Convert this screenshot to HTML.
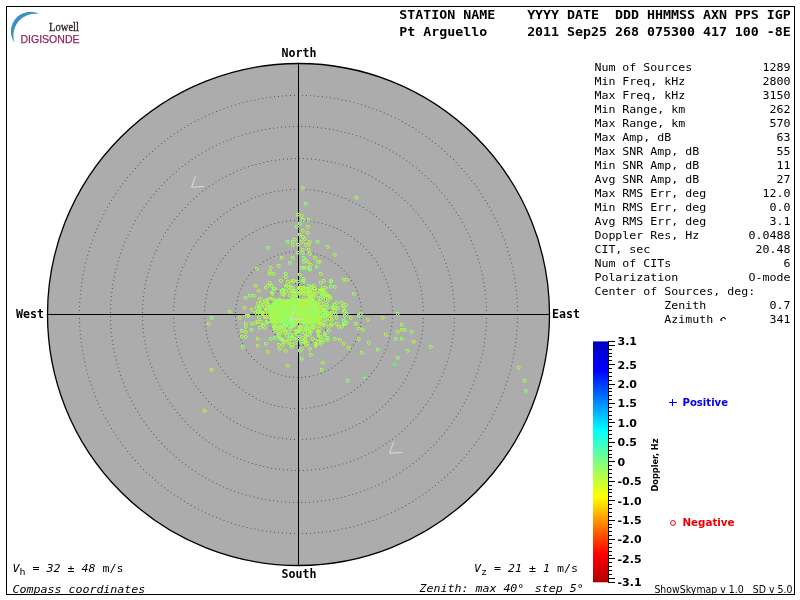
<!DOCTYPE html><html><head><meta charset="utf-8"><title>Skymap</title><style>html,body{margin:0;padding:0;background:#fff;width:800px;height:600px;overflow:hidden}svg{display:block;will-change:transform}text{font-family:"DejaVu Sans Mono","Liberation Mono",monospace;white-space:pre}</style></head><body>
<svg width="800" height="600" viewBox="0 0 800 600">
<rect x="0" y="0" width="800" height="600" fill="#fff"/>
<rect x="6.5" y="6.5" width="788" height="588" fill="none" stroke="#000" stroke-width="1"/>
<path d="M39.1 14 A19.4 19.4 0 0 0 14.6 42.7 A21.92 21.92 0 0 1 39.1 14Z" fill="#3a92c2"/>
<text x="49" y="30.8" font-size="12" fill="#2a1f2a" stroke="#2a1f2a" stroke-width="0.3" textLength="30" lengthAdjust="spacingAndGlyphs" style="font-family:'Liberation Serif',serif">Lowell</text>
<text x="20.5" y="43" font-size="11.2" fill="#952562" stroke="#952562" stroke-width="0.25" textLength="59" lengthAdjust="spacingAndGlyphs" style="font-family:'Liberation Sans',sans-serif">DIGISONDE</text>
<text transform="translate(399.3,19) scale(1,0.875)" font-size="13.29" font-weight="bold" font-style="normal" fill="#000" text-anchor="start" xml:space="preserve" >STATION NAME    YYYY DATE  DDD HHMMSS AXN PPS IGP</text>
<text transform="translate(399.3,36) scale(1,0.875)" font-size="13.29" font-weight="bold" font-style="normal" fill="#000" text-anchor="start" xml:space="preserve" >Pt Arguello     2011 Sep25 268 075300 417 100 -8E</text>
<circle cx="298.5" cy="314.5" r="251" fill="#acacac" stroke="#000" stroke-width="1.3"/>
<path d="M329.0 314.0h1v1h-1zM328.7 318.0h1v1h-1zM328.0 321.9h1v1h-1zM326.7 325.6h1v1h-1zM325.0 329.2h1v1h-1zM322.8 332.5h1v1h-1zM320.3 335.6h1v1h-1zM317.3 338.2h1v1h-1zM314.1 340.5h1v1h-1zM310.5 342.3h1v1h-1zM306.8 343.7h1v1h-1zM302.9 344.6h1v1h-1zM299.0 345.0h1v1h-1zM295.0 344.9h1v1h-1zM291.1 344.2h1v1h-1zM287.3 343.1h1v1h-1zM283.7 341.5h1v1h-1zM280.3 339.4h1v1h-1zM277.2 336.9h1v1h-1zM274.4 334.1h1v1h-1zM272.0 330.9h1v1h-1zM270.1 327.5h1v1h-1zM268.6 323.8h1v1h-1zM267.6 319.9h1v1h-1zM267.1 316.0h1v1h-1zM267.1 312.0h1v1h-1zM267.6 308.1h1v1h-1zM268.6 304.2h1v1h-1zM270.1 300.5h1v1h-1zM272.0 297.1h1v1h-1zM274.4 293.9h1v1h-1zM277.2 291.1h1v1h-1zM280.3 288.6h1v1h-1zM283.7 286.5h1v1h-1zM287.3 284.9h1v1h-1zM291.1 283.8h1v1h-1zM295.0 283.1h1v1h-1zM299.0 283.0h1v1h-1zM302.9 283.4h1v1h-1zM306.8 284.3h1v1h-1zM310.5 285.7h1v1h-1zM314.1 287.5h1v1h-1zM317.3 289.8h1v1h-1zM320.3 292.4h1v1h-1zM322.8 295.5h1v1h-1zM325.0 298.8h1v1h-1zM326.7 302.4h1v1h-1zM328.0 306.1h1v1h-1zM328.7 310.0h1v1h-1zM361.0 314.0h1v1h-1zM360.9 318.0h1v1h-1zM360.5 322.0h1v1h-1zM359.9 325.9h1v1h-1zM359.0 329.8h1v1h-1zM357.9 333.7h1v1h-1zM356.5 337.4h1v1h-1zM354.9 341.1h1v1h-1zM353.1 344.6h1v1h-1zM351.0 348.1h1v1h-1zM348.7 351.4h1v1h-1zM346.3 354.5h1v1h-1zM343.6 357.5h1v1h-1zM340.7 360.3h1v1h-1zM337.7 362.9h1v1h-1zM334.5 365.3h1v1h-1zM331.2 367.5h1v1h-1zM327.8 369.5h1v1h-1zM324.2 371.3h1v1h-1zM320.5 372.9h1v1h-1zM316.7 374.2h1v1h-1zM312.9 375.2h1v1h-1zM308.9 376.0h1v1h-1zM305.0 376.6h1v1h-1zM301.0 376.9h1v1h-1zM297.0 377.0h1v1h-1zM293.0 376.8h1v1h-1zM289.0 376.4h1v1h-1zM285.1 375.7h1v1h-1zM281.2 374.7h1v1h-1zM277.4 373.5h1v1h-1zM273.7 372.1h1v1h-1zM270.0 370.4h1v1h-1zM266.5 368.6h1v1h-1zM263.1 366.5h1v1h-1zM259.8 364.1h1v1h-1zM256.7 361.6h1v1h-1zM253.8 358.9h1v1h-1zM251.0 356.0h1v1h-1zM248.5 352.9h1v1h-1zM246.1 349.7h1v1h-1zM243.9 346.4h1v1h-1zM242.0 342.9h1v1h-1zM240.3 339.3h1v1h-1zM238.8 335.5h1v1h-1zM237.6 331.7h1v1h-1zM236.5 327.9h1v1h-1zM235.8 324.0h1v1h-1zM235.3 320.0h1v1h-1zM235.0 316.0h1v1h-1zM235.0 312.0h1v1h-1zM235.3 308.0h1v1h-1zM235.8 304.0h1v1h-1zM236.5 300.1h1v1h-1zM237.6 296.3h1v1h-1zM238.8 292.5h1v1h-1zM240.3 288.7h1v1h-1zM242.0 285.1h1v1h-1zM243.9 281.6h1v1h-1zM246.1 278.3h1v1h-1zM248.5 275.1h1v1h-1zM251.0 272.0h1v1h-1zM253.8 269.1h1v1h-1zM256.7 266.4h1v1h-1zM259.8 263.9h1v1h-1zM263.1 261.5h1v1h-1zM266.5 259.4h1v1h-1zM270.0 257.6h1v1h-1zM273.7 255.9h1v1h-1zM277.4 254.5h1v1h-1zM281.2 253.3h1v1h-1zM285.1 252.3h1v1h-1zM289.0 251.6h1v1h-1zM293.0 251.2h1v1h-1zM297.0 251.0h1v1h-1zM301.0 251.1h1v1h-1zM305.0 251.4h1v1h-1zM308.9 252.0h1v1h-1zM312.9 252.8h1v1h-1zM316.7 253.8h1v1h-1zM320.5 255.1h1v1h-1zM324.2 256.7h1v1h-1zM327.8 258.5h1v1h-1zM331.2 260.5h1v1h-1zM334.5 262.7h1v1h-1zM337.7 265.1h1v1h-1zM340.7 267.7h1v1h-1zM343.6 270.5h1v1h-1zM346.3 273.5h1v1h-1zM348.7 276.6h1v1h-1zM351.0 279.9h1v1h-1zM353.1 283.4h1v1h-1zM354.9 286.9h1v1h-1zM356.5 290.6h1v1h-1zM357.9 294.3h1v1h-1zM359.0 298.2h1v1h-1zM359.9 302.1h1v1h-1zM360.5 306.0h1v1h-1zM360.9 310.0h1v1h-1zM392.0 314.0h1v1h-1zM391.9 318.0h1v1h-1zM391.7 322.0h1v1h-1zM391.2 325.9h1v1h-1zM390.6 329.9h1v1h-1zM389.9 333.8h1v1h-1zM389.0 337.7h1v1h-1zM387.9 341.5h1v1h-1zM386.6 345.3h1v1h-1zM385.2 349.0h1v1h-1zM383.7 352.7h1v1h-1zM381.9 356.3h1v1h-1zM380.1 359.8h1v1h-1zM378.0 363.3h1v1h-1zM375.9 366.6h1v1h-1zM373.6 369.9h1v1h-1zM371.1 373.1h1v1h-1zM368.6 376.1h1v1h-1zM365.9 379.0h1v1h-1zM363.0 381.9h1v1h-1zM360.1 384.6h1v1h-1zM357.1 387.1h1v1h-1zM353.9 389.6h1v1h-1zM350.6 391.9h1v1h-1zM347.3 394.0h1v1h-1zM343.8 396.1h1v1h-1zM340.3 397.9h1v1h-1zM336.7 399.7h1v1h-1zM333.0 401.2h1v1h-1zM329.3 402.6h1v1h-1zM325.5 403.9h1v1h-1zM321.7 405.0h1v1h-1zM317.8 405.9h1v1h-1zM313.9 406.6h1v1h-1zM309.9 407.2h1v1h-1zM306.0 407.7h1v1h-1zM302.0 407.9h1v1h-1zM298.0 408.0h1v1h-1zM294.0 407.9h1v1h-1zM290.0 407.7h1v1h-1zM286.1 407.2h1v1h-1zM282.1 406.6h1v1h-1zM278.2 405.9h1v1h-1zM274.3 405.0h1v1h-1zM270.5 403.9h1v1h-1zM266.7 402.6h1v1h-1zM263.0 401.2h1v1h-1zM259.3 399.7h1v1h-1zM255.7 397.9h1v1h-1zM252.2 396.1h1v1h-1zM248.7 394.0h1v1h-1zM245.4 391.9h1v1h-1zM242.1 389.6h1v1h-1zM238.9 387.1h1v1h-1zM235.9 384.6h1v1h-1zM233.0 381.9h1v1h-1zM230.1 379.0h1v1h-1zM227.4 376.1h1v1h-1zM224.9 373.1h1v1h-1zM222.4 369.9h1v1h-1zM220.1 366.6h1v1h-1zM218.0 363.3h1v1h-1zM215.9 359.8h1v1h-1zM214.1 356.3h1v1h-1zM212.3 352.7h1v1h-1zM210.8 349.0h1v1h-1zM209.4 345.3h1v1h-1zM208.1 341.5h1v1h-1zM207.0 337.7h1v1h-1zM206.1 333.8h1v1h-1zM205.4 329.9h1v1h-1zM204.8 325.9h1v1h-1zM204.3 322.0h1v1h-1zM204.1 318.0h1v1h-1zM204.0 314.0h1v1h-1zM204.1 310.0h1v1h-1zM204.3 306.0h1v1h-1zM204.8 302.1h1v1h-1zM205.4 298.1h1v1h-1zM206.1 294.2h1v1h-1zM207.0 290.3h1v1h-1zM208.1 286.5h1v1h-1zM209.4 282.7h1v1h-1zM210.8 279.0h1v1h-1zM212.3 275.3h1v1h-1zM214.1 271.7h1v1h-1zM215.9 268.2h1v1h-1zM218.0 264.7h1v1h-1zM220.1 261.4h1v1h-1zM222.4 258.1h1v1h-1zM224.9 254.9h1v1h-1zM227.4 251.9h1v1h-1zM230.1 249.0h1v1h-1zM233.0 246.1h1v1h-1zM235.9 243.4h1v1h-1zM238.9 240.9h1v1h-1zM242.1 238.4h1v1h-1zM245.4 236.1h1v1h-1zM248.7 234.0h1v1h-1zM252.2 231.9h1v1h-1zM255.7 230.1h1v1h-1zM259.3 228.3h1v1h-1zM263.0 226.8h1v1h-1zM266.7 225.4h1v1h-1zM270.5 224.1h1v1h-1zM274.3 223.0h1v1h-1zM278.2 222.1h1v1h-1zM282.1 221.4h1v1h-1zM286.1 220.8h1v1h-1zM290.0 220.3h1v1h-1zM294.0 220.1h1v1h-1zM298.0 220.0h1v1h-1zM302.0 220.1h1v1h-1zM306.0 220.3h1v1h-1zM309.9 220.8h1v1h-1zM313.9 221.4h1v1h-1zM317.8 222.1h1v1h-1zM321.7 223.0h1v1h-1zM325.5 224.1h1v1h-1zM329.3 225.4h1v1h-1zM333.0 226.8h1v1h-1zM336.7 228.3h1v1h-1zM340.3 230.1h1v1h-1zM343.8 231.9h1v1h-1zM347.3 234.0h1v1h-1zM350.6 236.1h1v1h-1zM353.9 238.4h1v1h-1zM357.1 240.9h1v1h-1zM360.1 243.4h1v1h-1zM363.0 246.1h1v1h-1zM365.9 249.0h1v1h-1zM368.6 251.9h1v1h-1zM371.1 254.9h1v1h-1zM373.6 258.1h1v1h-1zM375.9 261.4h1v1h-1zM378.0 264.7h1v1h-1zM380.1 268.2h1v1h-1zM381.9 271.7h1v1h-1zM383.7 275.3h1v1h-1zM385.2 279.0h1v1h-1zM386.6 282.7h1v1h-1zM387.9 286.5h1v1h-1zM389.0 290.3h1v1h-1zM389.9 294.2h1v1h-1zM390.6 298.1h1v1h-1zM391.2 302.1h1v1h-1zM391.7 306.0h1v1h-1zM391.9 310.0h1v1h-1zM423.0 314.0h1v1h-1zM422.9 318.0h1v1h-1zM422.7 322.0h1v1h-1zM422.4 326.0h1v1h-1zM422.0 330.0h1v1h-1zM421.4 333.9h1v1h-1zM420.7 337.9h1v1h-1zM419.9 341.8h1v1h-1zM418.9 345.7h1v1h-1zM417.8 349.6h1v1h-1zM416.6 353.4h1v1h-1zM415.3 357.2h1v1h-1zM413.9 360.9h1v1h-1zM412.3 364.6h1v1h-1zM410.6 368.2h1v1h-1zM408.8 371.8h1v1h-1zM406.9 375.3h1v1h-1zM404.9 378.8h1v1h-1zM402.8 382.2h1v1h-1zM400.5 385.5h1v1h-1zM398.2 388.8h1v1h-1zM395.7 391.9h1v1h-1zM393.2 395.0h1v1h-1zM390.5 398.0h1v1h-1zM387.8 401.0h1v1h-1zM385.0 403.8h1v1h-1zM382.0 406.5h1v1h-1zM379.0 409.2h1v1h-1zM375.9 411.7h1v1h-1zM372.8 414.2h1v1h-1zM369.5 416.5h1v1h-1zM366.2 418.8h1v1h-1zM362.8 420.9h1v1h-1zM359.3 422.9h1v1h-1zM355.8 424.8h1v1h-1zM352.2 426.6h1v1h-1zM348.6 428.3h1v1h-1zM344.9 429.9h1v1h-1zM341.2 431.3h1v1h-1zM337.4 432.6h1v1h-1zM333.6 433.8h1v1h-1zM329.7 434.9h1v1h-1zM325.8 435.9h1v1h-1zM321.9 436.7h1v1h-1zM317.9 437.4h1v1h-1zM314.0 438.0h1v1h-1zM310.0 438.4h1v1h-1zM306.0 438.7h1v1h-1zM302.0 438.9h1v1h-1zM298.0 439.0h1v1h-1zM294.0 438.9h1v1h-1zM290.0 438.7h1v1h-1zM286.0 438.4h1v1h-1zM282.0 438.0h1v1h-1zM278.1 437.4h1v1h-1zM274.1 436.7h1v1h-1zM270.2 435.9h1v1h-1zM266.3 434.9h1v1h-1zM262.4 433.8h1v1h-1zM258.6 432.6h1v1h-1zM254.8 431.3h1v1h-1zM251.1 429.9h1v1h-1zM247.4 428.3h1v1h-1zM243.8 426.6h1v1h-1zM240.2 424.8h1v1h-1zM236.7 422.9h1v1h-1zM233.2 420.9h1v1h-1zM229.8 418.8h1v1h-1zM226.5 416.5h1v1h-1zM223.2 414.2h1v1h-1zM220.1 411.7h1v1h-1zM217.0 409.2h1v1h-1zM214.0 406.5h1v1h-1zM211.0 403.8h1v1h-1zM208.2 401.0h1v1h-1zM205.5 398.0h1v1h-1zM202.8 395.0h1v1h-1zM200.3 391.9h1v1h-1zM197.8 388.8h1v1h-1zM195.5 385.5h1v1h-1zM193.2 382.2h1v1h-1zM191.1 378.8h1v1h-1zM189.1 375.3h1v1h-1zM187.2 371.8h1v1h-1zM185.4 368.2h1v1h-1zM183.7 364.6h1v1h-1zM182.1 360.9h1v1h-1zM180.7 357.2h1v1h-1zM179.4 353.4h1v1h-1zM178.2 349.6h1v1h-1zM177.1 345.7h1v1h-1zM176.1 341.8h1v1h-1zM175.3 337.9h1v1h-1zM174.6 333.9h1v1h-1zM174.0 330.0h1v1h-1zM173.6 326.0h1v1h-1zM173.3 322.0h1v1h-1zM173.1 318.0h1v1h-1zM173.0 314.0h1v1h-1zM173.1 310.0h1v1h-1zM173.3 306.0h1v1h-1zM173.6 302.0h1v1h-1zM174.0 298.0h1v1h-1zM174.6 294.1h1v1h-1zM175.3 290.1h1v1h-1zM176.1 286.2h1v1h-1zM177.1 282.3h1v1h-1zM178.2 278.4h1v1h-1zM179.4 274.6h1v1h-1zM180.7 270.8h1v1h-1zM182.1 267.1h1v1h-1zM183.7 263.4h1v1h-1zM185.4 259.8h1v1h-1zM187.2 256.2h1v1h-1zM189.1 252.7h1v1h-1zM191.1 249.2h1v1h-1zM193.2 245.8h1v1h-1zM195.5 242.5h1v1h-1zM197.8 239.2h1v1h-1zM200.3 236.1h1v1h-1zM202.8 233.0h1v1h-1zM205.5 230.0h1v1h-1zM208.2 227.0h1v1h-1zM211.0 224.2h1v1h-1zM214.0 221.5h1v1h-1zM217.0 218.8h1v1h-1zM220.1 216.3h1v1h-1zM223.2 213.8h1v1h-1zM226.5 211.5h1v1h-1zM229.8 209.2h1v1h-1zM233.2 207.1h1v1h-1zM236.7 205.1h1v1h-1zM240.2 203.2h1v1h-1zM243.8 201.4h1v1h-1zM247.4 199.7h1v1h-1zM251.1 198.1h1v1h-1zM254.8 196.7h1v1h-1zM258.6 195.4h1v1h-1zM262.4 194.2h1v1h-1zM266.3 193.1h1v1h-1zM270.2 192.1h1v1h-1zM274.1 191.3h1v1h-1zM278.1 190.6h1v1h-1zM282.0 190.0h1v1h-1zM286.0 189.6h1v1h-1zM290.0 189.3h1v1h-1zM294.0 189.1h1v1h-1zM298.0 189.0h1v1h-1zM302.0 189.1h1v1h-1zM306.0 189.3h1v1h-1zM310.0 189.6h1v1h-1zM314.0 190.0h1v1h-1zM317.9 190.6h1v1h-1zM321.9 191.3h1v1h-1zM325.8 192.1h1v1h-1zM329.7 193.1h1v1h-1zM333.6 194.2h1v1h-1zM337.4 195.4h1v1h-1zM341.2 196.7h1v1h-1zM344.9 198.1h1v1h-1zM348.6 199.7h1v1h-1zM352.2 201.4h1v1h-1zM355.8 203.2h1v1h-1zM359.3 205.1h1v1h-1zM362.8 207.1h1v1h-1zM366.2 209.2h1v1h-1zM369.5 211.5h1v1h-1zM372.8 213.8h1v1h-1zM375.9 216.3h1v1h-1zM379.0 218.8h1v1h-1zM382.0 221.5h1v1h-1zM385.0 224.2h1v1h-1zM387.8 227.0h1v1h-1zM390.5 230.0h1v1h-1zM393.2 233.0h1v1h-1zM395.7 236.1h1v1h-1zM398.2 239.2h1v1h-1zM400.5 242.5h1v1h-1zM402.8 245.8h1v1h-1zM404.9 249.2h1v1h-1zM406.9 252.7h1v1h-1zM408.8 256.2h1v1h-1zM410.6 259.8h1v1h-1zM412.3 263.4h1v1h-1zM413.9 267.1h1v1h-1zM415.3 270.8h1v1h-1zM416.6 274.6h1v1h-1zM417.8 278.4h1v1h-1zM418.9 282.3h1v1h-1zM419.9 286.2h1v1h-1zM420.7 290.1h1v1h-1zM421.4 294.1h1v1h-1zM422.0 298.0h1v1h-1zM422.4 302.0h1v1h-1zM422.7 306.0h1v1h-1zM422.9 310.0h1v1h-1zM454.0 314.0h1v1h-1zM453.9 318.0h1v1h-1zM453.8 322.0h1v1h-1zM453.5 326.0h1v1h-1zM453.2 330.0h1v1h-1zM452.7 333.9h1v1h-1zM452.2 337.9h1v1h-1zM451.5 341.9h1v1h-1zM450.7 345.8h1v1h-1zM449.9 349.7h1v1h-1zM448.9 353.6h1v1h-1zM447.8 357.4h1v1h-1zM446.7 361.3h1v1h-1zM445.4 365.1h1v1h-1zM444.1 368.8h1v1h-1zM442.6 372.5h1v1h-1zM441.1 376.2h1v1h-1zM439.4 379.9h1v1h-1zM437.7 383.5h1v1h-1zM435.8 387.0h1v1h-1zM433.9 390.6h1v1h-1zM431.9 394.0h1v1h-1zM429.8 397.4h1v1h-1zM427.6 400.8h1v1h-1zM425.4 404.1h1v1h-1zM423.0 407.3h1v1h-1zM420.6 410.5h1v1h-1zM418.1 413.6h1v1h-1zM415.5 416.6h1v1h-1zM412.8 419.6h1v1h-1zM410.1 422.5h1v1h-1zM407.2 425.4h1v1h-1zM404.4 428.1h1v1h-1zM401.4 430.8h1v1h-1zM398.4 433.4h1v1h-1zM395.3 436.0h1v1h-1zM392.1 438.4h1v1h-1zM388.9 440.8h1v1h-1zM385.6 443.1h1v1h-1zM382.3 445.3h1v1h-1zM378.9 447.4h1v1h-1zM375.4 449.4h1v1h-1zM371.9 451.4h1v1h-1zM368.4 453.2h1v1h-1zM364.8 455.0h1v1h-1zM361.1 456.6h1v1h-1zM357.5 458.2h1v1h-1zM353.7 459.7h1v1h-1zM350.0 461.1h1v1h-1zM346.2 462.4h1v1h-1zM342.4 463.6h1v1h-1zM338.5 464.6h1v1h-1zM334.7 465.6h1v1h-1zM330.8 466.5h1v1h-1zM326.8 467.3h1v1h-1zM322.9 468.0h1v1h-1zM318.9 468.6h1v1h-1zM315.0 469.1h1v1h-1zM311.0 469.5h1v1h-1zM307.0 469.7h1v1h-1zM303.0 469.9h1v1h-1zM299.0 470.0h1v1h-1zM295.0 470.0h1v1h-1zM291.0 469.8h1v1h-1zM287.0 469.6h1v1h-1zM283.0 469.3h1v1h-1zM279.0 468.8h1v1h-1zM275.1 468.3h1v1h-1zM271.1 467.7h1v1h-1zM267.2 466.9h1v1h-1zM263.3 466.1h1v1h-1zM259.4 465.1h1v1h-1zM255.5 464.1h1v1h-1zM251.7 463.0h1v1h-1zM247.9 461.7h1v1h-1zM244.1 460.4h1v1h-1zM240.4 459.0h1v1h-1zM236.7 457.4h1v1h-1zM233.0 455.8h1v1h-1zM229.4 454.1h1v1h-1zM225.8 452.3h1v1h-1zM222.3 450.4h1v1h-1zM218.8 448.4h1v1h-1zM215.4 446.4h1v1h-1zM212.1 444.2h1v1h-1zM208.7 441.9h1v1h-1zM205.5 439.6h1v1h-1zM202.3 437.2h1v1h-1zM199.2 434.7h1v1h-1zM196.1 432.1h1v1h-1zM193.1 429.5h1v1h-1zM190.2 426.8h1v1h-1zM187.3 424.0h1v1h-1zM184.6 421.1h1v1h-1zM181.8 418.1h1v1h-1zM179.2 415.1h1v1h-1zM176.7 412.0h1v1h-1zM174.2 408.9h1v1h-1zM171.8 405.7h1v1h-1zM169.5 402.4h1v1h-1zM167.3 399.1h1v1h-1zM165.1 395.7h1v1h-1zM163.1 392.3h1v1h-1zM161.1 388.8h1v1h-1zM159.2 385.3h1v1h-1zM157.4 381.7h1v1h-1zM155.8 378.1h1v1h-1zM154.2 374.4h1v1h-1zM152.7 370.7h1v1h-1zM151.3 366.9h1v1h-1zM149.9 363.2h1v1h-1zM148.7 359.3h1v1h-1zM147.6 355.5h1v1h-1zM146.6 351.6h1v1h-1zM145.7 347.7h1v1h-1zM144.9 343.8h1v1h-1zM144.2 339.9h1v1h-1zM143.5 335.9h1v1h-1zM143.0 332.0h1v1h-1zM142.6 328.0h1v1h-1zM142.3 324.0h1v1h-1zM142.1 320.0h1v1h-1zM142.0 316.0h1v1h-1zM142.0 312.0h1v1h-1zM142.1 308.0h1v1h-1zM142.3 304.0h1v1h-1zM142.6 300.0h1v1h-1zM143.0 296.0h1v1h-1zM143.5 292.1h1v1h-1zM144.2 288.1h1v1h-1zM144.9 284.2h1v1h-1zM145.7 280.3h1v1h-1zM146.6 276.4h1v1h-1zM147.6 272.5h1v1h-1zM148.7 268.7h1v1h-1zM149.9 264.8h1v1h-1zM151.3 261.1h1v1h-1zM152.7 257.3h1v1h-1zM154.2 253.6h1v1h-1zM155.8 249.9h1v1h-1zM157.4 246.3h1v1h-1zM159.2 242.7h1v1h-1zM161.1 239.2h1v1h-1zM163.1 235.7h1v1h-1zM165.1 232.3h1v1h-1zM167.3 228.9h1v1h-1zM169.5 225.6h1v1h-1zM171.8 222.3h1v1h-1zM174.2 219.1h1v1h-1zM176.7 216.0h1v1h-1zM179.2 212.9h1v1h-1zM181.8 209.9h1v1h-1zM184.6 206.9h1v1h-1zM187.3 204.0h1v1h-1zM190.2 201.2h1v1h-1zM193.1 198.5h1v1h-1zM196.1 195.9h1v1h-1zM199.2 193.3h1v1h-1zM202.3 190.8h1v1h-1zM205.5 188.4h1v1h-1zM208.7 186.1h1v1h-1zM212.1 183.8h1v1h-1zM215.4 181.6h1v1h-1zM218.8 179.6h1v1h-1zM222.3 177.6h1v1h-1zM225.8 175.7h1v1h-1zM229.4 173.9h1v1h-1zM233.0 172.2h1v1h-1zM236.7 170.6h1v1h-1zM240.4 169.0h1v1h-1zM244.1 167.6h1v1h-1zM247.9 166.3h1v1h-1zM251.7 165.0h1v1h-1zM255.5 163.9h1v1h-1zM259.4 162.9h1v1h-1zM263.3 161.9h1v1h-1zM267.2 161.1h1v1h-1zM271.1 160.3h1v1h-1zM275.1 159.7h1v1h-1zM279.0 159.2h1v1h-1zM283.0 158.7h1v1h-1zM287.0 158.4h1v1h-1zM291.0 158.2h1v1h-1zM295.0 158.0h1v1h-1zM299.0 158.0h1v1h-1zM303.0 158.1h1v1h-1zM307.0 158.3h1v1h-1zM311.0 158.5h1v1h-1zM315.0 158.9h1v1h-1zM318.9 159.4h1v1h-1zM322.9 160.0h1v1h-1zM326.8 160.7h1v1h-1zM330.8 161.5h1v1h-1zM334.7 162.4h1v1h-1zM338.5 163.4h1v1h-1zM342.4 164.4h1v1h-1zM346.2 165.6h1v1h-1zM350.0 166.9h1v1h-1zM353.7 168.3h1v1h-1zM357.5 169.8h1v1h-1zM361.1 171.4h1v1h-1zM364.8 173.0h1v1h-1zM368.4 174.8h1v1h-1zM371.9 176.6h1v1h-1zM375.4 178.6h1v1h-1zM378.9 180.6h1v1h-1zM382.3 182.7h1v1h-1zM385.6 184.9h1v1h-1zM388.9 187.2h1v1h-1zM392.1 189.6h1v1h-1zM395.3 192.0h1v1h-1zM398.4 194.6h1v1h-1zM401.4 197.2h1v1h-1zM404.4 199.9h1v1h-1zM407.2 202.6h1v1h-1zM410.1 205.5h1v1h-1zM412.8 208.4h1v1h-1zM415.5 211.4h1v1h-1zM418.1 214.4h1v1h-1zM420.6 217.5h1v1h-1zM423.0 220.7h1v1h-1zM425.4 223.9h1v1h-1zM427.6 227.2h1v1h-1zM429.8 230.6h1v1h-1zM431.9 234.0h1v1h-1zM433.9 237.4h1v1h-1zM435.8 241.0h1v1h-1zM437.7 244.5h1v1h-1zM439.4 248.1h1v1h-1zM441.1 251.8h1v1h-1zM442.6 255.5h1v1h-1zM444.1 259.2h1v1h-1zM445.4 262.9h1v1h-1zM446.7 266.7h1v1h-1zM447.8 270.6h1v1h-1zM448.9 274.4h1v1h-1zM449.9 278.3h1v1h-1zM450.7 282.2h1v1h-1zM451.5 286.1h1v1h-1zM452.2 290.1h1v1h-1zM452.7 294.1h1v1h-1zM453.2 298.0h1v1h-1zM453.5 302.0h1v1h-1zM453.8 306.0h1v1h-1zM453.9 310.0h1v1h-1zM486.0 314.0h1v1h-1zM486.0 318.0h1v1h-1zM485.8 322.0h1v1h-1zM485.6 326.0h1v1h-1zM485.3 330.0h1v1h-1zM484.9 334.0h1v1h-1zM484.5 338.0h1v1h-1zM483.9 341.9h1v1h-1zM483.3 345.9h1v1h-1zM482.6 349.8h1v1h-1zM481.8 353.7h1v1h-1zM480.9 357.6h1v1h-1zM479.9 361.5h1v1h-1zM478.8 365.4h1v1h-1zM477.7 369.2h1v1h-1zM476.5 373.0h1v1h-1zM475.2 376.8h1v1h-1zM473.8 380.6h1v1h-1zM472.4 384.3h1v1h-1zM470.8 388.0h1v1h-1zM469.2 391.7h1v1h-1zM467.5 395.3h1v1h-1zM465.7 398.9h1v1h-1zM463.9 402.5h1v1h-1zM462.0 406.0h1v1h-1zM460.0 409.4h1v1h-1zM457.9 412.9h1v1h-1zM455.8 416.3h1v1h-1zM453.5 419.6h1v1h-1zM451.3 422.9h1v1h-1zM448.9 426.1h1v1h-1zM446.5 429.3h1v1h-1zM444.0 432.4h1v1h-1zM441.4 435.5h1v1h-1zM438.8 438.6h1v1h-1zM436.1 441.5h1v1h-1zM433.4 444.4h1v1h-1zM430.6 447.3h1v1h-1zM427.7 450.1h1v1h-1zM424.8 452.8h1v1h-1zM421.8 455.5h1v1h-1zM418.8 458.1h1v1h-1zM415.7 460.6h1v1h-1zM412.5 463.1h1v1h-1zM409.3 465.5h1v1h-1zM406.1 467.8h1v1h-1zM402.8 470.1h1v1h-1zM399.4 472.3h1v1h-1zM396.0 474.4h1v1h-1zM392.6 476.5h1v1h-1zM389.1 478.5h1v1h-1zM385.6 480.4h1v1h-1zM382.0 482.2h1v1h-1zM378.4 483.9h1v1h-1zM374.8 485.6h1v1h-1zM371.1 487.2h1v1h-1zM367.4 488.7h1v1h-1zM363.7 490.2h1v1h-1zM359.9 491.5h1v1h-1zM356.1 492.8h1v1h-1zM352.3 494.0h1v1h-1zM348.4 495.1h1v1h-1zM344.6 496.1h1v1h-1zM340.7 497.1h1v1h-1zM336.8 498.0h1v1h-1zM332.8 498.7h1v1h-1zM328.9 499.4h1v1h-1zM324.9 500.1h1v1h-1zM321.0 500.6h1v1h-1zM317.0 501.0h1v1h-1zM313.0 501.4h1v1h-1zM309.0 501.7h1v1h-1zM305.0 501.9h1v1h-1zM301.0 502.0h1v1h-1zM297.0 502.0h1v1h-1zM293.0 501.9h1v1h-1zM289.0 501.8h1v1h-1zM285.0 501.5h1v1h-1zM281.0 501.2h1v1h-1zM277.0 500.8h1v1h-1zM273.0 500.3h1v1h-1zM269.1 499.8h1v1h-1zM265.1 499.1h1v1h-1zM261.2 498.4h1v1h-1zM257.3 497.5h1v1h-1zM253.4 496.6h1v1h-1zM249.5 495.6h1v1h-1zM245.6 494.6h1v1h-1zM241.8 493.4h1v1h-1zM238.0 492.2h1v1h-1zM234.2 490.9h1v1h-1zM230.5 489.5h1v1h-1zM226.7 488.0h1v1h-1zM223.1 486.4h1v1h-1zM219.4 484.8h1v1h-1zM215.8 483.1h1v1h-1zM212.2 481.3h1v1h-1zM208.7 479.4h1v1h-1zM205.2 477.5h1v1h-1zM201.7 475.5h1v1h-1zM198.3 473.4h1v1h-1zM194.9 471.2h1v1h-1zM191.6 469.0h1v1h-1zM188.3 466.7h1v1h-1zM185.1 464.3h1v1h-1zM181.9 461.9h1v1h-1zM178.8 459.4h1v1h-1zM175.7 456.8h1v1h-1zM172.7 454.2h1v1h-1zM169.7 451.5h1v1h-1zM166.8 448.7h1v1h-1zM164.0 445.9h1v1h-1zM161.2 443.0h1v1h-1zM158.5 440.0h1v1h-1zM155.9 437.0h1v1h-1zM153.3 434.0h1v1h-1zM150.7 430.9h1v1h-1zM148.3 427.7h1v1h-1zM145.9 424.5h1v1h-1zM143.6 421.2h1v1h-1zM141.3 417.9h1v1h-1zM139.2 414.6h1v1h-1zM137.1 411.2h1v1h-1zM135.0 407.7h1v1h-1zM133.1 404.2h1v1h-1zM131.2 400.7h1v1h-1zM129.4 397.1h1v1h-1zM127.6 393.5h1v1h-1zM126.0 389.9h1v1h-1zM124.4 386.2h1v1h-1zM122.9 382.5h1v1h-1zM121.5 378.7h1v1h-1zM120.2 374.9h1v1h-1zM118.9 371.1h1v1h-1zM117.7 367.3h1v1h-1zM116.6 363.5h1v1h-1zM115.6 359.6h1v1h-1zM114.7 355.7h1v1h-1zM113.8 351.8h1v1h-1zM113.1 347.9h1v1h-1zM112.4 343.9h1v1h-1zM111.8 339.9h1v1h-1zM111.3 336.0h1v1h-1zM110.9 332.0h1v1h-1zM110.5 328.0h1v1h-1zM110.3 324.0h1v1h-1zM110.1 320.0h1v1h-1zM110.0 316.0h1v1h-1zM110.0 312.0h1v1h-1zM110.1 308.0h1v1h-1zM110.3 304.0h1v1h-1zM110.5 300.0h1v1h-1zM110.9 296.0h1v1h-1zM111.3 292.0h1v1h-1zM111.8 288.1h1v1h-1zM112.4 284.1h1v1h-1zM113.1 280.1h1v1h-1zM113.8 276.2h1v1h-1zM114.7 272.3h1v1h-1zM115.6 268.4h1v1h-1zM116.6 264.5h1v1h-1zM117.7 260.7h1v1h-1zM118.9 256.9h1v1h-1zM120.2 253.1h1v1h-1zM121.5 249.3h1v1h-1zM122.9 245.5h1v1h-1zM124.4 241.8h1v1h-1zM126.0 238.1h1v1h-1zM127.6 234.5h1v1h-1zM129.4 230.9h1v1h-1zM131.2 227.3h1v1h-1zM133.1 223.8h1v1h-1zM135.0 220.3h1v1h-1zM137.1 216.8h1v1h-1zM139.2 213.4h1v1h-1zM141.3 210.1h1v1h-1zM143.6 206.8h1v1h-1zM145.9 203.5h1v1h-1zM148.3 200.3h1v1h-1zM150.7 197.1h1v1h-1zM153.3 194.0h1v1h-1zM155.9 191.0h1v1h-1zM158.5 188.0h1v1h-1zM161.2 185.0h1v1h-1zM164.0 182.1h1v1h-1zM166.8 179.3h1v1h-1zM169.7 176.5h1v1h-1zM172.7 173.8h1v1h-1zM175.7 171.2h1v1h-1zM178.8 168.6h1v1h-1zM181.9 166.1h1v1h-1zM185.1 163.7h1v1h-1zM188.3 161.3h1v1h-1zM191.6 159.0h1v1h-1zM194.9 156.8h1v1h-1zM198.3 154.6h1v1h-1zM201.7 152.5h1v1h-1zM205.2 150.5h1v1h-1zM208.7 148.6h1v1h-1zM212.2 146.7h1v1h-1zM215.8 144.9h1v1h-1zM219.4 143.2h1v1h-1zM223.1 141.6h1v1h-1zM226.7 140.0h1v1h-1zM230.5 138.5h1v1h-1zM234.2 137.1h1v1h-1zM238.0 135.8h1v1h-1zM241.8 134.6h1v1h-1zM245.6 133.4h1v1h-1zM249.5 132.4h1v1h-1zM253.4 131.4h1v1h-1zM257.3 130.5h1v1h-1zM261.2 129.6h1v1h-1zM265.1 128.9h1v1h-1zM269.1 128.2h1v1h-1zM273.0 127.7h1v1h-1zM277.0 127.2h1v1h-1zM281.0 126.8h1v1h-1zM285.0 126.5h1v1h-1zM289.0 126.2h1v1h-1zM293.0 126.1h1v1h-1zM297.0 126.0h1v1h-1zM301.0 126.0h1v1h-1zM305.0 126.1h1v1h-1zM309.0 126.3h1v1h-1zM313.0 126.6h1v1h-1zM317.0 127.0h1v1h-1zM321.0 127.4h1v1h-1zM324.9 127.9h1v1h-1zM328.9 128.6h1v1h-1zM332.8 129.3h1v1h-1zM336.8 130.0h1v1h-1zM340.7 130.9h1v1h-1zM344.6 131.9h1v1h-1zM348.4 132.9h1v1h-1zM352.3 134.0h1v1h-1zM356.1 135.2h1v1h-1zM359.9 136.5h1v1h-1zM363.7 137.8h1v1h-1zM367.4 139.3h1v1h-1zM371.1 140.8h1v1h-1zM374.8 142.4h1v1h-1zM378.4 144.1h1v1h-1zM382.0 145.8h1v1h-1zM385.6 147.6h1v1h-1zM389.1 149.5h1v1h-1zM392.6 151.5h1v1h-1zM396.0 153.6h1v1h-1zM399.4 155.7h1v1h-1zM402.8 157.9h1v1h-1zM406.1 160.2h1v1h-1zM409.3 162.5h1v1h-1zM412.5 164.9h1v1h-1zM415.7 167.4h1v1h-1zM418.8 169.9h1v1h-1zM421.8 172.5h1v1h-1zM424.8 175.2h1v1h-1zM427.7 177.9h1v1h-1zM430.6 180.7h1v1h-1zM433.4 183.6h1v1h-1zM436.1 186.5h1v1h-1zM438.8 189.4h1v1h-1zM441.4 192.5h1v1h-1zM444.0 195.6h1v1h-1zM446.5 198.7h1v1h-1zM448.9 201.9h1v1h-1zM451.3 205.1h1v1h-1zM453.5 208.4h1v1h-1zM455.8 211.7h1v1h-1zM457.9 215.1h1v1h-1zM460.0 218.6h1v1h-1zM462.0 222.0h1v1h-1zM463.9 225.5h1v1h-1zM465.7 229.1h1v1h-1zM467.5 232.7h1v1h-1zM469.2 236.3h1v1h-1zM470.8 240.0h1v1h-1zM472.4 243.7h1v1h-1zM473.8 247.4h1v1h-1zM475.2 251.2h1v1h-1zM476.5 255.0h1v1h-1zM477.7 258.8h1v1h-1zM478.8 262.6h1v1h-1zM479.9 266.5h1v1h-1zM480.9 270.4h1v1h-1zM481.8 274.3h1v1h-1zM482.6 278.2h1v1h-1zM483.3 282.1h1v1h-1zM483.9 286.1h1v1h-1zM484.5 290.0h1v1h-1zM484.9 294.0h1v1h-1zM485.3 298.0h1v1h-1zM485.6 302.0h1v1h-1zM485.8 306.0h1v1h-1zM486.0 310.0h1v1h-1zM517.0 314.0h1v1h-1zM517.0 318.0h1v1h-1zM516.9 322.0h1v1h-1zM516.7 326.0h1v1h-1zM516.4 330.0h1v1h-1zM516.1 334.0h1v1h-1zM515.7 338.0h1v1h-1zM515.2 341.9h1v1h-1zM514.7 345.9h1v1h-1zM514.0 349.8h1v1h-1zM513.4 353.8h1v1h-1zM512.6 357.7h1v1h-1zM511.8 361.6h1v1h-1zM510.9 365.5h1v1h-1zM509.9 369.4h1v1h-1zM508.8 373.3h1v1h-1zM507.7 377.1h1v1h-1zM506.5 380.9h1v1h-1zM505.3 384.7h1v1h-1zM503.9 388.5h1v1h-1zM502.5 392.2h1v1h-1zM501.1 396.0h1v1h-1zM499.6 399.7h1v1h-1zM498.0 403.3h1v1h-1zM496.3 407.0h1v1h-1zM494.6 410.6h1v1h-1zM492.8 414.1h1v1h-1zM490.9 417.7h1v1h-1zM489.0 421.2h1v1h-1zM487.0 424.7h1v1h-1zM484.9 428.1h1v1h-1zM482.8 431.5h1v1h-1zM480.6 434.8h1v1h-1zM478.4 438.2h1v1h-1zM476.1 441.4h1v1h-1zM473.8 444.7h1v1h-1zM471.3 447.8h1v1h-1zM468.9 451.0h1v1h-1zM466.3 454.1h1v1h-1zM463.7 457.1h1v1h-1zM461.1 460.1h1v1h-1zM458.4 463.1h1v1h-1zM455.7 466.0h1v1h-1zM452.9 468.9h1v1h-1zM450.0 471.7h1v1h-1zM447.1 474.4h1v1h-1zM444.1 477.1h1v1h-1zM441.1 479.7h1v1h-1zM438.1 482.3h1v1h-1zM435.0 484.9h1v1h-1zM431.8 487.3h1v1h-1zM428.7 489.8h1v1h-1zM425.4 492.1h1v1h-1zM422.2 494.4h1v1h-1zM418.8 496.6h1v1h-1zM415.5 498.8h1v1h-1zM412.1 500.9h1v1h-1zM408.7 503.0h1v1h-1zM405.2 505.0h1v1h-1zM401.7 506.9h1v1h-1zM398.1 508.8h1v1h-1zM394.6 510.6h1v1h-1zM391.0 512.3h1v1h-1zM387.3 514.0h1v1h-1zM383.7 515.6h1v1h-1zM380.0 517.1h1v1h-1zM376.2 518.5h1v1h-1zM372.5 519.9h1v1h-1zM368.7 521.3h1v1h-1zM364.9 522.5h1v1h-1zM361.1 523.7h1v1h-1zM357.3 524.8h1v1h-1zM353.4 525.9h1v1h-1zM349.5 526.9h1v1h-1zM345.6 527.8h1v1h-1zM341.7 528.6h1v1h-1zM337.8 529.4h1v1h-1zM333.8 530.0h1v1h-1zM329.9 530.7h1v1h-1zM325.9 531.2h1v1h-1zM322.0 531.7h1v1h-1zM318.0 532.1h1v1h-1zM314.0 532.4h1v1h-1zM310.0 532.7h1v1h-1zM306.0 532.9h1v1h-1zM302.0 533.0h1v1h-1zM298.0 533.0h1v1h-1zM294.0 533.0h1v1h-1zM290.0 532.9h1v1h-1zM286.0 532.7h1v1h-1zM282.0 532.4h1v1h-1zM278.0 532.1h1v1h-1zM274.0 531.7h1v1h-1zM270.1 531.2h1v1h-1zM266.1 530.7h1v1h-1zM262.2 530.0h1v1h-1zM258.2 529.4h1v1h-1zM254.3 528.6h1v1h-1zM250.4 527.8h1v1h-1zM246.5 526.9h1v1h-1zM242.6 525.9h1v1h-1zM238.7 524.8h1v1h-1zM234.9 523.7h1v1h-1zM231.1 522.5h1v1h-1zM227.3 521.3h1v1h-1zM223.5 519.9h1v1h-1zM219.8 518.5h1v1h-1zM216.0 517.1h1v1h-1zM212.3 515.6h1v1h-1zM208.7 514.0h1v1h-1zM205.0 512.3h1v1h-1zM201.4 510.6h1v1h-1zM197.9 508.8h1v1h-1zM194.3 506.9h1v1h-1zM190.8 505.0h1v1h-1zM187.3 503.0h1v1h-1zM183.9 500.9h1v1h-1zM180.5 498.8h1v1h-1zM177.2 496.6h1v1h-1zM173.8 494.4h1v1h-1zM170.6 492.1h1v1h-1zM167.3 489.8h1v1h-1zM164.2 487.3h1v1h-1zM161.0 484.9h1v1h-1zM157.9 482.3h1v1h-1zM154.9 479.7h1v1h-1zM151.9 477.1h1v1h-1zM148.9 474.4h1v1h-1zM146.0 471.7h1v1h-1zM143.1 468.9h1v1h-1zM140.3 466.0h1v1h-1zM137.6 463.1h1v1h-1zM134.9 460.1h1v1h-1zM132.3 457.1h1v1h-1zM129.7 454.1h1v1h-1zM127.1 451.0h1v1h-1zM124.7 447.8h1v1h-1zM122.2 444.7h1v1h-1zM119.9 441.4h1v1h-1zM117.6 438.2h1v1h-1zM115.4 434.8h1v1h-1zM113.2 431.5h1v1h-1zM111.1 428.1h1v1h-1zM109.0 424.7h1v1h-1zM107.0 421.2h1v1h-1zM105.1 417.7h1v1h-1zM103.2 414.1h1v1h-1zM101.4 410.6h1v1h-1zM99.7 407.0h1v1h-1zM98.0 403.3h1v1h-1zM96.4 399.7h1v1h-1zM94.9 396.0h1v1h-1zM93.5 392.2h1v1h-1zM92.1 388.5h1v1h-1zM90.7 384.7h1v1h-1zM89.5 380.9h1v1h-1zM88.3 377.1h1v1h-1zM87.2 373.3h1v1h-1zM86.1 369.4h1v1h-1zM85.1 365.5h1v1h-1zM84.2 361.6h1v1h-1zM83.4 357.7h1v1h-1zM82.6 353.8h1v1h-1zM82.0 349.8h1v1h-1zM81.3 345.9h1v1h-1zM80.8 341.9h1v1h-1zM80.3 338.0h1v1h-1zM79.9 334.0h1v1h-1zM79.6 330.0h1v1h-1zM79.3 326.0h1v1h-1zM79.1 322.0h1v1h-1zM79.0 318.0h1v1h-1zM79.0 314.0h1v1h-1zM79.0 310.0h1v1h-1zM79.1 306.0h1v1h-1zM79.3 302.0h1v1h-1zM79.6 298.0h1v1h-1zM79.9 294.0h1v1h-1zM80.3 290.0h1v1h-1zM80.8 286.1h1v1h-1zM81.3 282.1h1v1h-1zM82.0 278.2h1v1h-1zM82.6 274.2h1v1h-1zM83.4 270.3h1v1h-1zM84.2 266.4h1v1h-1zM85.1 262.5h1v1h-1zM86.1 258.6h1v1h-1zM87.2 254.7h1v1h-1zM88.3 250.9h1v1h-1zM89.5 247.1h1v1h-1zM90.7 243.3h1v1h-1zM92.1 239.5h1v1h-1zM93.5 235.8h1v1h-1zM94.9 232.0h1v1h-1zM96.4 228.3h1v1h-1zM98.0 224.7h1v1h-1zM99.7 221.0h1v1h-1zM101.4 217.4h1v1h-1zM103.2 213.9h1v1h-1zM105.1 210.3h1v1h-1zM107.0 206.8h1v1h-1zM109.0 203.3h1v1h-1zM111.1 199.9h1v1h-1zM113.2 196.5h1v1h-1zM115.4 193.2h1v1h-1zM117.6 189.8h1v1h-1zM119.9 186.6h1v1h-1zM122.2 183.3h1v1h-1zM124.7 180.2h1v1h-1zM127.1 177.0h1v1h-1zM129.7 173.9h1v1h-1zM132.3 170.9h1v1h-1zM134.9 167.9h1v1h-1zM137.6 164.9h1v1h-1zM140.3 162.0h1v1h-1zM143.1 159.1h1v1h-1zM146.0 156.3h1v1h-1zM148.9 153.6h1v1h-1zM151.9 150.9h1v1h-1zM154.9 148.3h1v1h-1zM157.9 145.7h1v1h-1zM161.0 143.1h1v1h-1zM164.2 140.7h1v1h-1zM167.3 138.2h1v1h-1zM170.6 135.9h1v1h-1zM173.8 133.6h1v1h-1zM177.2 131.4h1v1h-1zM180.5 129.2h1v1h-1zM183.9 127.1h1v1h-1zM187.3 125.0h1v1h-1zM190.8 123.0h1v1h-1zM194.3 121.1h1v1h-1zM197.9 119.2h1v1h-1zM201.4 117.4h1v1h-1zM205.0 115.7h1v1h-1zM208.7 114.0h1v1h-1zM212.3 112.4h1v1h-1zM216.0 110.9h1v1h-1zM219.8 109.5h1v1h-1zM223.5 108.1h1v1h-1zM227.3 106.7h1v1h-1zM231.1 105.5h1v1h-1zM234.9 104.3h1v1h-1zM238.7 103.2h1v1h-1zM242.6 102.1h1v1h-1zM246.5 101.1h1v1h-1zM250.4 100.2h1v1h-1zM254.3 99.4h1v1h-1zM258.2 98.6h1v1h-1zM262.2 98.0h1v1h-1zM266.1 97.3h1v1h-1zM270.1 96.8h1v1h-1zM274.0 96.3h1v1h-1zM278.0 95.9h1v1h-1zM282.0 95.6h1v1h-1zM286.0 95.3h1v1h-1zM290.0 95.1h1v1h-1zM294.0 95.0h1v1h-1zM298.0 95.0h1v1h-1zM302.0 95.0h1v1h-1zM306.0 95.1h1v1h-1zM310.0 95.3h1v1h-1zM314.0 95.6h1v1h-1zM318.0 95.9h1v1h-1zM322.0 96.3h1v1h-1zM325.9 96.8h1v1h-1zM329.9 97.3h1v1h-1zM333.8 98.0h1v1h-1zM337.8 98.6h1v1h-1zM341.7 99.4h1v1h-1zM345.6 100.2h1v1h-1zM349.5 101.1h1v1h-1zM353.4 102.1h1v1h-1zM357.3 103.2h1v1h-1zM361.1 104.3h1v1h-1zM364.9 105.5h1v1h-1zM368.7 106.7h1v1h-1zM372.5 108.1h1v1h-1zM376.2 109.5h1v1h-1zM380.0 110.9h1v1h-1zM383.7 112.4h1v1h-1zM387.3 114.0h1v1h-1zM391.0 115.7h1v1h-1zM394.6 117.4h1v1h-1zM398.1 119.2h1v1h-1zM401.7 121.1h1v1h-1zM405.2 123.0h1v1h-1zM408.7 125.0h1v1h-1zM412.1 127.1h1v1h-1zM415.5 129.2h1v1h-1zM418.8 131.4h1v1h-1zM422.2 133.6h1v1h-1zM425.4 135.9h1v1h-1zM428.7 138.2h1v1h-1zM431.8 140.7h1v1h-1zM435.0 143.1h1v1h-1zM438.1 145.7h1v1h-1zM441.1 148.3h1v1h-1zM444.1 150.9h1v1h-1zM447.1 153.6h1v1h-1zM450.0 156.3h1v1h-1zM452.9 159.1h1v1h-1zM455.7 162.0h1v1h-1zM458.4 164.9h1v1h-1zM461.1 167.9h1v1h-1zM463.7 170.9h1v1h-1zM466.3 173.9h1v1h-1zM468.9 177.0h1v1h-1zM471.3 180.2h1v1h-1zM473.8 183.3h1v1h-1zM476.1 186.6h1v1h-1zM478.4 189.8h1v1h-1zM480.6 193.2h1v1h-1zM482.8 196.5h1v1h-1zM484.9 199.9h1v1h-1zM487.0 203.3h1v1h-1zM489.0 206.8h1v1h-1zM490.9 210.3h1v1h-1zM492.8 213.9h1v1h-1zM494.6 217.4h1v1h-1zM496.3 221.0h1v1h-1zM498.0 224.7h1v1h-1zM499.6 228.3h1v1h-1zM501.1 232.0h1v1h-1zM502.5 235.8h1v1h-1zM503.9 239.5h1v1h-1zM505.3 243.3h1v1h-1zM506.5 247.1h1v1h-1zM507.7 250.9h1v1h-1zM508.8 254.7h1v1h-1zM509.9 258.6h1v1h-1zM510.9 262.5h1v1h-1zM511.8 266.4h1v1h-1zM512.6 270.3h1v1h-1zM513.4 274.2h1v1h-1zM514.0 278.2h1v1h-1zM514.7 282.1h1v1h-1zM515.2 286.1h1v1h-1zM515.7 290.0h1v1h-1zM516.1 294.0h1v1h-1zM516.4 298.0h1v1h-1zM516.7 302.0h1v1h-1zM516.9 306.0h1v1h-1zM517.0 310.0h1v1h-1z" fill="#575757"/>
<path d="M298.5 63.5V565.5M47.5 314.5H549.5" stroke="#000" stroke-width="1"/>
<path d="M195.5 176.3L191.5 187.2L203.8 186.5" fill="none" stroke="#dcdcdc" stroke-width="1"/>
<path d="M393.5 442.3L389.5 453.2L401.8 452.5" fill="none" stroke="#dcdcdc" stroke-width="1"/>
<text transform="translate(299,57) scale(1,1.1)" font-size="11.6" font-weight="bold" font-style="normal" fill="#000" text-anchor="middle" xml:space="preserve" >North</text>
<text transform="translate(299,578) scale(1,1.1)" font-size="11.6" font-weight="bold" font-style="normal" fill="#000" text-anchor="middle" xml:space="preserve" >South</text>
<text transform="translate(16,318) scale(1,1.1)" font-size="11.6" font-weight="bold" font-style="normal" fill="#000" text-anchor="start" xml:space="preserve" >West</text>
<text transform="translate(552,318) scale(1,1.1)" font-size="11.6" font-weight="bold" font-style="normal" fill="#000" text-anchor="start" xml:space="preserve" >East</text>
<g stroke="#55ff70" stroke-width="1">
<path d="M342.0 320.5h5M344.5 318.0v5"/>
<path d="M330.0 323.5h5M332.5 321.0v5"/>
<path d="M330.0 305.5h5M332.5 303.0v5"/>
<path d="M362.0 377.5h5M364.5 375.0v5"/>
<path d="M392.0 364.5h5M394.5 362.0v5"/>
</g>
<path d="M279 299L310 299Q316 300 319 305L321 313L320 323L270 323L269 314L270 306Q273 300 279 299Z" fill="#a2fa56"/>
<path fill="#a4f850" fill-opacity="0.45" d="M278 314h1v1h-1zm-1 1h1v1h-1zM311 307h1v1h-1zm-1 1h1v1h-1zM276 310h1v1h-1zm-1 1h1v1h-1zM303 320h1v1h-1zm-1 1h1v1h-1zM278 301h1v1h-1zm-1 1h1v1h-1zM307 315h1v1h-1zm-1 1h1v1h-1zM319 319h1v1h-1zm-1 1h1v1h-1zM294 309h1v1h-1zm-1 1h1v1h-1zM335 309h1v1h-1zm-1 1h1v1h-1zM284 302h1v1h-1zm-1 1h1v1h-1zM297 312h1v1h-1zm-1 1h1v1h-1zM291 311h1v1h-1zm-1 1h1v1h-1zM300 317h1v1h-1zm-1 1h1v1h-1zM312 313h1v1h-1zm-1 1h1v1h-1zM269 317h1v1h-1zm-1 1h1v1h-1zM275 310h1v1h-1zm-1 1h1v1h-1zM274 311h1v1h-1zm-1 1h1v1h-1zM284 313h1v1h-1zm-1 1h1v1h-1zM346 311h1v1h-1zm-1 1h1v1h-1zM309 300h1v1h-1zm-1 1h1v1h-1zM292 316h1v1h-1zm-1 1h1v1h-1zM295 314h1v1h-1zm-1 1h1v1h-1zM298 303h1v1h-1zm-1 1h1v1h-1zM304 305h1v1h-1zm-1 1h1v1h-1zM324 307h1v1h-1zm-1 1h1v1h-1zM306 311h1v1h-1zm-1 1h1v1h-1zM310 306h1v1h-1zm-1 1h1v1h-1zM311 310h1v1h-1zm-1 1h1v1h-1zM315 316h1v1h-1zm-1 1h1v1h-1zM298 305h1v1h-1zm-1 1h1v1h-1zM308 315h1v1h-1zm-1 1h1v1h-1zM321 308h1v1h-1zm-1 1h1v1h-1zM304 315h1v1h-1zm-1 1h1v1h-1zM300 313h1v1h-1zm-1 1h1v1h-1zM299 306h1v1h-1zm-1 1h1v1h-1zM281 308h1v1h-1zm-1 1h1v1h-1zM305 323h1v1h-1zm-1 1h1v1h-1zM311 319h1v1h-1zm-1 1h1v1h-1zM308 317h1v1h-1zm-1 1h1v1h-1zM299 317h1v1h-1zm-1 1h1v1h-1zM323 308h1v1h-1zm-1 1h1v1h-1zM286 327h1v1h-1zm-1 1h1v1h-1zM300 319h1v1h-1zm-1 1h1v1h-1zM309 302h1v1h-1zm-1 1h1v1h-1zM333 325h1v1h-1zm-1 1h1v1h-1zM299 317h1v1h-1zm-1 1h1v1h-1zM298 304h1v1h-1zm-1 1h1v1h-1zM294 314h1v1h-1zm-1 1h1v1h-1zM313 317h1v1h-1zm-1 1h1v1h-1zM297 322h1v1h-1zm-1 1h1v1h-1zM285 317h1v1h-1zm-1 1h1v1h-1zM313 309h1v1h-1zm-1 1h1v1h-1zM269 304h1v1h-1zm-1 1h1v1h-1zM300 315h1v1h-1zm-1 1h1v1h-1zM319 303h1v1h-1zm-1 1h1v1h-1zM296 316h1v1h-1zm-1 1h1v1h-1zM294 292h1v1h-1zm-1 1h1v1h-1zM308 329h1v1h-1zm-1 1h1v1h-1zM311 304h1v1h-1zm-1 1h1v1h-1zM290 313h1v1h-1zm-1 1h1v1h-1zM333 316h1v1h-1zm-1 1h1v1h-1zM298 323h1v1h-1zm-1 1h1v1h-1zM295 326h1v1h-1zm-1 1h1v1h-1zM286 307h1v1h-1zm-1 1h1v1h-1zM307 322h1v1h-1zm-1 1h1v1h-1zM306 313h1v1h-1zm-1 1h1v1h-1zM269 305h1v1h-1zm-1 1h1v1h-1zM287 307h1v1h-1zm-1 1h1v1h-1zM305 308h1v1h-1zm-1 1h1v1h-1zM308 312h1v1h-1zm-1 1h1v1h-1zM291 312h1v1h-1zm-1 1h1v1h-1zM302 318h1v1h-1zm-1 1h1v1h-1zM289 309h1v1h-1zm-1 1h1v1h-1zM276 324h1v1h-1zm-1 1h1v1h-1zM318 310h1v1h-1zm-1 1h1v1h-1zM289 301h1v1h-1zm-1 1h1v1h-1zM299 313h1v1h-1zm-1 1h1v1h-1zM329 313h1v1h-1zm-1 1h1v1h-1zM284 291h1v1h-1zm-1 1h1v1h-1zM317 313h1v1h-1zm-1 1h1v1h-1zM272 312h1v1h-1zm-1 1h1v1h-1zM272 339h1v1h-1zm-1 1h1v1h-1zM313 316h1v1h-1zm-1 1h1v1h-1zM293 294h1v1h-1zm-1 1h1v1h-1zM294 299h1v1h-1zm-1 1h1v1h-1zM305 294h1v1h-1zm-1 1h1v1h-1zM282 321h1v1h-1zm-1 1h1v1h-1zM321 302h1v1h-1zm-1 1h1v1h-1zM273 318h1v1h-1zm-1 1h1v1h-1zM309 303h1v1h-1zm-1 1h1v1h-1zM286 305h1v1h-1zm-1 1h1v1h-1zM278 306h1v1h-1zm-1 1h1v1h-1zM315 317h1v1h-1zm-1 1h1v1h-1zM327 310h1v1h-1zm-1 1h1v1h-1zM294 303h1v1h-1zm-1 1h1v1h-1zM294 300h1v1h-1zm-1 1h1v1h-1zM269 317h1v1h-1zm-1 1h1v1h-1zM318 318h1v1h-1zm-1 1h1v1h-1zM316 313h1v1h-1zm-1 1h1v1h-1zM285 312h1v1h-1zm-1 1h1v1h-1zM290 302h1v1h-1zm-1 1h1v1h-1zM271 299h1v1h-1zm-1 1h1v1h-1zM296 312h1v1h-1zm-1 1h1v1h-1zM289 322h1v1h-1zm-1 1h1v1h-1zM299 316h1v1h-1zm-1 1h1v1h-1zM314 304h1v1h-1zm-1 1h1v1h-1zM266 317h1v1h-1zm-1 1h1v1h-1zM286 321h1v1h-1zm-1 1h1v1h-1zM301 319h1v1h-1zm-1 1h1v1h-1zM307 294h1v1h-1zm-1 1h1v1h-1zM307 306h1v1h-1zm-1 1h1v1h-1zM285 308h1v1h-1zm-1 1h1v1h-1zM308 318h1v1h-1zm-1 1h1v1h-1zM311 298h1v1h-1zm-1 1h1v1h-1zM287 292h1v1h-1zm-1 1h1v1h-1zM294 316h1v1h-1zm-1 1h1v1h-1zM285 313h1v1h-1zm-1 1h1v1h-1zM299 319h1v1h-1zm-1 1h1v1h-1zM284 304h1v1h-1zm-1 1h1v1h-1zM285 325h1v1h-1zm-1 1h1v1h-1zM312 310h1v1h-1zm-1 1h1v1h-1zM299 312h1v1h-1zm-1 1h1v1h-1zM299 309h1v1h-1zm-1 1h1v1h-1zM291 301h1v1h-1zm-1 1h1v1h-1zM286 324h1v1h-1zm-1 1h1v1h-1zM304 312h1v1h-1zm-1 1h1v1h-1zM293 312h1v1h-1zm-1 1h1v1h-1zM301 306h1v1h-1zm-1 1h1v1h-1zM299 313h1v1h-1zm-1 1h1v1h-1zM285 305h1v1h-1zm-1 1h1v1h-1zM281 302h1v1h-1zm-1 1h1v1h-1zM309 292h1v1h-1zm-1 1h1v1h-1zM292 306h1v1h-1zm-1 1h1v1h-1zM287 312h1v1h-1zm-1 1h1v1h-1zM313 312h1v1h-1zm-1 1h1v1h-1zM294 306h1v1h-1zm-1 1h1v1h-1zM294 318h1v1h-1zm-1 1h1v1h-1zM290 302h1v1h-1zm-1 1h1v1h-1zM277 302h1v1h-1zm-1 1h1v1h-1zM275 320h1v1h-1zm-1 1h1v1h-1zM301 309h1v1h-1zm-1 1h1v1h-1zM318 306h1v1h-1zm-1 1h1v1h-1zM307 317h1v1h-1zm-1 1h1v1h-1zM273 299h1v1h-1zm-1 1h1v1h-1zM282 318h1v1h-1zm-1 1h1v1h-1zM315 301h1v1h-1zm-1 1h1v1h-1zM312 308h1v1h-1zm-1 1h1v1h-1zM290 307h1v1h-1zm-1 1h1v1h-1zM291 296h1v1h-1zm-1 1h1v1h-1zM281 301h1v1h-1zm-1 1h1v1h-1zM303 328h1v1h-1zm-1 1h1v1h-1zM337 308h1v1h-1zm-1 1h1v1h-1zM270 308h1v1h-1zm-1 1h1v1h-1zM282 327h1v1h-1zm-1 1h1v1h-1zM305 305h1v1h-1zm-1 1h1v1h-1zM310 315h1v1h-1zm-1 1h1v1h-1zM272 307h1v1h-1zm-1 1h1v1h-1zM292 311h1v1h-1zm-1 1h1v1h-1zM298 308h1v1h-1zm-1 1h1v1h-1zM299 306h1v1h-1zm-1 1h1v1h-1zM276 331h1v1h-1zm-1 1h1v1h-1zM304 318h1v1h-1zm-1 1h1v1h-1zM261 311h1v1h-1zm-1 1h1v1h-1zM314 298h1v1h-1zm-1 1h1v1h-1zM320 308h1v1h-1zm-1 1h1v1h-1zM305 311h1v1h-1zm-1 1h1v1h-1zM301 327h1v1h-1zm-1 1h1v1h-1zM287 332h1v1h-1zm-1 1h1v1h-1zM279 302h1v1h-1zm-1 1h1v1h-1zM312 300h1v1h-1zm-1 1h1v1h-1zM288 324h1v1h-1zm-1 1h1v1h-1zM323 292h1v1h-1zm-1 1h1v1h-1zM307 336h1v1h-1zm-1 1h1v1h-1zM322 310h1v1h-1zm-1 1h1v1h-1zM283 309h1v1h-1zm-1 1h1v1h-1zM271 310h1v1h-1zm-1 1h1v1h-1zM292 311h1v1h-1zm-1 1h1v1h-1zM322 310h1v1h-1zm-1 1h1v1h-1zM264 326h1v1h-1zm-1 1h1v1h-1zM272 308h1v1h-1zm-1 1h1v1h-1zM293 309h1v1h-1zm-1 1h1v1h-1zM274 310h1v1h-1zm-1 1h1v1h-1zM344 306h1v1h-1zm-1 1h1v1h-1zM293 326h1v1h-1zm-1 1h1v1h-1zM312 322h1v1h-1zm-1 1h1v1h-1zM315 289h1v1h-1zm-1 1h1v1h-1zM277 315h1v1h-1zm-1 1h1v1h-1zM307 329h1v1h-1zm-1 1h1v1h-1zM306 310h1v1h-1zm-1 1h1v1h-1zM297 310h1v1h-1zm-1 1h1v1h-1zM301 321h1v1h-1zm-1 1h1v1h-1zM289 303h1v1h-1zm-1 1h1v1h-1zM277 326h1v1h-1zm-1 1h1v1h-1zM324 325h1v1h-1zm-1 1h1v1h-1zM315 323h1v1h-1zm-1 1h1v1h-1zM296 321h1v1h-1zm-1 1h1v1h-1zM273 311h1v1h-1zm-1 1h1v1h-1zM280 322h1v1h-1zm-1 1h1v1h-1zM283 312h1v1h-1zm-1 1h1v1h-1zM305 329h1v1h-1zm-1 1h1v1h-1zM279 302h1v1h-1zm-1 1h1v1h-1zM314 300h1v1h-1zm-1 1h1v1h-1zM306 306h1v1h-1zm-1 1h1v1h-1zM294 291h1v1h-1zm-1 1h1v1h-1zM312 307h1v1h-1zm-1 1h1v1h-1zM276 338h1v1h-1zm-1 1h1v1h-1zM312 355h1v1h-1zm-1 1h1v1h-1zM305 309h1v1h-1zm-1 1h1v1h-1zM298 332h1v1h-1zm-1 1h1v1h-1zM295 318h1v1h-1zm-1 1h1v1h-1zM307 302h1v1h-1zm-1 1h1v1h-1zM299 307h1v1h-1zm-1 1h1v1h-1zM269 323h1v1h-1zm-1 1h1v1h-1zM311 314h1v1h-1zm-1 1h1v1h-1zM276 289h1v1h-1zm-1 1h1v1h-1zM307 312h1v1h-1zm-1 1h1v1h-1zM259 312h1v1h-1zm-1 1h1v1h-1zM263 313h1v1h-1zm-1 1h1v1h-1zM299 317h1v1h-1zm-1 1h1v1h-1zM301 315h1v1h-1zm-1 1h1v1h-1zM271 308h1v1h-1zm-1 1h1v1h-1zM285 310h1v1h-1zm-1 1h1v1h-1zM302 320h1v1h-1zm-1 1h1v1h-1zM332 282h1v1h-1zm-1 1h1v1h-1zM305 311h1v1h-1zm-1 1h1v1h-1zM346 324h1v1h-1zm-1 1h1v1h-1zM260 318h1v1h-1zm-1 1h1v1h-1zM285 325h1v1h-1zm-1 1h1v1h-1zM273 312h1v1h-1zm-1 1h1v1h-1zM293 312h1v1h-1zm-1 1h1v1h-1zM283 291h1v1h-1zm-1 1h1v1h-1zM306 325h1v1h-1zm-1 1h1v1h-1zM294 301h1v1h-1zm-1 1h1v1h-1zM300 320h1v1h-1zm-1 1h1v1h-1zM292 313h1v1h-1zm-1 1h1v1h-1zM327 300h1v1h-1zm-1 1h1v1h-1zM284 290h1v1h-1zm-1 1h1v1h-1zM281 304h1v1h-1zm-1 1h1v1h-1zM275 305h1v1h-1zm-1 1h1v1h-1zM336 311h1v1h-1zm-1 1h1v1h-1zM293 339h1v1h-1zm-1 1h1v1h-1zM295 292h1v1h-1zm-1 1h1v1h-1zM305 302h1v1h-1zm-1 1h1v1h-1zM332 298h1v1h-1zm-1 1h1v1h-1zM283 294h1v1h-1zm-1 1h1v1h-1zM298 301h1v1h-1zm-1 1h1v1h-1zM295 308h1v1h-1zm-1 1h1v1h-1zM283 324h1v1h-1zm-1 1h1v1h-1zM317 314h1v1h-1zm-1 1h1v1h-1zM276 300h1v1h-1zm-1 1h1v1h-1zM302 342h1v1h-1zm-1 1h1v1h-1zM286 304h1v1h-1zm-1 1h1v1h-1zM281 300h1v1h-1zm-1 1h1v1h-1zM275 311h1v1h-1zm-1 1h1v1h-1zM328 313h1v1h-1zm-1 1h1v1h-1zM285 294h1v1h-1zm-1 1h1v1h-1zM301 313h1v1h-1zm-1 1h1v1h-1zM269 300h1v1h-1zm-1 1h1v1h-1zM295 325h1v1h-1zm-1 1h1v1h-1zM310 315h1v1h-1zm-1 1h1v1h-1zM289 317h1v1h-1zm-1 1h1v1h-1zM296 339h1v1h-1zm-1 1h1v1h-1zM271 309h1v1h-1zm-1 1h1v1h-1zM324 310h1v1h-1zm-1 1h1v1h-1zM327 312h1v1h-1zm-1 1h1v1h-1zM299 309h1v1h-1zm-1 1h1v1h-1zM266 301h1v1h-1zm-1 1h1v1h-1zM345 321h1v1h-1zm-1 1h1v1h-1zM309 324h1v1h-1zm-1 1h1v1h-1zM309 325h1v1h-1zm-1 1h1v1h-1zM298 295h1v1h-1zm-1 1h1v1h-1zM313 293h1v1h-1zm-1 1h1v1h-1zM285 295h1v1h-1zm-1 1h1v1h-1zM294 307h1v1h-1zm-1 1h1v1h-1zM292 283h1v1h-1zm-1 1h1v1h-1zM297 320h1v1h-1zm-1 1h1v1h-1zM300 300h1v1h-1zm-1 1h1v1h-1zM301 302h1v1h-1zm-1 1h1v1h-1zM312 318h1v1h-1zm-1 1h1v1h-1zM281 317h1v1h-1zm-1 1h1v1h-1zM301 294h1v1h-1zm-1 1h1v1h-1zM330 296h1v1h-1zm-1 1h1v1h-1zM324 312h1v1h-1zm-1 1h1v1h-1zM289 305h1v1h-1zm-1 1h1v1h-1zM310 296h1v1h-1zm-1 1h1v1h-1zM273 293h1v1h-1zm-1 1h1v1h-1zM299 282h1v1h-1zm-1 1h1v1h-1zM323 295h1v1h-1zm-1 1h1v1h-1zM296 294h1v1h-1zm-1 1h1v1h-1zM292 287h1v1h-1zm-1 1h1v1h-1zM302 302h1v1h-1zm-1 1h1v1h-1zM295 297h1v1h-1zm-1 1h1v1h-1zM284 305h1v1h-1zm-1 1h1v1h-1zM292 301h1v1h-1zm-1 1h1v1h-1zM290 291h1v1h-1zm-1 1h1v1h-1zM304 281h1v1h-1zm-1 1h1v1h-1zM331 297h1v1h-1zm-1 1h1v1h-1zM300 288h1v1h-1zm-1 1h1v1h-1zM320 317h1v1h-1zm-1 1h1v1h-1zM305 279h1v1h-1zm-1 1h1v1h-1zM295 307h1v1h-1zm-1 1h1v1h-1zM295 281h1v1h-1zm-1 1h1v1h-1zM287 287h1v1h-1zm-1 1h1v1h-1zM301 289h1v1h-1zm-1 1h1v1h-1zM301 337h1v1h-1zm-1 1h1v1h-1zM322 283h1v1h-1zm-1 1h1v1h-1zM305 299h1v1h-1zm-1 1h1v1h-1zM299 313h1v1h-1zm-1 1h1v1h-1zM297 293h1v1h-1zm-1 1h1v1h-1zM297 297h1v1h-1zm-1 1h1v1h-1zM279 329h1v1h-1zm-1 1h1v1h-1zM301 329h1v1h-1zm-1 1h1v1h-1zM293 327h1v1h-1zm-1 1h1v1h-1zM285 325h1v1h-1zm-1 1h1v1h-1zM311 331h1v1h-1zm-1 1h1v1h-1zM279 322h1v1h-1zm-1 1h1v1h-1zM314 328h1v1h-1zm-1 1h1v1h-1zM312 324h1v1h-1zm-1 1h1v1h-1zM295 324h1v1h-1zm-1 1h1v1h-1zM314 325h1v1h-1zm-1 1h1v1h-1zM306 333h1v1h-1zm-1 1h1v1h-1zM291 328h1v1h-1zm-1 1h1v1h-1zM311 332h1v1h-1zm-1 1h1v1h-1zM296 325h1v1h-1zm-1 1h1v1h-1zM280 332h1v1h-1zm-1 1h1v1h-1zM279 322h1v1h-1zm-1 1h1v1h-1zM302 327h1v1h-1zm-1 1h1v1h-1zM308 325h1v1h-1zm-1 1h1v1h-1zM312 322h1v1h-1zm-1 1h1v1h-1zM285 329h1v1h-1zm-1 1h1v1h-1zM279 325h1v1h-1zm-1 1h1v1h-1zM310 329h1v1h-1zm-1 1h1v1h-1zM289 323h1v1h-1zm-1 1h1v1h-1zM292 330h1v1h-1zm-1 1h1v1h-1zM293 322h1v1h-1zm-1 1h1v1h-1zM309 328h1v1h-1zm-1 1h1v1h-1zM319 332h1v1h-1zm-1 1h1v1h-1zM319 326h1v1h-1zm-1 1h1v1h-1zM314 325h1v1h-1zm-1 1h1v1h-1zM290 326h1v1h-1zm-1 1h1v1h-1zM320 332h1v1h-1zm-1 1h1v1h-1zM287 325h1v1h-1zm-1 1h1v1h-1zM293 325h1v1h-1zm-1 1h1v1h-1zM294 326h1v1h-1zm-1 1h1v1h-1zM284 328h1v1h-1zm-1 1h1v1h-1zM313 327h1v1h-1zm-1 1h1v1h-1zM315 328h1v1h-1zm-1 1h1v1h-1zM283 330h1v1h-1zm-1 1h1v1h-1zM317 324h1v1h-1zm-1 1h1v1h-1zM276 327h1v1h-1zm-1 1h1v1h-1zM301 328h1v1h-1zm-1 1h1v1h-1zM321 329h1v1h-1zm-1 1h1v1h-1zM314 322h1v1h-1zm-1 1h1v1h-1zM301 330h1v1h-1zm-1 1h1v1h-1zM279 322h1v1h-1zm-1 1h1v1h-1zM317 344h1v1h-1zm-1 1h1v1h-1zM282 339h1v1h-1zm-1 1h1v1h-1zM285 341h1v1h-1zm-1 1h1v1h-1zM312 332h1v1h-1zm-1 1h1v1h-1zM289 342h1v1h-1zm-1 1h1v1h-1zM305 342h1v1h-1zm-1 1h1v1h-1zM298 334h1v1h-1zm-1 1h1v1h-1zM329 340h1v1h-1zm-1 1h1v1h-1zM304 338h1v1h-1zm-1 1h1v1h-1zM316 341h1v1h-1zm-1 1h1v1h-1zM326 335h1v1h-1zm-1 1h1v1h-1zM322 340h1v1h-1zm-1 1h1v1h-1zM323 343h1v1h-1zm-1 1h1v1h-1zM322 344h1v1h-1zm-1 1h1v1h-1zM329 340h1v1h-1zm-1 1h1v1h-1zM305 341h1v1h-1zm-1 1h1v1h-1zM320 336h1v1h-1zm-1 1h1v1h-1zM300 331h1v1h-1zm-1 1h1v1h-1zM317 346h1v1h-1zm-1 1h1v1h-1zM297 331h1v1h-1zm-1 1h1v1h-1zM288 336h1v1h-1zm-1 1h1v1h-1zM293 345h1v1h-1zm-1 1h1v1h-1zM280 334h1v1h-1zm-1 1h1v1h-1zM283 340h1v1h-1zm-1 1h1v1h-1zM319 331h1v1h-1zm-1 1h1v1h-1zM280 336h1v1h-1zm-1 1h1v1h-1zM309 344h1v1h-1zm-1 1h1v1h-1zM279 330h1v1h-1zm-1 1h1v1h-1zM287 332h1v1h-1zm-1 1h1v1h-1zM290 341h1v1h-1zm-1 1h1v1h-1zM309 332h1v1h-1zm-1 1h1v1h-1zM287 333h1v1h-1zm-1 1h1v1h-1zM286 342h1v1h-1zm-1 1h1v1h-1zM294 338h1v1h-1zm-1 1h1v1h-1zM321 337h1v1h-1zm-1 1h1v1h-1zM291 344h1v1h-1zm-1 1h1v1h-1zM326 334h1v1h-1zm-1 1h1v1h-1zM307 345h1v1h-1zm-1 1h1v1h-1zM303 332h1v1h-1zm-1 1h1v1h-1zM280 345h1v1h-1zm-1 1h1v1h-1zM268 311h1v1h-1zm-1 1h1v1h-1zM264 314h1v1h-1zm-1 1h1v1h-1zM261 328h1v1h-1zm-1 1h1v1h-1zM266 307h1v1h-1zm-1 1h1v1h-1zM257 313h1v1h-1zm-1 1h1v1h-1zM262 322h1v1h-1zm-1 1h1v1h-1zM267 317h1v1h-1zm-1 1h1v1h-1zM259 304h1v1h-1zm-1 1h1v1h-1zM262 307h1v1h-1zm-1 1h1v1h-1zM269 314h1v1h-1zm-1 1h1v1h-1zM266 328h1v1h-1zm-1 1h1v1h-1zM261 315h1v1h-1zm-1 1h1v1h-1zM259 322h1v1h-1zm-1 1h1v1h-1zM257 323h1v1h-1zm-1 1h1v1h-1zM269 323h1v1h-1zm-1 1h1v1h-1zM258 308h1v1h-1zm-1 1h1v1h-1zM267 303h1v1h-1zm-1 1h1v1h-1zM264 313h1v1h-1zm-1 1h1v1h-1zM328 296h1v1h-1zm-1 1h1v1h-1zM325 292h1v1h-1zm-1 1h1v1h-1zM323 293h1v1h-1zm-1 1h1v1h-1zM327 288h1v1h-1zm-1 1h1v1h-1zM324 290h1v1h-1zm-1 1h1v1h-1zM316 295h1v1h-1zm-1 1h1v1h-1zM305 299h1v1h-1zm-1 1h1v1h-1zM310 292h1v1h-1zm-1 1h1v1h-1zM303 292h1v1h-1zm-1 1h1v1h-1zM314 298h1v1h-1zm-1 1h1v1h-1zM311 297h1v1h-1zm-1 1h1v1h-1zM304 293h1v1h-1zm-1 1h1v1h-1zM314 302h1v1h-1zm-1 1h1v1h-1zM324 297h1v1h-1zm-1 1h1v1h-1zM301 293h1v1h-1zm-1 1h1v1h-1zM321 291h1v1h-1zm-1 1h1v1h-1zM317 294h1v1h-1zm-1 1h1v1h-1zM301 302h1v1h-1zm-1 1h1v1h-1zM323 290h1v1h-1zm-1 1h1v1h-1zM318 291h1v1h-1zm-1 1h1v1h-1zM312 295h1v1h-1zm-1 1h1v1h-1zM309 292h1v1h-1zm-1 1h1v1h-1zM312 297h1v1h-1zm-1 1h1v1h-1zM308 290h1v1h-1zm-1 1h1v1h-1zM321 292h1v1h-1zm-1 1h1v1h-1zM327 295h1v1h-1zm-1 1h1v1h-1zM321 292h1v1h-1zm-1 1h1v1h-1zM324 288h1v1h-1zm-1 1h1v1h-1zM305 288h1v1h-1zm-1 1h1v1h-1zM320 298h1v1h-1zm-1 1h1v1h-1zM306 293h1v1h-1zm-1 1h1v1h-1zM324 296h1v1h-1zm-1 1h1v1h-1zM304 290h1v1h-1zm-1 1h1v1h-1zM305 289h1v1h-1zm-1 1h1v1h-1zM312 288h1v1h-1zm-1 1h1v1h-1zM327 293h1v1h-1zm-1 1h1v1h-1zM315 297h1v1h-1zm-1 1h1v1h-1zM322 299h1v1h-1zm-1 1h1v1h-1zM312 292h1v1h-1zm-1 1h1v1h-1zM313 287h1v1h-1zm-1 1h1v1h-1zM325 317h1v1h-1zm-1 1h1v1h-1zM333 320h1v1h-1zm-1 1h1v1h-1zM328 315h1v1h-1zm-1 1h1v1h-1zM319 308h1v1h-1zm-1 1h1v1h-1zM324 316h1v1h-1zm-1 1h1v1h-1zM320 309h1v1h-1zm-1 1h1v1h-1zM326 320h1v1h-1zm-1 1h1v1h-1zM331 315h1v1h-1zm-1 1h1v1h-1zM321 319h1v1h-1zm-1 1h1v1h-1zM332 314h1v1h-1zm-1 1h1v1h-1zM324 313h1v1h-1zm-1 1h1v1h-1zM321 318h1v1h-1zm-1 1h1v1h-1zM333 313h1v1h-1zm-1 1h1v1h-1zM329 321h1v1h-1zm-1 1h1v1h-1zM322 324h1v1h-1zm-1 1h1v1h-1zM328 305h1v1h-1zm-1 1h1v1h-1zM320 306h1v1h-1zm-1 1h1v1h-1zM327 317h1v1h-1zm-1 1h1v1h-1zM324 323h1v1h-1zm-1 1h1v1h-1zM324 312h1v1h-1zm-1 1h1v1h-1zM321 324h1v1h-1zm-1 1h1v1h-1zM321 323h1v1h-1zm-1 1h1v1h-1zM327 314h1v1h-1zm-1 1h1v1h-1zM327 307h1v1h-1zm-1 1h1v1h-1zM332 325h1v1h-1zm-1 1h1v1h-1zM304 188h1v1h-1zm-1 1h1v1h-1zM307 204h1v1h-1zm-1 1h1v1h-1zM299 215h1v1h-1zm-1 1h1v1h-1zM303 216h1v1h-1zm-1 1h1v1h-1zM304 220h1v1h-1zm-1 1h1v1h-1zM310 220h1v1h-1zm-1 1h1v1h-1zM301 224h1v1h-1zm-1 1h1v1h-1zM298 227h1v1h-1zm-1 1h1v1h-1zM309 227h1v1h-1zm-1 1h1v1h-1zM304 231h1v1h-1zm-1 1h1v1h-1zM309 233h1v1h-1zm-1 1h1v1h-1zM301 235h1v1h-1zm-1 1h1v1h-1zM304 237h1v1h-1zm-1 1h1v1h-1zM306 239h1v1h-1zm-1 1h1v1h-1zM296 240h1v1h-1zm-1 1h1v1h-1zM289 242h1v1h-1zm-1 1h1v1h-1zM294 242h1v1h-1zm-1 1h1v1h-1zM303 242h1v1h-1zm-1 1h1v1h-1zM311 242h1v1h-1zm-1 1h1v1h-1zM294 245h1v1h-1zm-1 1h1v1h-1zM299 245h1v1h-1zm-1 1h1v1h-1zM307 245h1v1h-1zm-1 1h1v1h-1zM310 245h1v1h-1zm-1 1h1v1h-1zM269 248h1v1h-1zm-1 1h1v1h-1zM299 253h1v1h-1zm-1 1h1v1h-1zM304 250h1v1h-1zm-1 1h1v1h-1zM304 253h1v1h-1zm-1 1h1v1h-1zM310 250h1v1h-1zm-1 1h1v1h-1zM311 254h1v1h-1zm-1 1h1v1h-1zM316 258h1v1h-1zm-1 1h1v1h-1zM283 258h1v1h-1zm-1 1h1v1h-1zM294 258h1v1h-1zm-1 1h1v1h-1zM305 258h1v1h-1zm-1 1h1v1h-1zM307 260h1v1h-1zm-1 1h1v1h-1zM309 262h1v1h-1zm-1 1h1v1h-1zM305 262h1v1h-1zm-1 1h1v1h-1zM291 263h1v1h-1zm-1 1h1v1h-1zM312 265h1v1h-1zm-1 1h1v1h-1zM280 266h1v1h-1zm-1 1h1v1h-1zM272 268h1v1h-1zm-1 1h1v1h-1zM258 269h1v1h-1zm-1 1h1v1h-1zM303 268h1v1h-1zm-1 1h1v1h-1zM307 268h1v1h-1zm-1 1h1v1h-1zM311 268h1v1h-1zm-1 1h1v1h-1zM358 198h1v1h-1zm-1 1h1v1h-1zM319 242h1v1h-1zm-1 1h1v1h-1zM329 247h1v1h-1zm-1 1h1v1h-1zM336 255h1v1h-1zm-1 1h1v1h-1zM319 262h1v1h-1zm-1 1h1v1h-1zM321 262h1v1h-1zm-1 1h1v1h-1zM318 267h1v1h-1zm-1 1h1v1h-1zM271 272h1v1h-1zm-1 1h1v1h-1zM271 274h1v1h-1zm-1 1h1v1h-1zM275 274h1v1h-1zm-1 1h1v1h-1zM257 286h1v1h-1zm-1 1h1v1h-1zM260 291h1v1h-1zm-1 1h1v1h-1zM271 283h1v1h-1zm-1 1h1v1h-1zM273 286h1v1h-1zm-1 1h1v1h-1zM269 286h1v1h-1zm-1 1h1v1h-1zM267 288h1v1h-1zm-1 1h1v1h-1zM275 289h1v1h-1zm-1 1h1v1h-1zM247 298h1v1h-1zm-1 1h1v1h-1zM251 296h1v1h-1zm-1 1h1v1h-1zM255 296h1v1h-1zm-1 1h1v1h-1zM261 299h1v1h-1zm-1 1h1v1h-1zM262 303h1v1h-1zm-1 1h1v1h-1zM265 305h1v1h-1zm-1 1h1v1h-1zM268 301h1v1h-1zm-1 1h1v1h-1zM246 308h1v1h-1zm-1 1h1v1h-1zM253 310h1v1h-1zm-1 1h1v1h-1zM260 308h1v1h-1zm-1 1h1v1h-1zM262 312h1v1h-1zm-1 1h1v1h-1zM267 310h1v1h-1zm-1 1h1v1h-1zM231 312h1v1h-1zm-1 1h1v1h-1zM213 318h1v1h-1zm-1 1h1v1h-1zM241 318h1v1h-1zm-1 1h1v1h-1zM248 316h1v1h-1zm-1 1h1v1h-1zM250 316h1v1h-1zm-1 1h1v1h-1zM210 324h1v1h-1zm-1 1h1v1h-1zM247 324h1v1h-1zm-1 1h1v1h-1zM253 324h1v1h-1zm-1 1h1v1h-1zM262 322h1v1h-1zm-1 1h1v1h-1zM266 317h1v1h-1zm-1 1h1v1h-1zM268 322h1v1h-1zm-1 1h1v1h-1zM322 274h1v1h-1zm-1 1h1v1h-1zM325 281h1v1h-1zm-1 1h1v1h-1zM332 281h1v1h-1zm-1 1h1v1h-1zM332 287h1v1h-1zm-1 1h1v1h-1zM336 287h1v1h-1zm-1 1h1v1h-1zM345 280h1v1h-1zm-1 1h1v1h-1zM348 280h1v1h-1zm-1 1h1v1h-1zM355 294h1v1h-1zm-1 1h1v1h-1zM323 293h1v1h-1zm-1 1h1v1h-1zM329 298h1v1h-1zm-1 1h1v1h-1zM329 301h1v1h-1zm-1 1h1v1h-1zM338 303h1v1h-1zm-1 1h1v1h-1zM343 303h1v1h-1zm-1 1h1v1h-1zM347 305h1v1h-1zm-1 1h1v1h-1zM336 305h1v1h-1zm-1 1h1v1h-1zM334 308h1v1h-1zm-1 1h1v1h-1zM339 308h1v1h-1zm-1 1h1v1h-1zM345 308h1v1h-1zm-1 1h1v1h-1zM345 312h1v1h-1zm-1 1h1v1h-1zM348 314h1v1h-1zm-1 1h1v1h-1zM346 316h1v1h-1zm-1 1h1v1h-1zM337 314h1v1h-1zm-1 1h1v1h-1zM338 318h1v1h-1zm-1 1h1v1h-1zM352 318h1v1h-1zm-1 1h1v1h-1zM362 314h1v1h-1zm-1 1h1v1h-1zM360 316h1v1h-1zm-1 1h1v1h-1zM369 320h1v1h-1zm-1 1h1v1h-1zM384 318h1v1h-1zm-1 1h1v1h-1zM348 323h1v1h-1zm-1 1h1v1h-1zM357 324h1v1h-1zm-1 1h1v1h-1zM338 324h1v1h-1zm-1 1h1v1h-1zM325 304h1v1h-1zm-1 1h1v1h-1zM329 308h1v1h-1zm-1 1h1v1h-1zM326 311h1v1h-1zm-1 1h1v1h-1zM330 314h1v1h-1zm-1 1h1v1h-1zM324 319h1v1h-1zm-1 1h1v1h-1zM331 319h1v1h-1zm-1 1h1v1h-1zM399 314h1v1h-1zm-1 1h1v1h-1zM403 325h1v1h-1zm-1 1h1v1h-1zM399 332h1v1h-1zm-1 1h1v1h-1zM403 330h1v1h-1zm-1 1h1v1h-1zM406 330h1v1h-1zm-1 1h1v1h-1zM413 332h1v1h-1zm-1 1h1v1h-1zM387 335h1v1h-1zm-1 1h1v1h-1zM397 339h1v1h-1zm-1 1h1v1h-1zM403 339h1v1h-1zm-1 1h1v1h-1zM415 342h1v1h-1zm-1 1h1v1h-1zM432 347h1v1h-1zm-1 1h1v1h-1zM379 350h1v1h-1zm-1 1h1v1h-1zM409 351h1v1h-1zm-1 1h1v1h-1zM399 358h1v1h-1zm-1 1h1v1h-1zM520 368h1v1h-1zm-1 1h1v1h-1zM526 381h1v1h-1zm-1 1h1v1h-1zM527 391h1v1h-1zm-1 1h1v1h-1zM360 329h1v1h-1zm-1 1h1v1h-1zM364 330h1v1h-1zm-1 1h1v1h-1zM345 324h1v1h-1zm-1 1h1v1h-1zM343 327h1v1h-1zm-1 1h1v1h-1zM340 327h1v1h-1zm-1 1h1v1h-1zM326 325h1v1h-1zm-1 1h1v1h-1zM330 327h1v1h-1zm-1 1h1v1h-1zM330 331h1v1h-1zm-1 1h1v1h-1zM326 335h1v1h-1zm-1 1h1v1h-1zM322 337h1v1h-1zm-1 1h1v1h-1zM326 340h1v1h-1zm-1 1h1v1h-1zM329 338h1v1h-1zm-1 1h1v1h-1zM320 341h1v1h-1zm-1 1h1v1h-1zM317 345h1v1h-1zm-1 1h1v1h-1zM336 339h1v1h-1zm-1 1h1v1h-1zM341 340h1v1h-1zm-1 1h1v1h-1zM345 344h1v1h-1zm-1 1h1v1h-1zM350 348h1v1h-1zm-1 1h1v1h-1zM360 339h1v1h-1zm-1 1h1v1h-1zM370 343h1v1h-1zm-1 1h1v1h-1zM363 353h1v1h-1zm-1 1h1v1h-1zM324 363h1v1h-1zm-1 1h1v1h-1zM323 370h1v1h-1zm-1 1h1v1h-1zM247 327h1v1h-1zm-1 1h1v1h-1zM253 330h1v1h-1zm-1 1h1v1h-1zM243 331h1v1h-1zm-1 1h1v1h-1zM247 332h1v1h-1zm-1 1h1v1h-1zM243 337h1v1h-1zm-1 1h1v1h-1zM247 337h1v1h-1zm-1 1h1v1h-1zM244 347h1v1h-1zm-1 1h1v1h-1zM259 339h1v1h-1zm-1 1h1v1h-1zM259 346h1v1h-1zm-1 1h1v1h-1zM267 344h1v1h-1zm-1 1h1v1h-1zM269 352h1v1h-1zm-1 1h1v1h-1zM265 325h1v1h-1zm-1 1h1v1h-1zM275 327h1v1h-1zm-1 1h1v1h-1zM275 323h1v1h-1zm-1 1h1v1h-1zM280 338h1v1h-1zm-1 1h1v1h-1zM284 340h1v1h-1zm-1 1h1v1h-1zM286 342h1v1h-1zm-1 1h1v1h-1zM284 345h1v1h-1zm-1 1h1v1h-1zM281 349h1v1h-1zm-1 1h1v1h-1zM287 351h1v1h-1zm-1 1h1v1h-1zM293 347h1v1h-1zm-1 1h1v1h-1zM296 344h1v1h-1zm-1 1h1v1h-1zM298 340h1v1h-1zm-1 1h1v1h-1zM301 351h1v1h-1zm-1 1h1v1h-1zM303 349h1v1h-1zm-1 1h1v1h-1zM303 359h1v1h-1zm-1 1h1v1h-1zM311 349h1v1h-1zm-1 1h1v1h-1zM289 366h1v1h-1zm-1 1h1v1h-1zM307 337h1v1h-1zm-1 1h1v1h-1zM307 341h1v1h-1zm-1 1h1v1h-1zM311 335h1v1h-1zm-1 1h1v1h-1zM314 339h1v1h-1zm-1 1h1v1h-1zM283 327h1v1h-1zm-1 1h1v1h-1zM284 333h1v1h-1zm-1 1h1v1h-1zM291 335h1v1h-1zm-1 1h1v1h-1zM291 338h1v1h-1zm-1 1h1v1h-1zM295 335h1v1h-1zm-1 1h1v1h-1zM286 330h1v1h-1zm-1 1h1v1h-1zM290 332h1v1h-1zm-1 1h1v1h-1zM213 370h1v1h-1zm-1 1h1v1h-1zM206 411h1v1h-1zm-1 1h1v1h-1zM349 381h1v1h-1zm-1 1h1v1h-1zM287 274h1v1h-1zm-1 1h1v1h-1zM287 277h1v1h-1zm-1 1h1v1h-1zM305 268h1v1h-1zm-1 1h1v1h-1zM311 270h1v1h-1zm-1 1h1v1h-1zM301 275h1v1h-1zm-1 1h1v1h-1zM282 281h1v1h-1zm-1 1h1v1h-1zM289 282h1v1h-1zm-1 1h1v1h-1zM294 281h1v1h-1zm-1 1h1v1h-1zM299 282h1v1h-1zm-1 1h1v1h-1zM305 282h1v1h-1zm-1 1h1v1h-1zM283 291h1v1h-1zm-1 1h1v1h-1zM288 286h1v1h-1zm-1 1h1v1h-1zM290 287h1v1h-1zm-1 1h1v1h-1zM294 288h1v1h-1zm-1 1h1v1h-1zM297 291h1v1h-1zm-1 1h1v1h-1zM303 288h1v1h-1zm-1 1h1v1h-1zM310 286h1v1h-1zm-1 1h1v1h-1zM315 286h1v1h-1zm-1 1h1v1h-1zM308 289h1v1h-1zm-1 1h1v1h-1zM311 291h1v1h-1zm-1 1h1v1h-1zM316 289h1v1h-1zm-1 1h1v1h-1zM274 294h1v1h-1zm-1 1h1v1h-1z"/>
<path fill="#a4f850" d="M275 312h3v1h-3zm0 1h1v2h-1zm3 0h1v1h-1zm-1 1h1v1h-1zm-1 1h1v1h-1zM300 318h3v1h-3zm0 1h1v2h-1zm3 0h1v1h-1zm-1 1h1v1h-1zm-1 1h1v1h-1zM275 299h3v1h-3zm0 1h1v2h-1zm3 0h1v1h-1zm-1 1h1v1h-1zm-1 1h1v1h-1zM281 300h3v1h-3zm0 1h1v2h-1zm3 0h1v1h-1zm-1 1h1v1h-1zm-1 1h1v1h-1zM288 309h3v1h-3zm0 1h1v2h-1zm3 0h1v1h-1zm-1 1h1v1h-1zm-1 1h1v1h-1zM266 315h3v1h-3zm0 1h1v2h-1zm3 0h1v1h-1zm-1 1h1v1h-1zm-1 1h1v1h-1zM271 309h3v1h-3zm0 1h1v2h-1zm3 0h1v1h-1zm-1 1h1v1h-1zm-1 1h1v1h-1zM281 311h3v1h-3zm0 1h1v2h-1zm3 0h1v1h-1zm-1 1h1v1h-1zm-1 1h1v1h-1zM308 308h3v1h-3zm0 1h1v2h-1zm3 0h1v1h-1zm-1 1h1v1h-1zm-1 1h1v1h-1zM312 314h3v1h-3zm0 1h1v2h-1zm3 0h1v1h-1zm-1 1h1v1h-1zm-1 1h1v1h-1zM305 313h3v1h-3zm0 1h1v2h-1zm3 0h1v1h-1zm-1 1h1v1h-1zm-1 1h1v1h-1zM278 306h3v1h-3zm0 1h1v2h-1zm3 0h1v1h-1zm-1 1h1v1h-1zm-1 1h1v1h-1zM305 315h3v1h-3zm0 1h1v2h-1zm3 0h1v1h-1zm-1 1h1v1h-1zm-1 1h1v1h-1zM296 315h3v1h-3zm0 1h1v2h-1zm3 0h1v1h-1zm-1 1h1v1h-1zm-1 1h1v1h-1zM297 317h3v1h-3zm0 1h1v2h-1zm3 0h1v1h-1zm-1 1h1v1h-1zm-1 1h1v1h-1zM306 300h3v1h-3zm0 1h1v2h-1zm3 0h1v1h-1zm-1 1h1v1h-1zm-1 1h1v1h-1zM296 315h3v1h-3zm0 1h1v2h-1zm3 0h1v1h-1zm-1 1h1v1h-1zm-1 1h1v1h-1zM310 315h3v1h-3zm0 1h1v2h-1zm3 0h1v1h-1zm-1 1h1v1h-1zm-1 1h1v1h-1zM295 321h3v1h-3zm0 1h1v2h-1zm3 0h1v1h-1zm-1 1h1v1h-1zm-1 1h1v1h-1zM292 324h3v1h-3zm0 1h1v2h-1zm3 0h1v1h-1zm-1 1h1v1h-1zm-1 1h1v1h-1zM283 305h3v1h-3zm0 1h1v2h-1zm3 0h1v1h-1zm-1 1h1v1h-1zm-1 1h1v1h-1zM304 320h3v1h-3zm0 1h1v2h-1zm3 0h1v1h-1zm-1 1h1v1h-1zm-1 1h1v1h-1zM303 311h3v1h-3zm0 1h1v2h-1zm3 0h1v1h-1zm-1 1h1v1h-1zm-1 1h1v1h-1zM284 305h3v1h-3zm0 1h1v2h-1zm3 0h1v1h-1zm-1 1h1v1h-1zm-1 1h1v1h-1zM302 306h3v1h-3zm0 1h1v2h-1zm3 0h1v1h-1zm-1 1h1v1h-1zm-1 1h1v1h-1zM315 308h3v1h-3zm0 1h1v2h-1zm3 0h1v1h-1zm-1 1h1v1h-1zm-1 1h1v1h-1zM269 310h3v1h-3zm0 1h1v2h-1zm3 0h1v1h-1zm-1 1h1v1h-1zm-1 1h1v1h-1zM302 292h3v1h-3zm0 1h1v2h-1zm3 0h1v1h-1zm-1 1h1v1h-1zm-1 1h1v1h-1zM279 319h3v1h-3zm0 1h1v2h-1zm3 0h1v1h-1zm-1 1h1v1h-1zm-1 1h1v1h-1zM270 316h3v1h-3zm0 1h1v2h-1zm3 0h1v1h-1zm-1 1h1v1h-1zm-1 1h1v1h-1zM283 303h3v1h-3zm0 1h1v2h-1zm3 0h1v1h-1zm-1 1h1v1h-1zm-1 1h1v1h-1zM291 301h3v1h-3zm0 1h1v2h-1zm3 0h1v1h-1zm-1 1h1v1h-1zm-1 1h1v1h-1zM315 316h3v1h-3zm0 1h1v2h-1zm3 0h1v1h-1zm-1 1h1v1h-1zm-1 1h1v1h-1zM268 297h3v1h-3zm0 1h1v2h-1zm3 0h1v1h-1zm-1 1h1v1h-1zm-1 1h1v1h-1zM296 314h3v1h-3zm0 1h1v2h-1zm3 0h1v1h-1zm-1 1h1v1h-1zm-1 1h1v1h-1zM298 317h3v1h-3zm0 1h1v2h-1zm3 0h1v1h-1zm-1 1h1v1h-1zm-1 1h1v1h-1zM304 292h3v1h-3zm0 1h1v2h-1zm3 0h1v1h-1zm-1 1h1v1h-1zm-1 1h1v1h-1zM304 304h3v1h-3zm0 1h1v2h-1zm3 0h1v1h-1zm-1 1h1v1h-1zm-1 1h1v1h-1zM282 306h3v1h-3zm0 1h1v2h-1zm3 0h1v1h-1zm-1 1h1v1h-1zm-1 1h1v1h-1zM282 311h3v1h-3zm0 1h1v2h-1zm3 0h1v1h-1zm-1 1h1v1h-1zm-1 1h1v1h-1zM296 317h3v1h-3zm0 1h1v2h-1zm3 0h1v1h-1zm-1 1h1v1h-1zm-1 1h1v1h-1zM282 323h3v1h-3zm0 1h1v2h-1zm3 0h1v1h-1zm-1 1h1v1h-1zm-1 1h1v1h-1zM296 310h3v1h-3zm0 1h1v2h-1zm3 0h1v1h-1zm-1 1h1v1h-1zm-1 1h1v1h-1zM296 307h3v1h-3zm0 1h1v2h-1zm3 0h1v1h-1zm-1 1h1v1h-1zm-1 1h1v1h-1zM288 299h3v1h-3zm0 1h1v2h-1zm3 0h1v1h-1zm-1 1h1v1h-1zm-1 1h1v1h-1zM296 311h3v1h-3zm0 1h1v2h-1zm3 0h1v1h-1zm-1 1h1v1h-1zm-1 1h1v1h-1zM282 303h3v1h-3zm0 1h1v2h-1zm3 0h1v1h-1zm-1 1h1v1h-1zm-1 1h1v1h-1zM284 310h3v1h-3zm0 1h1v2h-1zm3 0h1v1h-1zm-1 1h1v1h-1zm-1 1h1v1h-1zM287 300h3v1h-3zm0 1h1v2h-1zm3 0h1v1h-1zm-1 1h1v1h-1zm-1 1h1v1h-1zM272 318h3v1h-3zm0 1h1v2h-1zm3 0h1v1h-1zm-1 1h1v1h-1zm-1 1h1v1h-1zM315 304h3v1h-3zm0 1h1v2h-1zm3 0h1v1h-1zm-1 1h1v1h-1zm-1 1h1v1h-1zM304 315h3v1h-3zm0 1h1v2h-1zm3 0h1v1h-1zm-1 1h1v1h-1zm-1 1h1v1h-1zM270 297h3v1h-3zm0 1h1v2h-1zm3 0h1v1h-1zm-1 1h1v1h-1zm-1 1h1v1h-1zM279 316h3v1h-3zm0 1h1v2h-1zm3 0h1v1h-1zm-1 1h1v1h-1zm-1 1h1v1h-1zM312 299h3v1h-3zm0 1h1v2h-1zm3 0h1v1h-1zm-1 1h1v1h-1zm-1 1h1v1h-1zM309 306h3v1h-3zm0 1h1v2h-1zm3 0h1v1h-1zm-1 1h1v1h-1zm-1 1h1v1h-1zM278 299h3v1h-3zm0 1h1v2h-1zm3 0h1v1h-1zm-1 1h1v1h-1zm-1 1h1v1h-1zM300 326h3v1h-3zm0 1h1v2h-1zm3 0h1v1h-1zm-1 1h1v1h-1zm-1 1h1v1h-1zM267 306h3v1h-3zm0 1h1v2h-1zm3 0h1v1h-1zm-1 1h1v1h-1zm-1 1h1v1h-1zM302 303h3v1h-3zm0 1h1v2h-1zm3 0h1v1h-1zm-1 1h1v1h-1zm-1 1h1v1h-1zM307 313h3v1h-3zm0 1h1v2h-1zm3 0h1v1h-1zm-1 1h1v1h-1zm-1 1h1v1h-1zM289 309h3v1h-3zm0 1h1v2h-1zm3 0h1v1h-1zm-1 1h1v1h-1zm-1 1h1v1h-1zM296 304h3v1h-3zm0 1h1v2h-1zm3 0h1v1h-1zm-1 1h1v1h-1zm-1 1h1v1h-1zM273 329h3v1h-3zm0 1h1v2h-1zm3 0h1v1h-1zm-1 1h1v1h-1zm-1 1h1v1h-1zM301 316h3v1h-3zm0 1h1v2h-1zm3 0h1v1h-1zm-1 1h1v1h-1zm-1 1h1v1h-1zM258 309h3v1h-3zm0 1h1v2h-1zm3 0h1v1h-1zm-1 1h1v1h-1zm-1 1h1v1h-1zM268 308h3v1h-3zm0 1h1v2h-1zm3 0h1v1h-1zm-1 1h1v1h-1zm-1 1h1v1h-1zM269 306h3v1h-3zm0 1h1v2h-1zm3 0h1v1h-1zm-1 1h1v1h-1zm-1 1h1v1h-1zM309 320h3v1h-3zm0 1h1v2h-1zm3 0h1v1h-1zm-1 1h1v1h-1zm-1 1h1v1h-1zM312 287h3v1h-3zm0 1h1v2h-1zm3 0h1v1h-1zm-1 1h1v1h-1zm-1 1h1v1h-1zM304 327h3v1h-3zm0 1h1v2h-1zm3 0h1v1h-1zm-1 1h1v1h-1zm-1 1h1v1h-1zM294 308h3v1h-3zm0 1h1v2h-1zm3 0h1v1h-1zm-1 1h1v1h-1zm-1 1h1v1h-1zM286 301h3v1h-3zm0 1h1v2h-1zm3 0h1v1h-1zm-1 1h1v1h-1zm-1 1h1v1h-1zM274 324h3v1h-3zm0 1h1v2h-1zm3 0h1v1h-1zm-1 1h1v1h-1zm-1 1h1v1h-1zM270 309h3v1h-3zm0 1h1v2h-1zm3 0h1v1h-1zm-1 1h1v1h-1zm-1 1h1v1h-1zM277 320h3v1h-3zm0 1h1v2h-1zm3 0h1v1h-1zm-1 1h1v1h-1zm-1 1h1v1h-1zM303 304h3v1h-3zm0 1h1v2h-1zm3 0h1v1h-1zm-1 1h1v1h-1zm-1 1h1v1h-1zM291 289h3v1h-3zm0 1h1v2h-1zm3 0h1v1h-1zm-1 1h1v1h-1zm-1 1h1v1h-1zM309 353h3v1h-3zm0 1h1v2h-1zm3 0h1v1h-1zm-1 1h1v1h-1zm-1 1h1v1h-1zM295 330h3v1h-3zm0 1h1v2h-1zm3 0h1v1h-1zm-1 1h1v1h-1zm-1 1h1v1h-1zM304 300h3v1h-3zm0 1h1v2h-1zm3 0h1v1h-1zm-1 1h1v1h-1zm-1 1h1v1h-1zM308 312h3v1h-3zm0 1h1v2h-1zm3 0h1v1h-1zm-1 1h1v1h-1zm-1 1h1v1h-1zM256 310h3v1h-3zm0 1h1v2h-1zm3 0h1v1h-1zm-1 1h1v1h-1zm-1 1h1v1h-1zM296 315h3v1h-3zm0 1h1v2h-1zm3 0h1v1h-1zm-1 1h1v1h-1zm-1 1h1v1h-1zM268 306h3v1h-3zm0 1h1v2h-1zm3 0h1v1h-1zm-1 1h1v1h-1zm-1 1h1v1h-1zM282 308h3v1h-3zm0 1h1v2h-1zm3 0h1v1h-1zm-1 1h1v1h-1zm-1 1h1v1h-1zM299 318h3v1h-3zm0 1h1v2h-1zm3 0h1v1h-1zm-1 1h1v1h-1zm-1 1h1v1h-1zM343 322h3v1h-3zm0 1h1v2h-1zm3 0h1v1h-1zm-1 1h1v1h-1zm-1 1h1v1h-1zM270 310h3v1h-3zm0 1h1v2h-1zm3 0h1v1h-1zm-1 1h1v1h-1zm-1 1h1v1h-1zM290 310h3v1h-3zm0 1h1v2h-1zm3 0h1v1h-1zm-1 1h1v1h-1zm-1 1h1v1h-1zM280 289h3v1h-3zm0 1h1v2h-1zm3 0h1v1h-1zm-1 1h1v1h-1zm-1 1h1v1h-1zM303 323h3v1h-3zm0 1h1v2h-1zm3 0h1v1h-1zm-1 1h1v1h-1zm-1 1h1v1h-1zM291 299h3v1h-3zm0 1h1v2h-1zm3 0h1v1h-1zm-1 1h1v1h-1zm-1 1h1v1h-1zM289 311h3v1h-3zm0 1h1v2h-1zm3 0h1v1h-1zm-1 1h1v1h-1zm-1 1h1v1h-1zM278 302h3v1h-3zm0 1h1v2h-1zm3 0h1v1h-1zm-1 1h1v1h-1zm-1 1h1v1h-1zM272 303h3v1h-3zm0 1h1v2h-1zm3 0h1v1h-1zm-1 1h1v1h-1zm-1 1h1v1h-1zM292 290h3v1h-3zm0 1h1v2h-1zm3 0h1v1h-1zm-1 1h1v1h-1zm-1 1h1v1h-1zM280 292h3v1h-3zm0 1h1v2h-1zm3 0h1v1h-1zm-1 1h1v1h-1zm-1 1h1v1h-1zM314 312h3v1h-3zm0 1h1v2h-1zm3 0h1v1h-1zm-1 1h1v1h-1zm-1 1h1v1h-1zM273 298h3v1h-3zm0 1h1v2h-1zm3 0h1v1h-1zm-1 1h1v1h-1zm-1 1h1v1h-1zM283 302h3v1h-3zm0 1h1v2h-1zm3 0h1v1h-1zm-1 1h1v1h-1zm-1 1h1v1h-1zM325 311h3v1h-3zm0 1h1v2h-1zm3 0h1v1h-1zm-1 1h1v1h-1zm-1 1h1v1h-1zM282 292h3v1h-3zm0 1h1v2h-1zm3 0h1v1h-1zm-1 1h1v1h-1zm-1 1h1v1h-1zM298 311h3v1h-3zm0 1h1v2h-1zm3 0h1v1h-1zm-1 1h1v1h-1zm-1 1h1v1h-1zM266 298h3v1h-3zm0 1h1v2h-1zm3 0h1v1h-1zm-1 1h1v1h-1zm-1 1h1v1h-1zM268 307h3v1h-3zm0 1h1v2h-1zm3 0h1v1h-1zm-1 1h1v1h-1zm-1 1h1v1h-1zM321 308h3v1h-3zm0 1h1v2h-1zm3 0h1v1h-1zm-1 1h1v1h-1zm-1 1h1v1h-1zM296 307h3v1h-3zm0 1h1v2h-1zm3 0h1v1h-1zm-1 1h1v1h-1zm-1 1h1v1h-1zM263 299h3v1h-3zm0 1h1v2h-1zm3 0h1v1h-1zm-1 1h1v1h-1zm-1 1h1v1h-1zM306 323h3v1h-3zm0 1h1v2h-1zm3 0h1v1h-1zm-1 1h1v1h-1zm-1 1h1v1h-1zM291 305h3v1h-3zm0 1h1v2h-1zm3 0h1v1h-1zm-1 1h1v1h-1zm-1 1h1v1h-1zM289 281h3v1h-3zm0 1h1v2h-1zm3 0h1v1h-1zm-1 1h1v1h-1zm-1 1h1v1h-1zM294 318h3v1h-3zm0 1h1v2h-1zm3 0h1v1h-1zm-1 1h1v1h-1zm-1 1h1v1h-1zM309 316h3v1h-3zm0 1h1v2h-1zm3 0h1v1h-1zm-1 1h1v1h-1zm-1 1h1v1h-1zM327 294h3v1h-3zm0 1h1v2h-1zm3 0h1v1h-1zm-1 1h1v1h-1zm-1 1h1v1h-1zM321 310h3v1h-3zm0 1h1v2h-1zm3 0h1v1h-1zm-1 1h1v1h-1zm-1 1h1v1h-1zM307 294h3v1h-3zm0 1h1v2h-1zm3 0h1v1h-1zm-1 1h1v1h-1zm-1 1h1v1h-1zM270 291h3v1h-3zm0 1h1v2h-1zm3 0h1v1h-1zm-1 1h1v1h-1zm-1 1h1v1h-1zM320 293h3v1h-3zm0 1h1v2h-1zm3 0h1v1h-1zm-1 1h1v1h-1zm-1 1h1v1h-1zM293 292h3v1h-3zm0 1h1v2h-1zm3 0h1v1h-1zm-1 1h1v1h-1zm-1 1h1v1h-1zM289 299h3v1h-3zm0 1h1v2h-1zm3 0h1v1h-1zm-1 1h1v1h-1zm-1 1h1v1h-1zM301 279h3v1h-3zm0 1h1v2h-1zm3 0h1v1h-1zm-1 1h1v1h-1zm-1 1h1v1h-1zM328 295h3v1h-3zm0 1h1v2h-1zm3 0h1v1h-1zm-1 1h1v1h-1zm-1 1h1v1h-1zM292 305h3v1h-3zm0 1h1v2h-1zm3 0h1v1h-1zm-1 1h1v1h-1zm-1 1h1v1h-1zM298 287h3v1h-3zm0 1h1v2h-1zm3 0h1v1h-1zm-1 1h1v1h-1zm-1 1h1v1h-1zM319 281h3v1h-3zm0 1h1v2h-1zm3 0h1v1h-1zm-1 1h1v1h-1zm-1 1h1v1h-1zM296 311h3v1h-3zm0 1h1v2h-1zm3 0h1v1h-1zm-1 1h1v1h-1zm-1 1h1v1h-1zM298 327h3v1h-3zm0 1h1v2h-1zm3 0h1v1h-1zm-1 1h1v1h-1zm-1 1h1v1h-1zM282 323h3v1h-3zm0 1h1v2h-1zm3 0h1v1h-1zm-1 1h1v1h-1zm-1 1h1v1h-1zM311 326h3v1h-3zm0 1h1v2h-1zm3 0h1v1h-1zm-1 1h1v1h-1zm-1 1h1v1h-1zM303 331h3v1h-3zm0 1h1v2h-1zm3 0h1v1h-1zm-1 1h1v1h-1zm-1 1h1v1h-1zM308 330h3v1h-3zm0 1h1v2h-1zm3 0h1v1h-1zm-1 1h1v1h-1zm-1 1h1v1h-1zM293 323h3v1h-3zm0 1h1v2h-1zm3 0h1v1h-1zm-1 1h1v1h-1zm-1 1h1v1h-1zM277 330h3v1h-3zm0 1h1v2h-1zm3 0h1v1h-1zm-1 1h1v1h-1zm-1 1h1v1h-1zM286 321h3v1h-3zm0 1h1v2h-1zm3 0h1v1h-1zm-1 1h1v1h-1zm-1 1h1v1h-1zM289 328h3v1h-3zm0 1h1v2h-1zm3 0h1v1h-1zm-1 1h1v1h-1zm-1 1h1v1h-1zM284 323h3v1h-3zm0 1h1v2h-1zm3 0h1v1h-1zm-1 1h1v1h-1zm-1 1h1v1h-1zM291 324h3v1h-3zm0 1h1v2h-1zm3 0h1v1h-1zm-1 1h1v1h-1zm-1 1h1v1h-1zM281 326h3v1h-3zm0 1h1v2h-1zm3 0h1v1h-1zm-1 1h1v1h-1zm-1 1h1v1h-1zM312 326h3v1h-3zm0 1h1v2h-1zm3 0h1v1h-1zm-1 1h1v1h-1zm-1 1h1v1h-1zM273 325h3v1h-3zm0 1h1v2h-1zm3 0h1v1h-1zm-1 1h1v1h-1zm-1 1h1v1h-1zM298 326h3v1h-3zm0 1h1v2h-1zm3 0h1v1h-1zm-1 1h1v1h-1zm-1 1h1v1h-1zM311 320h3v1h-3zm0 1h1v2h-1zm3 0h1v1h-1zm-1 1h1v1h-1zm-1 1h1v1h-1zM298 328h3v1h-3zm0 1h1v2h-1zm3 0h1v1h-1zm-1 1h1v1h-1zm-1 1h1v1h-1zM276 320h3v1h-3zm0 1h1v2h-1zm3 0h1v1h-1zm-1 1h1v1h-1zm-1 1h1v1h-1zM309 330h3v1h-3zm0 1h1v2h-1zm3 0h1v1h-1zm-1 1h1v1h-1zm-1 1h1v1h-1zM295 332h3v1h-3zm0 1h1v2h-1zm3 0h1v1h-1zm-1 1h1v1h-1zm-1 1h1v1h-1zM326 338h3v1h-3zm0 1h1v2h-1zm3 0h1v1h-1zm-1 1h1v1h-1zm-1 1h1v1h-1zM323 333h3v1h-3zm0 1h1v2h-1zm3 0h1v1h-1zm-1 1h1v1h-1zm-1 1h1v1h-1zM319 338h3v1h-3zm0 1h1v2h-1zm3 0h1v1h-1zm-1 1h1v1h-1zm-1 1h1v1h-1zM319 342h3v1h-3zm0 1h1v2h-1zm3 0h1v1h-1zm-1 1h1v1h-1zm-1 1h1v1h-1zM326 338h3v1h-3zm0 1h1v2h-1zm3 0h1v1h-1zm-1 1h1v1h-1zm-1 1h1v1h-1zM317 334h3v1h-3zm0 1h1v2h-1zm3 0h1v1h-1zm-1 1h1v1h-1zm-1 1h1v1h-1zM285 334h3v1h-3zm0 1h1v2h-1zm3 0h1v1h-1zm-1 1h1v1h-1zm-1 1h1v1h-1zM277 332h3v1h-3zm0 1h1v2h-1zm3 0h1v1h-1zm-1 1h1v1h-1zm-1 1h1v1h-1zM280 338h3v1h-3zm0 1h1v2h-1zm3 0h1v1h-1zm-1 1h1v1h-1zm-1 1h1v1h-1zM316 329h3v1h-3zm0 1h1v2h-1zm3 0h1v1h-1zm-1 1h1v1h-1zm-1 1h1v1h-1zM277 334h3v1h-3zm0 1h1v2h-1zm3 0h1v1h-1zm-1 1h1v1h-1zm-1 1h1v1h-1zM284 331h3v1h-3zm0 1h1v2h-1zm3 0h1v1h-1zm-1 1h1v1h-1zm-1 1h1v1h-1zM283 340h3v1h-3zm0 1h1v2h-1zm3 0h1v1h-1zm-1 1h1v1h-1zm-1 1h1v1h-1zM291 336h3v1h-3zm0 1h1v2h-1zm3 0h1v1h-1zm-1 1h1v1h-1zm-1 1h1v1h-1zM318 335h3v1h-3zm0 1h1v2h-1zm3 0h1v1h-1zm-1 1h1v1h-1zm-1 1h1v1h-1zM288 342h3v1h-3zm0 1h1v2h-1zm3 0h1v1h-1zm-1 1h1v1h-1zm-1 1h1v1h-1zM300 330h3v1h-3zm0 1h1v2h-1zm3 0h1v1h-1zm-1 1h1v1h-1zm-1 1h1v1h-1zM277 343h3v1h-3zm0 1h1v2h-1zm3 0h1v1h-1zm-1 1h1v1h-1zm-1 1h1v1h-1zM265 309h3v1h-3zm0 1h1v2h-1zm3 0h1v1h-1zm-1 1h1v1h-1zm-1 1h1v1h-1zM258 326h3v1h-3zm0 1h1v2h-1zm3 0h1v1h-1zm-1 1h1v1h-1zm-1 1h1v1h-1zM254 311h3v1h-3zm0 1h1v2h-1zm3 0h1v1h-1zm-1 1h1v1h-1zm-1 1h1v1h-1zM264 315h3v1h-3zm0 1h1v2h-1zm3 0h1v1h-1zm-1 1h1v1h-1zm-1 1h1v1h-1zM256 320h3v1h-3zm0 1h1v2h-1zm3 0h1v1h-1zm-1 1h1v1h-1zm-1 1h1v1h-1zM266 321h3v1h-3zm0 1h1v2h-1zm3 0h1v1h-1zm-1 1h1v1h-1zm-1 1h1v1h-1zM255 306h3v1h-3zm0 1h1v2h-1zm3 0h1v1h-1zm-1 1h1v1h-1zm-1 1h1v1h-1zM264 301h3v1h-3zm0 1h1v2h-1zm3 0h1v1h-1zm-1 1h1v1h-1zm-1 1h1v1h-1zM324 286h3v1h-3zm0 1h1v2h-1zm3 0h1v1h-1zm-1 1h1v1h-1zm-1 1h1v1h-1zM313 293h3v1h-3zm0 1h1v2h-1zm3 0h1v1h-1zm-1 1h1v1h-1zm-1 1h1v1h-1zM300 290h3v1h-3zm0 1h1v2h-1zm3 0h1v1h-1zm-1 1h1v1h-1zm-1 1h1v1h-1zM308 295h3v1h-3zm0 1h1v2h-1zm3 0h1v1h-1zm-1 1h1v1h-1zm-1 1h1v1h-1zM311 300h3v1h-3zm0 1h1v2h-1zm3 0h1v1h-1zm-1 1h1v1h-1zm-1 1h1v1h-1zM321 295h3v1h-3zm0 1h1v2h-1zm3 0h1v1h-1zm-1 1h1v1h-1zm-1 1h1v1h-1zM298 291h3v1h-3zm0 1h1v2h-1zm3 0h1v1h-1zm-1 1h1v1h-1zm-1 1h1v1h-1zM318 289h3v1h-3zm0 1h1v2h-1zm3 0h1v1h-1zm-1 1h1v1h-1zm-1 1h1v1h-1zM314 292h3v1h-3zm0 1h1v2h-1zm3 0h1v1h-1zm-1 1h1v1h-1zm-1 1h1v1h-1zM320 288h3v1h-3zm0 1h1v2h-1zm3 0h1v1h-1zm-1 1h1v1h-1zm-1 1h1v1h-1zM306 290h3v1h-3zm0 1h1v2h-1zm3 0h1v1h-1zm-1 1h1v1h-1zm-1 1h1v1h-1zM324 293h3v1h-3zm0 1h1v2h-1zm3 0h1v1h-1zm-1 1h1v1h-1zm-1 1h1v1h-1zM318 290h3v1h-3zm0 1h1v2h-1zm3 0h1v1h-1zm-1 1h1v1h-1zm-1 1h1v1h-1zM321 286h3v1h-3zm0 1h1v2h-1zm3 0h1v1h-1zm-1 1h1v1h-1zm-1 1h1v1h-1zM302 286h3v1h-3zm0 1h1v2h-1zm3 0h1v1h-1zm-1 1h1v1h-1zm-1 1h1v1h-1zM317 296h3v1h-3zm0 1h1v2h-1zm3 0h1v1h-1zm-1 1h1v1h-1zm-1 1h1v1h-1zM309 286h3v1h-3zm0 1h1v2h-1zm3 0h1v1h-1zm-1 1h1v1h-1zm-1 1h1v1h-1zM324 291h3v1h-3zm0 1h1v2h-1zm3 0h1v1h-1zm-1 1h1v1h-1zm-1 1h1v1h-1zM312 295h3v1h-3zm0 1h1v2h-1zm3 0h1v1h-1zm-1 1h1v1h-1zm-1 1h1v1h-1zM319 297h3v1h-3zm0 1h1v2h-1zm3 0h1v1h-1zm-1 1h1v1h-1zm-1 1h1v1h-1zM309 290h3v1h-3zm0 1h1v2h-1zm3 0h1v1h-1zm-1 1h1v1h-1zm-1 1h1v1h-1zM322 315h3v1h-3zm0 1h1v2h-1zm3 0h1v1h-1zm-1 1h1v1h-1zm-1 1h1v1h-1zM330 318h3v1h-3zm0 1h1v2h-1zm3 0h1v1h-1zm-1 1h1v1h-1zm-1 1h1v1h-1zM316 306h3v1h-3zm0 1h1v2h-1zm3 0h1v1h-1zm-1 1h1v1h-1zm-1 1h1v1h-1zM318 317h3v1h-3zm0 1h1v2h-1zm3 0h1v1h-1zm-1 1h1v1h-1zm-1 1h1v1h-1zM321 311h3v1h-3zm0 1h1v2h-1zm3 0h1v1h-1zm-1 1h1v1h-1zm-1 1h1v1h-1zM318 316h3v1h-3zm0 1h1v2h-1zm3 0h1v1h-1zm-1 1h1v1h-1zm-1 1h1v1h-1zM330 311h3v1h-3zm0 1h1v2h-1zm3 0h1v1h-1zm-1 1h1v1h-1zm-1 1h1v1h-1zM318 321h3v1h-3zm0 1h1v2h-1zm3 0h1v1h-1zm-1 1h1v1h-1zm-1 1h1v1h-1zM329 323h3v1h-3zm0 1h1v2h-1zm3 0h1v1h-1zm-1 1h1v1h-1zm-1 1h1v1h-1zM301 186h3v1h-3zm0 1h1v2h-1zm3 0h1v1h-1zm-1 1h1v1h-1zm-1 1h1v1h-1zM307 218h3v1h-3zm0 1h1v2h-1zm3 0h1v1h-1zm-1 1h1v1h-1zm-1 1h1v1h-1zM306 231h3v1h-3zm0 1h1v2h-1zm3 0h1v1h-1zm-1 1h1v1h-1zm-1 1h1v1h-1zM298 233h3v1h-3zm0 1h1v2h-1zm3 0h1v1h-1zm-1 1h1v1h-1zm-1 1h1v1h-1zM301 235h3v1h-3zm0 1h1v2h-1zm3 0h1v1h-1zm-1 1h1v1h-1zm-1 1h1v1h-1zM293 238h3v1h-3zm0 1h1v2h-1zm3 0h1v1h-1zm-1 1h1v1h-1zm-1 1h1v1h-1zM300 240h3v1h-3zm0 1h1v2h-1zm3 0h1v1h-1zm-1 1h1v1h-1zm-1 1h1v1h-1zM296 243h3v1h-3zm0 1h1v2h-1zm3 0h1v1h-1zm-1 1h1v1h-1zm-1 1h1v1h-1zM307 243h3v1h-3zm0 1h1v2h-1zm3 0h1v1h-1zm-1 1h1v1h-1zm-1 1h1v1h-1zM266 246h3v1h-3zm0 1h1v2h-1zm3 0h1v1h-1zm-1 1h1v1h-1zm-1 1h1v1h-1zM296 251h3v1h-3zm0 1h1v2h-1zm3 0h1v1h-1zm-1 1h1v1h-1zm-1 1h1v1h-1zM301 248h3v1h-3zm0 1h1v2h-1zm3 0h1v1h-1zm-1 1h1v1h-1zm-1 1h1v1h-1zM313 256h3v1h-3zm0 1h1v2h-1zm3 0h1v1h-1zm-1 1h1v1h-1zm-1 1h1v1h-1zM280 256h3v1h-3zm0 1h1v2h-1zm3 0h1v1h-1zm-1 1h1v1h-1zm-1 1h1v1h-1zM304 258h3v1h-3zm0 1h1v2h-1zm3 0h1v1h-1zm-1 1h1v1h-1zm-1 1h1v1h-1zM304 266h3v1h-3zm0 1h1v2h-1zm3 0h1v1h-1zm-1 1h1v1h-1zm-1 1h1v1h-1zM355 196h3v1h-3zm0 1h1v2h-1zm3 0h1v1h-1zm-1 1h1v1h-1zm-1 1h1v1h-1zM333 253h3v1h-3zm0 1h1v2h-1zm3 0h1v1h-1zm-1 1h1v1h-1zm-1 1h1v1h-1zM268 270h3v1h-3zm0 1h1v2h-1zm3 0h1v1h-1zm-1 1h1v1h-1zm-1 1h1v1h-1zM272 272h3v1h-3zm0 1h1v2h-1zm3 0h1v1h-1zm-1 1h1v1h-1zm-1 1h1v1h-1zM254 284h3v1h-3zm0 1h1v2h-1zm3 0h1v1h-1zm-1 1h1v1h-1zm-1 1h1v1h-1zM270 284h3v1h-3zm0 1h1v2h-1zm3 0h1v1h-1zm-1 1h1v1h-1zm-1 1h1v1h-1zM264 286h3v1h-3zm0 1h1v2h-1zm3 0h1v1h-1zm-1 1h1v1h-1zm-1 1h1v1h-1zM244 296h3v1h-3zm0 1h1v2h-1zm3 0h1v1h-1zm-1 1h1v1h-1zm-1 1h1v1h-1zM258 297h3v1h-3zm0 1h1v2h-1zm3 0h1v1h-1zm-1 1h1v1h-1zm-1 1h1v1h-1zM262 303h3v1h-3zm0 1h1v2h-1zm3 0h1v1h-1zm-1 1h1v1h-1zm-1 1h1v1h-1zM265 299h3v1h-3zm0 1h1v2h-1zm3 0h1v1h-1zm-1 1h1v1h-1zm-1 1h1v1h-1zM257 306h3v1h-3zm0 1h1v2h-1zm3 0h1v1h-1zm-1 1h1v1h-1zm-1 1h1v1h-1zM259 310h3v1h-3zm0 1h1v2h-1zm3 0h1v1h-1zm-1 1h1v1h-1zm-1 1h1v1h-1zM228 310h3v1h-3zm0 1h1v2h-1zm3 0h1v1h-1zm-1 1h1v1h-1zm-1 1h1v1h-1zM207 322h3v1h-3zm0 1h1v2h-1zm3 0h1v1h-1zm-1 1h1v1h-1zm-1 1h1v1h-1zM250 322h3v1h-3zm0 1h1v2h-1zm3 0h1v1h-1zm-1 1h1v1h-1zm-1 1h1v1h-1zM263 315h3v1h-3zm0 1h1v2h-1zm3 0h1v1h-1zm-1 1h1v1h-1zm-1 1h1v1h-1zM265 320h3v1h-3zm0 1h1v2h-1zm3 0h1v1h-1zm-1 1h1v1h-1zm-1 1h1v1h-1zM342 278h3v1h-3zm0 1h1v2h-1zm3 0h1v1h-1zm-1 1h1v1h-1zm-1 1h1v1h-1zM345 278h3v1h-3zm0 1h1v2h-1zm3 0h1v1h-1zm-1 1h1v1h-1zm-1 1h1v1h-1zM326 296h3v1h-3zm0 1h1v2h-1zm3 0h1v1h-1zm-1 1h1v1h-1zm-1 1h1v1h-1zM335 301h3v1h-3zm0 1h1v2h-1zm3 0h1v1h-1zm-1 1h1v1h-1zm-1 1h1v1h-1zM344 303h3v1h-3zm0 1h1v2h-1zm3 0h1v1h-1zm-1 1h1v1h-1zm-1 1h1v1h-1zM336 306h3v1h-3zm0 1h1v2h-1zm3 0h1v1h-1zm-1 1h1v1h-1zm-1 1h1v1h-1zM342 310h3v1h-3zm0 1h1v2h-1zm3 0h1v1h-1zm-1 1h1v1h-1zm-1 1h1v1h-1zM345 312h3v1h-3zm0 1h1v2h-1zm3 0h1v1h-1zm-1 1h1v1h-1zm-1 1h1v1h-1zM343 314h3v1h-3zm0 1h1v2h-1zm3 0h1v1h-1zm-1 1h1v1h-1zm-1 1h1v1h-1zM335 316h3v1h-3zm0 1h1v2h-1zm3 0h1v1h-1zm-1 1h1v1h-1zm-1 1h1v1h-1zM345 321h3v1h-3zm0 1h1v2h-1zm3 0h1v1h-1zm-1 1h1v1h-1zm-1 1h1v1h-1zM354 322h3v1h-3zm0 1h1v2h-1zm3 0h1v1h-1zm-1 1h1v1h-1zm-1 1h1v1h-1zM326 306h3v1h-3zm0 1h1v2h-1zm3 0h1v1h-1zm-1 1h1v1h-1zm-1 1h1v1h-1zM321 317h3v1h-3zm0 1h1v2h-1zm3 0h1v1h-1zm-1 1h1v1h-1zm-1 1h1v1h-1zM400 323h3v1h-3zm0 1h1v2h-1zm3 0h1v1h-1zm-1 1h1v1h-1zm-1 1h1v1h-1zM410 330h3v1h-3zm0 1h1v2h-1zm3 0h1v1h-1zm-1 1h1v1h-1zm-1 1h1v1h-1zM523 379h3v1h-3zm0 1h1v2h-1zm3 0h1v1h-1zm-1 1h1v1h-1zm-1 1h1v1h-1zM361 328h3v1h-3zm0 1h1v2h-1zm3 0h1v1h-1zm-1 1h1v1h-1zm-1 1h1v1h-1zM342 322h3v1h-3zm0 1h1v2h-1zm3 0h1v1h-1zm-1 1h1v1h-1zm-1 1h1v1h-1zM340 325h3v1h-3zm0 1h1v2h-1zm3 0h1v1h-1zm-1 1h1v1h-1zm-1 1h1v1h-1zM314 343h3v1h-3zm0 1h1v2h-1zm3 0h1v1h-1zm-1 1h1v1h-1zm-1 1h1v1h-1zM333 337h3v1h-3zm0 1h1v2h-1zm3 0h1v1h-1zm-1 1h1v1h-1zm-1 1h1v1h-1zM338 338h3v1h-3zm0 1h1v2h-1zm3 0h1v1h-1zm-1 1h1v1h-1zm-1 1h1v1h-1zM347 346h3v1h-3zm0 1h1v2h-1zm3 0h1v1h-1zm-1 1h1v1h-1zm-1 1h1v1h-1zM357 337h3v1h-3zm0 1h1v2h-1zm3 0h1v1h-1zm-1 1h1v1h-1zm-1 1h1v1h-1zM321 361h3v1h-3zm0 1h1v2h-1zm3 0h1v1h-1zm-1 1h1v1h-1zm-1 1h1v1h-1zM320 368h3v1h-3zm0 1h1v2h-1zm3 0h1v1h-1zm-1 1h1v1h-1zm-1 1h1v1h-1zM240 335h3v1h-3zm0 1h1v2h-1zm3 0h1v1h-1zm-1 1h1v1h-1zm-1 1h1v1h-1zM272 321h3v1h-3zm0 1h1v2h-1zm3 0h1v1h-1zm-1 1h1v1h-1zm-1 1h1v1h-1zM277 336h3v1h-3zm0 1h1v2h-1zm3 0h1v1h-1zm-1 1h1v1h-1zm-1 1h1v1h-1zM281 338h3v1h-3zm0 1h1v2h-1zm3 0h1v1h-1zm-1 1h1v1h-1zm-1 1h1v1h-1zM283 340h3v1h-3zm0 1h1v2h-1zm3 0h1v1h-1zm-1 1h1v1h-1zm-1 1h1v1h-1zM281 343h3v1h-3zm0 1h1v2h-1zm3 0h1v1h-1zm-1 1h1v1h-1zm-1 1h1v1h-1zM293 342h3v1h-3zm0 1h1v2h-1zm3 0h1v1h-1zm-1 1h1v1h-1zm-1 1h1v1h-1zM295 338h3v1h-3zm0 1h1v2h-1zm3 0h1v1h-1zm-1 1h1v1h-1zm-1 1h1v1h-1zM300 347h3v1h-3zm0 1h1v2h-1zm3 0h1v1h-1zm-1 1h1v1h-1zm-1 1h1v1h-1zM300 357h3v1h-3zm0 1h1v2h-1zm3 0h1v1h-1zm-1 1h1v1h-1zm-1 1h1v1h-1zM308 347h3v1h-3zm0 1h1v2h-1zm3 0h1v1h-1zm-1 1h1v1h-1zm-1 1h1v1h-1zM308 333h3v1h-3zm0 1h1v2h-1zm3 0h1v1h-1zm-1 1h1v1h-1zm-1 1h1v1h-1zM292 333h3v1h-3zm0 1h1v2h-1zm3 0h1v1h-1zm-1 1h1v1h-1zm-1 1h1v1h-1zM284 275h3v1h-3zm0 1h1v2h-1zm3 0h1v1h-1zm-1 1h1v1h-1zm-1 1h1v1h-1zM298 273h3v1h-3zm0 1h1v2h-1zm3 0h1v1h-1zm-1 1h1v1h-1zm-1 1h1v1h-1zM302 280h3v1h-3zm0 1h1v2h-1zm3 0h1v1h-1zm-1 1h1v1h-1zm-1 1h1v1h-1zM285 284h3v1h-3zm0 1h1v2h-1zm3 0h1v1h-1zm-1 1h1v1h-1zm-1 1h1v1h-1zM287 285h3v1h-3zm0 1h1v2h-1zm3 0h1v1h-1zm-1 1h1v1h-1zm-1 1h1v1h-1zM312 284h3v1h-3zm0 1h1v2h-1zm3 0h1v1h-1zm-1 1h1v1h-1zm-1 1h1v1h-1zM305 287h3v1h-3zm0 1h1v2h-1zm3 0h1v1h-1zm-1 1h1v1h-1zm-1 1h1v1h-1zM313 287h3v1h-3zm0 1h1v2h-1zm3 0h1v1h-1zm-1 1h1v1h-1zm-1 1h1v1h-1zM271 292h3v1h-3zm0 1h1v2h-1zm3 0h1v1h-1zm-1 1h1v1h-1zm-1 1h1v1h-1z"/>
<path fill="#b0f048" d="M316 317h3v1h-3zm0 1h1v2h-1zm3 0h1v1h-1zm-1 1h1v1h-1zm-1 1h1v1h-1zM309 311h3v1h-3zm0 1h1v2h-1zm3 0h1v1h-1zm-1 1h1v1h-1zm-1 1h1v1h-1zM306 298h3v1h-3zm0 1h1v2h-1zm3 0h1v1h-1zm-1 1h1v1h-1zm-1 1h1v1h-1zM301 303h3v1h-3zm0 1h1v2h-1zm3 0h1v1h-1zm-1 1h1v1h-1zm-1 1h1v1h-1zM321 305h3v1h-3zm0 1h1v2h-1zm3 0h1v1h-1zm-1 1h1v1h-1zm-1 1h1v1h-1zM297 311h3v1h-3zm0 1h1v2h-1zm3 0h1v1h-1zm-1 1h1v1h-1zm-1 1h1v1h-1zM294 320h3v1h-3zm0 1h1v2h-1zm3 0h1v1h-1zm-1 1h1v1h-1zm-1 1h1v1h-1zM266 302h3v1h-3zm0 1h1v2h-1zm3 0h1v1h-1zm-1 1h1v1h-1zm-1 1h1v1h-1zM293 314h3v1h-3zm0 1h1v2h-1zm3 0h1v1h-1zm-1 1h1v1h-1zm-1 1h1v1h-1zM291 290h3v1h-3zm0 1h1v2h-1zm3 0h1v1h-1zm-1 1h1v1h-1zm-1 1h1v1h-1zM330 314h3v1h-3zm0 1h1v2h-1zm3 0h1v1h-1zm-1 1h1v1h-1zm-1 1h1v1h-1zM266 303h3v1h-3zm0 1h1v2h-1zm3 0h1v1h-1zm-1 1h1v1h-1zm-1 1h1v1h-1zM288 310h3v1h-3zm0 1h1v2h-1zm3 0h1v1h-1zm-1 1h1v1h-1zm-1 1h1v1h-1zM286 299h3v1h-3zm0 1h1v2h-1zm3 0h1v1h-1zm-1 1h1v1h-1zm-1 1h1v1h-1zM281 289h3v1h-3zm0 1h1v2h-1zm3 0h1v1h-1zm-1 1h1v1h-1zm-1 1h1v1h-1zM290 292h3v1h-3zm0 1h1v2h-1zm3 0h1v1h-1zm-1 1h1v1h-1zm-1 1h1v1h-1zM305 316h3v1h-3zm0 1h1v2h-1zm3 0h1v1h-1zm-1 1h1v1h-1zm-1 1h1v1h-1zM291 314h3v1h-3zm0 1h1v2h-1zm3 0h1v1h-1zm-1 1h1v1h-1zm-1 1h1v1h-1zM309 308h3v1h-3zm0 1h1v2h-1zm3 0h1v1h-1zm-1 1h1v1h-1zm-1 1h1v1h-1zM283 322h3v1h-3zm0 1h1v2h-1zm3 0h1v1h-1zm-1 1h1v1h-1zm-1 1h1v1h-1zM290 310h3v1h-3zm0 1h1v2h-1zm3 0h1v1h-1zm-1 1h1v1h-1zm-1 1h1v1h-1zM310 310h3v1h-3zm0 1h1v2h-1zm3 0h1v1h-1zm-1 1h1v1h-1zm-1 1h1v1h-1zM334 306h3v1h-3zm0 1h1v2h-1zm3 0h1v1h-1zm-1 1h1v1h-1zm-1 1h1v1h-1zM317 306h3v1h-3zm0 1h1v2h-1zm3 0h1v1h-1zm-1 1h1v1h-1zm-1 1h1v1h-1zM302 309h3v1h-3zm0 1h1v2h-1zm3 0h1v1h-1zm-1 1h1v1h-1zm-1 1h1v1h-1zM298 325h3v1h-3zm0 1h1v2h-1zm3 0h1v1h-1zm-1 1h1v1h-1zm-1 1h1v1h-1zM309 298h3v1h-3zm0 1h1v2h-1zm3 0h1v1h-1zm-1 1h1v1h-1zm-1 1h1v1h-1zM290 307h3v1h-3zm0 1h1v2h-1zm3 0h1v1h-1zm-1 1h1v1h-1zm-1 1h1v1h-1zM274 313h3v1h-3zm0 1h1v2h-1zm3 0h1v1h-1zm-1 1h1v1h-1zm-1 1h1v1h-1zM312 321h3v1h-3zm0 1h1v2h-1zm3 0h1v1h-1zm-1 1h1v1h-1zm-1 1h1v1h-1zM280 310h3v1h-3zm0 1h1v2h-1zm3 0h1v1h-1zm-1 1h1v1h-1zm-1 1h1v1h-1zM302 307h3v1h-3zm0 1h1v2h-1zm3 0h1v1h-1zm-1 1h1v1h-1zm-1 1h1v1h-1zM304 310h3v1h-3zm0 1h1v2h-1zm3 0h1v1h-1zm-1 1h1v1h-1zm-1 1h1v1h-1zM302 309h3v1h-3zm0 1h1v2h-1zm3 0h1v1h-1zm-1 1h1v1h-1zm-1 1h1v1h-1zM290 337h3v1h-3zm0 1h1v2h-1zm3 0h1v1h-1zm-1 1h1v1h-1zm-1 1h1v1h-1zM307 313h3v1h-3zm0 1h1v2h-1zm3 0h1v1h-1zm-1 1h1v1h-1zm-1 1h1v1h-1zM295 293h3v1h-3zm0 1h1v2h-1zm3 0h1v1h-1zm-1 1h1v1h-1zm-1 1h1v1h-1zM298 292h3v1h-3zm0 1h1v2h-1zm3 0h1v1h-1zm-1 1h1v1h-1zm-1 1h1v1h-1zM302 297h3v1h-3zm0 1h1v2h-1zm3 0h1v1h-1zm-1 1h1v1h-1zm-1 1h1v1h-1zM290 325h3v1h-3zm0 1h1v2h-1zm3 0h1v1h-1zm-1 1h1v1h-1zm-1 1h1v1h-1zM276 320h3v1h-3zm0 1h1v2h-1zm3 0h1v1h-1zm-1 1h1v1h-1zm-1 1h1v1h-1zM309 322h3v1h-3zm0 1h1v2h-1zm3 0h1v1h-1zm-1 1h1v1h-1zm-1 1h1v1h-1zM311 323h3v1h-3zm0 1h1v2h-1zm3 0h1v1h-1zm-1 1h1v1h-1zm-1 1h1v1h-1zM288 326h3v1h-3zm0 1h1v2h-1zm3 0h1v1h-1zm-1 1h1v1h-1zm-1 1h1v1h-1zM276 320h3v1h-3zm0 1h1v2h-1zm3 0h1v1h-1zm-1 1h1v1h-1zm-1 1h1v1h-1zM282 327h3v1h-3zm0 1h1v2h-1zm3 0h1v1h-1zm-1 1h1v1h-1zm-1 1h1v1h-1zM306 326h3v1h-3zm0 1h1v2h-1zm3 0h1v1h-1zm-1 1h1v1h-1zm-1 1h1v1h-1zM286 340h3v1h-3zm0 1h1v2h-1zm3 0h1v1h-1zm-1 1h1v1h-1zm-1 1h1v1h-1zM301 336h3v1h-3zm0 1h1v2h-1zm3 0h1v1h-1zm-1 1h1v1h-1zm-1 1h1v1h-1zM294 329h3v1h-3zm0 1h1v2h-1zm3 0h1v1h-1zm-1 1h1v1h-1zm-1 1h1v1h-1zM284 330h3v1h-3zm0 1h1v2h-1zm3 0h1v1h-1zm-1 1h1v1h-1zm-1 1h1v1h-1zM256 302h3v1h-3zm0 1h1v2h-1zm3 0h1v1h-1zm-1 1h1v1h-1zm-1 1h1v1h-1zM258 313h3v1h-3zm0 1h1v2h-1zm3 0h1v1h-1zm-1 1h1v1h-1zm-1 1h1v1h-1zM320 291h3v1h-3zm0 1h1v2h-1zm3 0h1v1h-1zm-1 1h1v1h-1zm-1 1h1v1h-1zM321 288h3v1h-3zm0 1h1v2h-1zm3 0h1v1h-1zm-1 1h1v1h-1zm-1 1h1v1h-1zM298 300h3v1h-3zm0 1h1v2h-1zm3 0h1v1h-1zm-1 1h1v1h-1zm-1 1h1v1h-1zM318 290h3v1h-3zm0 1h1v2h-1zm3 0h1v1h-1zm-1 1h1v1h-1zm-1 1h1v1h-1zM303 291h3v1h-3zm0 1h1v2h-1zm3 0h1v1h-1zm-1 1h1v1h-1zm-1 1h1v1h-1zM301 288h3v1h-3zm0 1h1v2h-1zm3 0h1v1h-1zm-1 1h1v1h-1zm-1 1h1v1h-1zM310 285h3v1h-3zm0 1h1v2h-1zm3 0h1v1h-1zm-1 1h1v1h-1zm-1 1h1v1h-1zM323 318h3v1h-3zm0 1h1v2h-1zm3 0h1v1h-1zm-1 1h1v1h-1zm-1 1h1v1h-1zM326 319h3v1h-3zm0 1h1v2h-1zm3 0h1v1h-1zm-1 1h1v1h-1zm-1 1h1v1h-1zM321 321h3v1h-3zm0 1h1v2h-1zm3 0h1v1h-1zm-1 1h1v1h-1zm-1 1h1v1h-1zM324 305h3v1h-3zm0 1h1v2h-1zm3 0h1v1h-1zm-1 1h1v1h-1zm-1 1h1v1h-1zM296 213h3v1h-3zm0 1h1v2h-1zm3 0h1v1h-1zm-1 1h1v1h-1zm-1 1h1v1h-1zM298 222h3v1h-3zm0 1h1v2h-1zm3 0h1v1h-1zm-1 1h1v1h-1zm-1 1h1v1h-1zM306 225h3v1h-3zm0 1h1v2h-1zm3 0h1v1h-1zm-1 1h1v1h-1zm-1 1h1v1h-1zM301 229h3v1h-3zm0 1h1v2h-1zm3 0h1v1h-1zm-1 1h1v1h-1zm-1 1h1v1h-1zM291 243h3v1h-3zm0 1h1v2h-1zm3 0h1v1h-1zm-1 1h1v1h-1zm-1 1h1v1h-1zM304 243h3v1h-3zm0 1h1v2h-1zm3 0h1v1h-1zm-1 1h1v1h-1zm-1 1h1v1h-1zM291 256h3v1h-3zm0 1h1v2h-1zm3 0h1v1h-1zm-1 1h1v1h-1zm-1 1h1v1h-1zM255 267h3v1h-3zm0 1h1v2h-1zm3 0h1v1h-1zm-1 1h1v1h-1zm-1 1h1v1h-1zM268 272h3v1h-3zm0 1h1v2h-1zm3 0h1v1h-1zm-1 1h1v1h-1zm-1 1h1v1h-1zM268 281h3v1h-3zm0 1h1v2h-1zm3 0h1v1h-1zm-1 1h1v1h-1zm-1 1h1v1h-1zM252 294h3v1h-3zm0 1h1v2h-1zm3 0h1v1h-1zm-1 1h1v1h-1zm-1 1h1v1h-1zM238 316h3v1h-3zm0 1h1v2h-1zm3 0h1v1h-1zm-1 1h1v1h-1zm-1 1h1v1h-1zM349 316h3v1h-3zm0 1h1v2h-1zm3 0h1v1h-1zm-1 1h1v1h-1zm-1 1h1v1h-1zM381 316h3v1h-3zm0 1h1v2h-1zm3 0h1v1h-1zm-1 1h1v1h-1zm-1 1h1v1h-1zM322 302h3v1h-3zm0 1h1v2h-1zm3 0h1v1h-1zm-1 1h1v1h-1zm-1 1h1v1h-1zM327 312h3v1h-3zm0 1h1v2h-1zm3 0h1v1h-1zm-1 1h1v1h-1zm-1 1h1v1h-1zM328 317h3v1h-3zm0 1h1v2h-1zm3 0h1v1h-1zm-1 1h1v1h-1zm-1 1h1v1h-1zM396 330h3v1h-3zm0 1h1v2h-1zm3 0h1v1h-1zm-1 1h1v1h-1zm-1 1h1v1h-1zM384 333h3v1h-3zm0 1h1v2h-1zm3 0h1v1h-1zm-1 1h1v1h-1zm-1 1h1v1h-1zM517 366h3v1h-3zm0 1h1v2h-1zm3 0h1v1h-1zm-1 1h1v1h-1zm-1 1h1v1h-1zM357 327h3v1h-3zm0 1h1v2h-1zm3 0h1v1h-1zm-1 1h1v1h-1zm-1 1h1v1h-1zM337 325h3v1h-3zm0 1h1v2h-1zm3 0h1v1h-1zm-1 1h1v1h-1zm-1 1h1v1h-1zM327 325h3v1h-3zm0 1h1v2h-1zm3 0h1v1h-1zm-1 1h1v1h-1zm-1 1h1v1h-1zM319 335h3v1h-3zm0 1h1v2h-1zm3 0h1v1h-1zm-1 1h1v1h-1zm-1 1h1v1h-1zM256 344h3v1h-3zm0 1h1v2h-1zm3 0h1v1h-1zm-1 1h1v1h-1zm-1 1h1v1h-1zM278 347h3v1h-3zm0 1h1v2h-1zm3 0h1v1h-1zm-1 1h1v1h-1zm-1 1h1v1h-1zM290 345h3v1h-3zm0 1h1v2h-1zm3 0h1v1h-1zm-1 1h1v1h-1zm-1 1h1v1h-1zM286 364h3v1h-3zm0 1h1v2h-1zm3 0h1v1h-1zm-1 1h1v1h-1zm-1 1h1v1h-1zM311 337h3v1h-3zm0 1h1v2h-1zm3 0h1v1h-1zm-1 1h1v1h-1zm-1 1h1v1h-1zM281 331h3v1h-3zm0 1h1v2h-1zm3 0h1v1h-1zm-1 1h1v1h-1zm-1 1h1v1h-1zM283 328h3v1h-3zm0 1h1v2h-1zm3 0h1v1h-1zm-1 1h1v1h-1zm-1 1h1v1h-1zM302 266h3v1h-3zm0 1h1v2h-1zm3 0h1v1h-1zm-1 1h1v1h-1zm-1 1h1v1h-1zM286 280h3v1h-3zm0 1h1v2h-1zm3 0h1v1h-1zm-1 1h1v1h-1zm-1 1h1v1h-1zM280 289h3v1h-3zm0 1h1v2h-1zm3 0h1v1h-1zm-1 1h1v1h-1zm-1 1h1v1h-1z"/>
<path fill="#98fc60" d="M308 305h3v1h-3zm0 1h1v2h-1zm3 0h1v1h-1zm-1 1h1v1h-1zm-1 1h1v1h-1zM273 308h3v1h-3zm0 1h1v2h-1zm3 0h1v1h-1zm-1 1h1v1h-1zm-1 1h1v1h-1zM304 313h3v1h-3zm0 1h1v2h-1zm3 0h1v1h-1zm-1 1h1v1h-1zm-1 1h1v1h-1zM332 307h3v1h-3zm0 1h1v2h-1zm3 0h1v1h-1zm-1 1h1v1h-1zm-1 1h1v1h-1zM294 310h3v1h-3zm0 1h1v2h-1zm3 0h1v1h-1zm-1 1h1v1h-1zm-1 1h1v1h-1zM272 308h3v1h-3zm0 1h1v2h-1zm3 0h1v1h-1zm-1 1h1v1h-1zm-1 1h1v1h-1zM289 314h3v1h-3zm0 1h1v2h-1zm3 0h1v1h-1zm-1 1h1v1h-1zm-1 1h1v1h-1zM295 301h3v1h-3zm0 1h1v2h-1zm3 0h1v1h-1zm-1 1h1v1h-1zm-1 1h1v1h-1zM301 313h3v1h-3zm0 1h1v2h-1zm3 0h1v1h-1zm-1 1h1v1h-1zm-1 1h1v1h-1zM283 325h3v1h-3zm0 1h1v2h-1zm3 0h1v1h-1zm-1 1h1v1h-1zm-1 1h1v1h-1zM282 315h3v1h-3zm0 1h1v2h-1zm3 0h1v1h-1zm-1 1h1v1h-1zm-1 1h1v1h-1zM287 311h3v1h-3zm0 1h1v2h-1zm3 0h1v1h-1zm-1 1h1v1h-1zm-1 1h1v1h-1zM296 311h3v1h-3zm0 1h1v2h-1zm3 0h1v1h-1zm-1 1h1v1h-1zm-1 1h1v1h-1zM314 311h3v1h-3zm0 1h1v2h-1zm3 0h1v1h-1zm-1 1h1v1h-1zm-1 1h1v1h-1zM269 337h3v1h-3zm0 1h1v2h-1zm3 0h1v1h-1zm-1 1h1v1h-1zm-1 1h1v1h-1zM310 314h3v1h-3zm0 1h1v2h-1zm3 0h1v1h-1zm-1 1h1v1h-1zm-1 1h1v1h-1zM291 297h3v1h-3zm0 1h1v2h-1zm3 0h1v1h-1zm-1 1h1v1h-1zm-1 1h1v1h-1zM275 304h3v1h-3zm0 1h1v2h-1zm3 0h1v1h-1zm-1 1h1v1h-1zm-1 1h1v1h-1zM313 311h3v1h-3zm0 1h1v2h-1zm3 0h1v1h-1zm-1 1h1v1h-1zm-1 1h1v1h-1zM282 310h3v1h-3zm0 1h1v2h-1zm3 0h1v1h-1zm-1 1h1v1h-1zm-1 1h1v1h-1zM287 300h3v1h-3zm0 1h1v2h-1zm3 0h1v1h-1zm-1 1h1v1h-1zm-1 1h1v1h-1zM283 319h3v1h-3zm0 1h1v2h-1zm3 0h1v1h-1zm-1 1h1v1h-1zm-1 1h1v1h-1zM278 300h3v1h-3zm0 1h1v2h-1zm3 0h1v1h-1zm-1 1h1v1h-1zm-1 1h1v1h-1zM306 290h3v1h-3zm0 1h1v2h-1zm3 0h1v1h-1zm-1 1h1v1h-1zm-1 1h1v1h-1zM291 316h3v1h-3zm0 1h1v2h-1zm3 0h1v1h-1zm-1 1h1v1h-1zm-1 1h1v1h-1zM274 300h3v1h-3zm0 1h1v2h-1zm3 0h1v1h-1zm-1 1h1v1h-1zm-1 1h1v1h-1zM298 307h3v1h-3zm0 1h1v2h-1zm3 0h1v1h-1zm-1 1h1v1h-1zm-1 1h1v1h-1zM287 305h3v1h-3zm0 1h1v2h-1zm3 0h1v1h-1zm-1 1h1v1h-1zm-1 1h1v1h-1zM288 294h3v1h-3zm0 1h1v2h-1zm3 0h1v1h-1zm-1 1h1v1h-1zm-1 1h1v1h-1zM279 325h3v1h-3zm0 1h1v2h-1zm3 0h1v1h-1zm-1 1h1v1h-1zm-1 1h1v1h-1zM276 300h3v1h-3zm0 1h1v2h-1zm3 0h1v1h-1zm-1 1h1v1h-1zm-1 1h1v1h-1zM304 334h3v1h-3zm0 1h1v2h-1zm3 0h1v1h-1zm-1 1h1v1h-1zm-1 1h1v1h-1zM280 307h3v1h-3zm0 1h1v2h-1zm3 0h1v1h-1zm-1 1h1v1h-1zm-1 1h1v1h-1zM289 309h3v1h-3zm0 1h1v2h-1zm3 0h1v1h-1zm-1 1h1v1h-1zm-1 1h1v1h-1zM261 324h3v1h-3zm0 1h1v2h-1zm3 0h1v1h-1zm-1 1h1v1h-1zm-1 1h1v1h-1zM303 308h3v1h-3zm0 1h1v2h-1zm3 0h1v1h-1zm-1 1h1v1h-1zm-1 1h1v1h-1zM298 319h3v1h-3zm0 1h1v2h-1zm3 0h1v1h-1zm-1 1h1v1h-1zm-1 1h1v1h-1zM293 319h3v1h-3zm0 1h1v2h-1zm3 0h1v1h-1zm-1 1h1v1h-1zm-1 1h1v1h-1zM302 327h3v1h-3zm0 1h1v2h-1zm3 0h1v1h-1zm-1 1h1v1h-1zm-1 1h1v1h-1zM276 300h3v1h-3zm0 1h1v2h-1zm3 0h1v1h-1zm-1 1h1v1h-1zm-1 1h1v1h-1zM296 305h3v1h-3zm0 1h1v2h-1zm3 0h1v1h-1zm-1 1h1v1h-1zm-1 1h1v1h-1zM260 311h3v1h-3zm0 1h1v2h-1zm3 0h1v1h-1zm-1 1h1v1h-1zm-1 1h1v1h-1zM257 316h3v1h-3zm0 1h1v2h-1zm3 0h1v1h-1zm-1 1h1v1h-1zm-1 1h1v1h-1zM282 323h3v1h-3zm0 1h1v2h-1zm3 0h1v1h-1zm-1 1h1v1h-1zm-1 1h1v1h-1zM281 288h3v1h-3zm0 1h1v2h-1zm3 0h1v1h-1zm-1 1h1v1h-1zm-1 1h1v1h-1zM295 299h3v1h-3zm0 1h1v2h-1zm3 0h1v1h-1zm-1 1h1v1h-1zm-1 1h1v1h-1zM299 340h3v1h-3zm0 1h1v2h-1zm3 0h1v1h-1zm-1 1h1v1h-1zm-1 1h1v1h-1zM324 310h3v1h-3zm0 1h1v2h-1zm3 0h1v1h-1zm-1 1h1v1h-1zm-1 1h1v1h-1zM278 315h3v1h-3zm0 1h1v2h-1zm3 0h1v1h-1zm-1 1h1v1h-1zm-1 1h1v1h-1zM296 280h3v1h-3zm0 1h1v2h-1zm3 0h1v1h-1zm-1 1h1v1h-1zm-1 1h1v1h-1zM281 303h3v1h-3zm0 1h1v2h-1zm3 0h1v1h-1zm-1 1h1v1h-1zm-1 1h1v1h-1zM284 285h3v1h-3zm0 1h1v2h-1zm3 0h1v1h-1zm-1 1h1v1h-1zm-1 1h1v1h-1zM298 335h3v1h-3zm0 1h1v2h-1zm3 0h1v1h-1zm-1 1h1v1h-1zm-1 1h1v1h-1zM294 291h3v1h-3zm0 1h1v2h-1zm3 0h1v1h-1zm-1 1h1v1h-1zm-1 1h1v1h-1zM292 322h3v1h-3zm0 1h1v2h-1zm3 0h1v1h-1zm-1 1h1v1h-1zm-1 1h1v1h-1zM305 323h3v1h-3zm0 1h1v2h-1zm3 0h1v1h-1zm-1 1h1v1h-1zm-1 1h1v1h-1zM309 320h3v1h-3zm0 1h1v2h-1zm3 0h1v1h-1zm-1 1h1v1h-1zm-1 1h1v1h-1zM276 323h3v1h-3zm0 1h1v2h-1zm3 0h1v1h-1zm-1 1h1v1h-1zm-1 1h1v1h-1zM317 330h3v1h-3zm0 1h1v2h-1zm3 0h1v1h-1zm-1 1h1v1h-1zm-1 1h1v1h-1zM290 323h3v1h-3zm0 1h1v2h-1zm3 0h1v1h-1zm-1 1h1v1h-1zm-1 1h1v1h-1zM314 322h3v1h-3zm0 1h1v2h-1zm3 0h1v1h-1zm-1 1h1v1h-1zm-1 1h1v1h-1zM282 339h3v1h-3zm0 1h1v2h-1zm3 0h1v1h-1zm-1 1h1v1h-1zm-1 1h1v1h-1zM302 340h3v1h-3zm0 1h1v2h-1zm3 0h1v1h-1zm-1 1h1v1h-1zm-1 1h1v1h-1zM320 341h3v1h-3zm0 1h1v2h-1zm3 0h1v1h-1zm-1 1h1v1h-1zm-1 1h1v1h-1zM297 329h3v1h-3zm0 1h1v2h-1zm3 0h1v1h-1zm-1 1h1v1h-1zm-1 1h1v1h-1zM314 344h3v1h-3zm0 1h1v2h-1zm3 0h1v1h-1zm-1 1h1v1h-1zm-1 1h1v1h-1zM290 343h3v1h-3zm0 1h1v2h-1zm3 0h1v1h-1zm-1 1h1v1h-1zm-1 1h1v1h-1zM276 328h3v1h-3zm0 1h1v2h-1zm3 0h1v1h-1zm-1 1h1v1h-1zm-1 1h1v1h-1zM323 332h3v1h-3zm0 1h1v2h-1zm3 0h1v1h-1zm-1 1h1v1h-1zm-1 1h1v1h-1zM266 312h3v1h-3zm0 1h1v2h-1zm3 0h1v1h-1zm-1 1h1v1h-1zm-1 1h1v1h-1zM261 311h3v1h-3zm0 1h1v2h-1zm3 0h1v1h-1zm-1 1h1v1h-1zm-1 1h1v1h-1zM325 294h3v1h-3zm0 1h1v2h-1zm3 0h1v1h-1zm-1 1h1v1h-1zm-1 1h1v1h-1zM322 290h3v1h-3zm0 1h1v2h-1zm3 0h1v1h-1zm-1 1h1v1h-1zm-1 1h1v1h-1zM309 295h3v1h-3zm0 1h1v2h-1zm3 0h1v1h-1zm-1 1h1v1h-1zm-1 1h1v1h-1zM305 288h3v1h-3zm0 1h1v2h-1zm3 0h1v1h-1zm-1 1h1v1h-1zm-1 1h1v1h-1zM302 287h3v1h-3zm0 1h1v2h-1zm3 0h1v1h-1zm-1 1h1v1h-1zm-1 1h1v1h-1zM325 313h3v1h-3zm0 1h1v2h-1zm3 0h1v1h-1zm-1 1h1v1h-1zm-1 1h1v1h-1zM329 312h3v1h-3zm0 1h1v2h-1zm3 0h1v1h-1zm-1 1h1v1h-1zm-1 1h1v1h-1zM319 322h3v1h-3zm0 1h1v2h-1zm3 0h1v1h-1zm-1 1h1v1h-1zm-1 1h1v1h-1zM324 315h3v1h-3zm0 1h1v2h-1zm3 0h1v1h-1zm-1 1h1v1h-1zm-1 1h1v1h-1zM324 312h3v1h-3zm0 1h1v2h-1zm3 0h1v1h-1zm-1 1h1v1h-1zm-1 1h1v1h-1zM303 237h3v1h-3zm0 1h1v2h-1zm3 0h1v1h-1zm-1 1h1v1h-1zm-1 1h1v1h-1zM291 240h3v1h-3zm0 1h1v2h-1zm3 0h1v1h-1zm-1 1h1v1h-1zm-1 1h1v1h-1zM301 251h3v1h-3zm0 1h1v2h-1zm3 0h1v1h-1zm-1 1h1v1h-1zm-1 1h1v1h-1zM277 264h3v1h-3zm0 1h1v2h-1zm3 0h1v1h-1zm-1 1h1v1h-1zm-1 1h1v1h-1zM316 240h3v1h-3zm0 1h1v2h-1zm3 0h1v1h-1zm-1 1h1v1h-1zm-1 1h1v1h-1zM326 245h3v1h-3zm0 1h1v2h-1zm3 0h1v1h-1zm-1 1h1v1h-1zm-1 1h1v1h-1zM318 260h3v1h-3zm0 1h1v2h-1zm3 0h1v1h-1zm-1 1h1v1h-1zm-1 1h1v1h-1zM266 284h3v1h-3zm0 1h1v2h-1zm3 0h1v1h-1zm-1 1h1v1h-1zm-1 1h1v1h-1zM272 287h3v1h-3zm0 1h1v2h-1zm3 0h1v1h-1zm-1 1h1v1h-1zm-1 1h1v1h-1zM244 322h3v1h-3zm0 1h1v2h-1zm3 0h1v1h-1zm-1 1h1v1h-1zm-1 1h1v1h-1zM322 279h3v1h-3zm0 1h1v2h-1zm3 0h1v1h-1zm-1 1h1v1h-1zm-1 1h1v1h-1zM329 279h3v1h-3zm0 1h1v2h-1zm3 0h1v1h-1zm-1 1h1v1h-1zm-1 1h1v1h-1zM329 285h3v1h-3zm0 1h1v2h-1zm3 0h1v1h-1zm-1 1h1v1h-1zm-1 1h1v1h-1zM352 292h3v1h-3zm0 1h1v2h-1zm3 0h1v1h-1zm-1 1h1v1h-1zm-1 1h1v1h-1zM326 299h3v1h-3zm0 1h1v2h-1zm3 0h1v1h-1zm-1 1h1v1h-1zm-1 1h1v1h-1zM340 301h3v1h-3zm0 1h1v2h-1zm3 0h1v1h-1zm-1 1h1v1h-1zm-1 1h1v1h-1zM331 306h3v1h-3zm0 1h1v2h-1zm3 0h1v1h-1zm-1 1h1v1h-1zm-1 1h1v1h-1zM359 312h3v1h-3zm0 1h1v2h-1zm3 0h1v1h-1zm-1 1h1v1h-1zm-1 1h1v1h-1zM335 322h3v1h-3zm0 1h1v2h-1zm3 0h1v1h-1zm-1 1h1v1h-1zm-1 1h1v1h-1zM323 309h3v1h-3zm0 1h1v2h-1zm3 0h1v1h-1zm-1 1h1v1h-1zm-1 1h1v1h-1zM396 312h3v1h-3zm0 1h1v2h-1zm3 0h1v1h-1zm-1 1h1v1h-1zm-1 1h1v1h-1zM400 337h3v1h-3zm0 1h1v2h-1zm3 0h1v1h-1zm-1 1h1v1h-1zm-1 1h1v1h-1zM429 345h3v1h-3zm0 1h1v2h-1zm3 0h1v1h-1zm-1 1h1v1h-1zm-1 1h1v1h-1zM406 349h3v1h-3zm0 1h1v2h-1zm3 0h1v1h-1zm-1 1h1v1h-1zm-1 1h1v1h-1zM323 333h3v1h-3zm0 1h1v2h-1zm3 0h1v1h-1zm-1 1h1v1h-1zm-1 1h1v1h-1zM323 338h3v1h-3zm0 1h1v2h-1zm3 0h1v1h-1zm-1 1h1v1h-1zm-1 1h1v1h-1zM367 341h3v1h-3zm0 1h1v2h-1zm3 0h1v1h-1zm-1 1h1v1h-1zm-1 1h1v1h-1zM360 351h3v1h-3zm0 1h1v2h-1zm3 0h1v1h-1zm-1 1h1v1h-1zm-1 1h1v1h-1zM240 329h3v1h-3zm0 1h1v2h-1zm3 0h1v1h-1zm-1 1h1v1h-1zm-1 1h1v1h-1zM264 342h3v1h-3zm0 1h1v2h-1zm3 0h1v1h-1zm-1 1h1v1h-1zm-1 1h1v1h-1zM262 323h3v1h-3zm0 1h1v2h-1zm3 0h1v1h-1zm-1 1h1v1h-1zm-1 1h1v1h-1zM272 325h3v1h-3zm0 1h1v2h-1zm3 0h1v1h-1zm-1 1h1v1h-1zm-1 1h1v1h-1zM298 349h3v1h-3zm0 1h1v2h-1zm3 0h1v1h-1zm-1 1h1v1h-1zm-1 1h1v1h-1zM288 336h3v1h-3zm0 1h1v2h-1zm3 0h1v1h-1zm-1 1h1v1h-1zm-1 1h1v1h-1zM287 330h3v1h-3zm0 1h1v2h-1zm3 0h1v1h-1zm-1 1h1v1h-1zm-1 1h1v1h-1zM284 272h3v1h-3zm0 1h1v2h-1zm3 0h1v1h-1zm-1 1h1v1h-1zm-1 1h1v1h-1z"/>
<path fill="#8cff78" d="M291 307h3v1h-3zm0 1h1v2h-1zm3 0h1v1h-1zm-1 1h1v1h-1zm-1 1h1v1h-1zM343 309h3v1h-3zm0 1h1v2h-1zm3 0h1v1h-1zm-1 1h1v1h-1zm-1 1h1v1h-1zM303 309h3v1h-3zm0 1h1v2h-1zm3 0h1v1h-1zm-1 1h1v1h-1zm-1 1h1v1h-1zM295 303h3v1h-3zm0 1h1v2h-1zm3 0h1v1h-1zm-1 1h1v1h-1zm-1 1h1v1h-1zM296 304h3v1h-3zm0 1h1v2h-1zm3 0h1v1h-1zm-1 1h1v1h-1zm-1 1h1v1h-1zM302 321h3v1h-3zm0 1h1v2h-1zm3 0h1v1h-1zm-1 1h1v1h-1zm-1 1h1v1h-1zM310 307h3v1h-3zm0 1h1v2h-1zm3 0h1v1h-1zm-1 1h1v1h-1zm-1 1h1v1h-1zM297 313h3v1h-3zm0 1h1v2h-1zm3 0h1v1h-1zm-1 1h1v1h-1zm-1 1h1v1h-1zM305 327h3v1h-3zm0 1h1v2h-1zm3 0h1v1h-1zm-1 1h1v1h-1zm-1 1h1v1h-1zM305 310h3v1h-3zm0 1h1v2h-1zm3 0h1v1h-1zm-1 1h1v1h-1zm-1 1h1v1h-1zM286 307h3v1h-3zm0 1h1v2h-1zm3 0h1v1h-1zm-1 1h1v1h-1zm-1 1h1v1h-1zM318 300h3v1h-3zm0 1h1v2h-1zm3 0h1v1h-1zm-1 1h1v1h-1zm-1 1h1v1h-1zM312 315h3v1h-3zm0 1h1v2h-1zm3 0h1v1h-1zm-1 1h1v1h-1zm-1 1h1v1h-1zM324 308h3v1h-3zm0 1h1v2h-1zm3 0h1v1h-1zm-1 1h1v1h-1zm-1 1h1v1h-1zM291 298h3v1h-3zm0 1h1v2h-1zm3 0h1v1h-1zm-1 1h1v1h-1zm-1 1h1v1h-1zM293 310h3v1h-3zm0 1h1v2h-1zm3 0h1v1h-1zm-1 1h1v1h-1zm-1 1h1v1h-1zM286 320h3v1h-3zm0 1h1v2h-1zm3 0h1v1h-1zm-1 1h1v1h-1zm-1 1h1v1h-1zM311 302h3v1h-3zm0 1h1v2h-1zm3 0h1v1h-1zm-1 1h1v1h-1zm-1 1h1v1h-1zM284 290h3v1h-3zm0 1h1v2h-1zm3 0h1v1h-1zm-1 1h1v1h-1zm-1 1h1v1h-1zM291 304h3v1h-3zm0 1h1v2h-1zm3 0h1v1h-1zm-1 1h1v1h-1zm-1 1h1v1h-1zM269 305h3v1h-3zm0 1h1v2h-1zm3 0h1v1h-1zm-1 1h1v1h-1zm-1 1h1v1h-1zM285 322h3v1h-3zm0 1h1v2h-1zm3 0h1v1h-1zm-1 1h1v1h-1zm-1 1h1v1h-1zM319 308h3v1h-3zm0 1h1v2h-1zm3 0h1v1h-1zm-1 1h1v1h-1zm-1 1h1v1h-1zM271 308h3v1h-3zm0 1h1v2h-1zm3 0h1v1h-1zm-1 1h1v1h-1zm-1 1h1v1h-1zM341 304h3v1h-3zm0 1h1v2h-1zm3 0h1v1h-1zm-1 1h1v1h-1zm-1 1h1v1h-1zM290 324h3v1h-3zm0 1h1v2h-1zm3 0h1v1h-1zm-1 1h1v1h-1zm-1 1h1v1h-1zM311 298h3v1h-3zm0 1h1v2h-1zm3 0h1v1h-1zm-1 1h1v1h-1zm-1 1h1v1h-1zM309 305h3v1h-3zm0 1h1v2h-1zm3 0h1v1h-1zm-1 1h1v1h-1zm-1 1h1v1h-1zM273 336h3v1h-3zm0 1h1v2h-1zm3 0h1v1h-1zm-1 1h1v1h-1zm-1 1h1v1h-1zM292 316h3v1h-3zm0 1h1v2h-1zm3 0h1v1h-1zm-1 1h1v1h-1zm-1 1h1v1h-1zM266 321h3v1h-3zm0 1h1v2h-1zm3 0h1v1h-1zm-1 1h1v1h-1zm-1 1h1v1h-1zM273 287h3v1h-3zm0 1h1v2h-1zm3 0h1v1h-1zm-1 1h1v1h-1zm-1 1h1v1h-1zM298 313h3v1h-3zm0 1h1v2h-1zm3 0h1v1h-1zm-1 1h1v1h-1zm-1 1h1v1h-1zM329 280h3v1h-3zm0 1h1v2h-1zm3 0h1v1h-1zm-1 1h1v1h-1zm-1 1h1v1h-1zM292 306h3v1h-3zm0 1h1v2h-1zm3 0h1v1h-1zm-1 1h1v1h-1zm-1 1h1v1h-1zM280 322h3v1h-3zm0 1h1v2h-1zm3 0h1v1h-1zm-1 1h1v1h-1zm-1 1h1v1h-1zM278 298h3v1h-3zm0 1h1v2h-1zm3 0h1v1h-1zm-1 1h1v1h-1zm-1 1h1v1h-1zM292 323h3v1h-3zm0 1h1v2h-1zm3 0h1v1h-1zm-1 1h1v1h-1zm-1 1h1v1h-1zM286 315h3v1h-3zm0 1h1v2h-1zm3 0h1v1h-1zm-1 1h1v1h-1zm-1 1h1v1h-1zM293 337h3v1h-3zm0 1h1v2h-1zm3 0h1v1h-1zm-1 1h1v1h-1zm-1 1h1v1h-1zM342 319h3v1h-3zm0 1h1v2h-1zm3 0h1v1h-1zm-1 1h1v1h-1zm-1 1h1v1h-1zM297 298h3v1h-3zm0 1h1v2h-1zm3 0h1v1h-1zm-1 1h1v1h-1zm-1 1h1v1h-1zM298 300h3v1h-3zm0 1h1v2h-1zm3 0h1v1h-1zm-1 1h1v1h-1zm-1 1h1v1h-1zM302 277h3v1h-3zm0 1h1v2h-1zm3 0h1v1h-1zm-1 1h1v1h-1zm-1 1h1v1h-1zM308 329h3v1h-3zm0 1h1v2h-1zm3 0h1v1h-1zm-1 1h1v1h-1zm-1 1h1v1h-1zM307 327h3v1h-3zm0 1h1v2h-1zm3 0h1v1h-1zm-1 1h1v1h-1zm-1 1h1v1h-1zM290 320h3v1h-3zm0 1h1v2h-1zm3 0h1v1h-1zm-1 1h1v1h-1zm-1 1h1v1h-1zM311 323h3v1h-3zm0 1h1v2h-1zm3 0h1v1h-1zm-1 1h1v1h-1zm-1 1h1v1h-1zM287 324h3v1h-3zm0 1h1v2h-1zm3 0h1v1h-1zm-1 1h1v1h-1zm-1 1h1v1h-1zM279 337h3v1h-3zm0 1h1v2h-1zm3 0h1v1h-1zm-1 1h1v1h-1zm-1 1h1v1h-1zM313 339h3v1h-3zm0 1h1v2h-1zm3 0h1v1h-1zm-1 1h1v1h-1zm-1 1h1v1h-1zM302 339h3v1h-3zm0 1h1v2h-1zm3 0h1v1h-1zm-1 1h1v1h-1zm-1 1h1v1h-1zM259 305h3v1h-3zm0 1h1v2h-1zm3 0h1v1h-1zm-1 1h1v1h-1zm-1 1h1v1h-1zM309 293h3v1h-3zm0 1h1v2h-1zm3 0h1v1h-1zm-1 1h1v1h-1zm-1 1h1v1h-1zM321 294h3v1h-3zm0 1h1v2h-1zm3 0h1v1h-1zm-1 1h1v1h-1zm-1 1h1v1h-1zM321 314h3v1h-3zm0 1h1v2h-1zm3 0h1v1h-1zm-1 1h1v1h-1zm-1 1h1v1h-1zM317 307h3v1h-3zm0 1h1v2h-1zm3 0h1v1h-1zm-1 1h1v1h-1zm-1 1h1v1h-1zM325 303h3v1h-3zm0 1h1v2h-1zm3 0h1v1h-1zm-1 1h1v1h-1zm-1 1h1v1h-1zM321 310h3v1h-3zm0 1h1v2h-1zm3 0h1v1h-1zm-1 1h1v1h-1zm-1 1h1v1h-1zM304 202h3v1h-3zm0 1h1v2h-1zm3 0h1v1h-1zm-1 1h1v1h-1zm-1 1h1v1h-1zM301 218h3v1h-3zm0 1h1v2h-1zm3 0h1v1h-1zm-1 1h1v1h-1zm-1 1h1v1h-1zM295 225h3v1h-3zm0 1h1v2h-1zm3 0h1v1h-1zm-1 1h1v1h-1zm-1 1h1v1h-1zM286 240h3v1h-3zm0 1h1v2h-1zm3 0h1v1h-1zm-1 1h1v1h-1zm-1 1h1v1h-1zM302 256h3v1h-3zm0 1h1v2h-1zm3 0h1v1h-1zm-1 1h1v1h-1zm-1 1h1v1h-1zM302 260h3v1h-3zm0 1h1v2h-1zm3 0h1v1h-1zm-1 1h1v1h-1zm-1 1h1v1h-1zM288 261h3v1h-3zm0 1h1v2h-1zm3 0h1v1h-1zm-1 1h1v1h-1zm-1 1h1v1h-1zM300 266h3v1h-3zm0 1h1v2h-1zm3 0h1v1h-1zm-1 1h1v1h-1zm-1 1h1v1h-1zM308 266h3v1h-3zm0 1h1v2h-1zm3 0h1v1h-1zm-1 1h1v1h-1zm-1 1h1v1h-1zM315 265h3v1h-3zm0 1h1v2h-1zm3 0h1v1h-1zm-1 1h1v1h-1zm-1 1h1v1h-1zM248 294h3v1h-3zm0 1h1v2h-1zm3 0h1v1h-1zm-1 1h1v1h-1zm-1 1h1v1h-1zM210 316h3v1h-3zm0 1h1v2h-1zm3 0h1v1h-1zm-1 1h1v1h-1zm-1 1h1v1h-1zM247 314h3v1h-3zm0 1h1v2h-1zm3 0h1v1h-1zm-1 1h1v1h-1zm-1 1h1v1h-1zM333 285h3v1h-3zm0 1h1v2h-1zm3 0h1v1h-1zm-1 1h1v1h-1zm-1 1h1v1h-1zM320 291h3v1h-3zm0 1h1v2h-1zm3 0h1v1h-1zm-1 1h1v1h-1zm-1 1h1v1h-1zM334 312h3v1h-3zm0 1h1v2h-1zm3 0h1v1h-1zm-1 1h1v1h-1zm-1 1h1v1h-1zM357 314h3v1h-3zm0 1h1v2h-1zm3 0h1v1h-1zm-1 1h1v1h-1zm-1 1h1v1h-1zM403 328h3v1h-3zm0 1h1v2h-1zm3 0h1v1h-1zm-1 1h1v1h-1zm-1 1h1v1h-1zM394 337h3v1h-3zm0 1h1v2h-1zm3 0h1v1h-1zm-1 1h1v1h-1zm-1 1h1v1h-1zM376 348h3v1h-3zm0 1h1v2h-1zm3 0h1v1h-1zm-1 1h1v1h-1zm-1 1h1v1h-1zM396 356h3v1h-3zm0 1h1v2h-1zm3 0h1v1h-1zm-1 1h1v1h-1zm-1 1h1v1h-1zM524 389h3v1h-3zm0 1h1v2h-1zm3 0h1v1h-1zm-1 1h1v1h-1zm-1 1h1v1h-1zM323 323h3v1h-3zm0 1h1v2h-1zm3 0h1v1h-1zm-1 1h1v1h-1zm-1 1h1v1h-1zM327 329h3v1h-3zm0 1h1v2h-1zm3 0h1v1h-1zm-1 1h1v1h-1zm-1 1h1v1h-1zM326 336h3v1h-3zm0 1h1v2h-1zm3 0h1v1h-1zm-1 1h1v1h-1zm-1 1h1v1h-1zM250 328h3v1h-3zm0 1h1v2h-1zm3 0h1v1h-1zm-1 1h1v1h-1zm-1 1h1v1h-1zM244 335h3v1h-3zm0 1h1v2h-1zm3 0h1v1h-1zm-1 1h1v1h-1zm-1 1h1v1h-1zM241 345h3v1h-3zm0 1h1v2h-1zm3 0h1v1h-1zm-1 1h1v1h-1zm-1 1h1v1h-1zM280 325h3v1h-3zm0 1h1v2h-1zm3 0h1v1h-1zm-1 1h1v1h-1zm-1 1h1v1h-1zM288 333h3v1h-3zm0 1h1v2h-1zm3 0h1v1h-1zm-1 1h1v1h-1zm-1 1h1v1h-1zM346 379h3v1h-3zm0 1h1v2h-1zm3 0h1v1h-1zm-1 1h1v1h-1zm-1 1h1v1h-1zM308 268h3v1h-3zm0 1h1v2h-1zm3 0h1v1h-1zm-1 1h1v1h-1zm-1 1h1v1h-1zM296 280h3v1h-3zm0 1h1v2h-1zm3 0h1v1h-1zm-1 1h1v1h-1zm-1 1h1v1h-1zM291 286h3v1h-3zm0 1h1v2h-1zm3 0h1v1h-1zm-1 1h1v1h-1zm-1 1h1v1h-1zM294 289h3v1h-3zm0 1h1v2h-1zm3 0h1v1h-1zm-1 1h1v1h-1zm-1 1h1v1h-1zM307 284h3v1h-3zm0 1h1v2h-1zm3 0h1v1h-1zm-1 1h1v1h-1zm-1 1h1v1h-1z"/>
<path fill="#bcf040" d="M297 315h3v1h-3zm0 1h1v2h-1zm3 0h1v1h-1zm-1 1h1v1h-1zm-1 1h1v1h-1zM292 312h3v1h-3zm0 1h1v2h-1zm3 0h1v1h-1zm-1 1h1v1h-1zm-1 1h1v1h-1zM307 304h3v1h-3zm0 1h1v2h-1zm3 0h1v1h-1zm-1 1h1v1h-1zm-1 1h1v1h-1zM318 306h3v1h-3zm0 1h1v2h-1zm3 0h1v1h-1zm-1 1h1v1h-1zm-1 1h1v1h-1zM308 317h3v1h-3zm0 1h1v2h-1zm3 0h1v1h-1zm-1 1h1v1h-1zm-1 1h1v1h-1zM320 306h3v1h-3zm0 1h1v2h-1zm3 0h1v1h-1zm-1 1h1v1h-1zm-1 1h1v1h-1zM330 323h3v1h-3zm0 1h1v2h-1zm3 0h1v1h-1zm-1 1h1v1h-1zm-1 1h1v1h-1zM295 302h3v1h-3zm0 1h1v2h-1zm3 0h1v1h-1zm-1 1h1v1h-1zm-1 1h1v1h-1zM291 312h3v1h-3zm0 1h1v2h-1zm3 0h1v1h-1zm-1 1h1v1h-1zm-1 1h1v1h-1zM316 301h3v1h-3zm0 1h1v2h-1zm3 0h1v1h-1zm-1 1h1v1h-1zm-1 1h1v1h-1zM308 302h3v1h-3zm0 1h1v2h-1zm3 0h1v1h-1zm-1 1h1v1h-1zm-1 1h1v1h-1zM299 316h3v1h-3zm0 1h1v2h-1zm3 0h1v1h-1zm-1 1h1v1h-1zm-1 1h1v1h-1zM273 322h3v1h-3zm0 1h1v2h-1zm3 0h1v1h-1zm-1 1h1v1h-1zm-1 1h1v1h-1zM326 311h3v1h-3zm0 1h1v2h-1zm3 0h1v1h-1zm-1 1h1v1h-1zm-1 1h1v1h-1zM306 301h3v1h-3zm0 1h1v2h-1zm3 0h1v1h-1zm-1 1h1v1h-1zm-1 1h1v1h-1zM266 315h3v1h-3zm0 1h1v2h-1zm3 0h1v1h-1zm-1 1h1v1h-1zm-1 1h1v1h-1zM263 315h3v1h-3zm0 1h1v2h-1zm3 0h1v1h-1zm-1 1h1v1h-1zm-1 1h1v1h-1zM308 296h3v1h-3zm0 1h1v2h-1zm3 0h1v1h-1zm-1 1h1v1h-1zm-1 1h1v1h-1zM281 302h3v1h-3zm0 1h1v2h-1zm3 0h1v1h-1zm-1 1h1v1h-1zm-1 1h1v1h-1zM301 310h3v1h-3zm0 1h1v2h-1zm3 0h1v1h-1zm-1 1h1v1h-1zm-1 1h1v1h-1zM298 304h3v1h-3zm0 1h1v2h-1zm3 0h1v1h-1zm-1 1h1v1h-1zm-1 1h1v1h-1zM289 304h3v1h-3zm0 1h1v2h-1zm3 0h1v1h-1zm-1 1h1v1h-1zm-1 1h1v1h-1zM295 306h3v1h-3zm0 1h1v2h-1zm3 0h1v1h-1zm-1 1h1v1h-1zm-1 1h1v1h-1zM311 296h3v1h-3zm0 1h1v2h-1zm3 0h1v1h-1zm-1 1h1v1h-1zm-1 1h1v1h-1zM284 330h3v1h-3zm0 1h1v2h-1zm3 0h1v1h-1zm-1 1h1v1h-1zm-1 1h1v1h-1zM320 290h3v1h-3zm0 1h1v2h-1zm3 0h1v1h-1zm-1 1h1v1h-1zm-1 1h1v1h-1zM319 308h3v1h-3zm0 1h1v2h-1zm3 0h1v1h-1zm-1 1h1v1h-1zm-1 1h1v1h-1zM321 323h3v1h-3zm0 1h1v2h-1zm3 0h1v1h-1zm-1 1h1v1h-1zm-1 1h1v1h-1zM297 318h3v1h-3zm0 1h1v2h-1zm3 0h1v1h-1zm-1 1h1v1h-1zm-1 1h1v1h-1zM324 298h3v1h-3zm0 1h1v2h-1zm3 0h1v1h-1zm-1 1h1v1h-1zm-1 1h1v1h-1zM333 309h3v1h-3zm0 1h1v2h-1zm3 0h1v1h-1zm-1 1h1v1h-1zm-1 1h1v1h-1zM302 300h3v1h-3zm0 1h1v2h-1zm3 0h1v1h-1zm-1 1h1v1h-1zm-1 1h1v1h-1zM329 296h3v1h-3zm0 1h1v2h-1zm3 0h1v1h-1zm-1 1h1v1h-1zm-1 1h1v1h-1zM272 309h3v1h-3zm0 1h1v2h-1zm3 0h1v1h-1zm-1 1h1v1h-1zm-1 1h1v1h-1zM306 322h3v1h-3zm0 1h1v2h-1zm3 0h1v1h-1zm-1 1h1v1h-1zm-1 1h1v1h-1zM310 291h3v1h-3zm0 1h1v2h-1zm3 0h1v1h-1zm-1 1h1v1h-1zm-1 1h1v1h-1zM282 293h3v1h-3zm0 1h1v2h-1zm3 0h1v1h-1zm-1 1h1v1h-1zm-1 1h1v1h-1zM286 303h3v1h-3zm0 1h1v2h-1zm3 0h1v1h-1zm-1 1h1v1h-1zm-1 1h1v1h-1zM289 285h3v1h-3zm0 1h1v2h-1zm3 0h1v1h-1zm-1 1h1v1h-1zm-1 1h1v1h-1zM299 300h3v1h-3zm0 1h1v2h-1zm3 0h1v1h-1zm-1 1h1v1h-1zm-1 1h1v1h-1zM292 295h3v1h-3zm0 1h1v2h-1zm3 0h1v1h-1zm-1 1h1v1h-1zm-1 1h1v1h-1zM287 289h3v1h-3zm0 1h1v2h-1zm3 0h1v1h-1zm-1 1h1v1h-1zm-1 1h1v1h-1zM297 286h3v1h-3zm0 1h1v2h-1zm3 0h1v1h-1zm-1 1h1v1h-1zm-1 1h1v1h-1zM317 315h3v1h-3zm0 1h1v2h-1zm3 0h1v1h-1zm-1 1h1v1h-1zm-1 1h1v1h-1zM292 279h3v1h-3zm0 1h1v2h-1zm3 0h1v1h-1zm-1 1h1v1h-1zm-1 1h1v1h-1zM294 295h3v1h-3zm0 1h1v2h-1zm3 0h1v1h-1zm-1 1h1v1h-1zm-1 1h1v1h-1zM276 327h3v1h-3zm0 1h1v2h-1zm3 0h1v1h-1zm-1 1h1v1h-1zm-1 1h1v1h-1zM299 325h3v1h-3zm0 1h1v2h-1zm3 0h1v1h-1zm-1 1h1v1h-1zm-1 1h1v1h-1zM316 330h3v1h-3zm0 1h1v2h-1zm3 0h1v1h-1zm-1 1h1v1h-1zm-1 1h1v1h-1zM316 324h3v1h-3zm0 1h1v2h-1zm3 0h1v1h-1zm-1 1h1v1h-1zm-1 1h1v1h-1zM310 325h3v1h-3zm0 1h1v2h-1zm3 0h1v1h-1zm-1 1h1v1h-1zm-1 1h1v1h-1zM280 328h3v1h-3zm0 1h1v2h-1zm3 0h1v1h-1zm-1 1h1v1h-1zm-1 1h1v1h-1zM318 327h3v1h-3zm0 1h1v2h-1zm3 0h1v1h-1zm-1 1h1v1h-1zm-1 1h1v1h-1zM314 342h3v1h-3zm0 1h1v2h-1zm3 0h1v1h-1zm-1 1h1v1h-1zm-1 1h1v1h-1zM306 342h3v1h-3zm0 1h1v2h-1zm3 0h1v1h-1zm-1 1h1v1h-1zm-1 1h1v1h-1zM287 339h3v1h-3zm0 1h1v2h-1zm3 0h1v1h-1zm-1 1h1v1h-1zm-1 1h1v1h-1zM306 330h3v1h-3zm0 1h1v2h-1zm3 0h1v1h-1zm-1 1h1v1h-1zm-1 1h1v1h-1zM304 343h3v1h-3zm0 1h1v2h-1zm3 0h1v1h-1zm-1 1h1v1h-1zm-1 1h1v1h-1zM261 312h3v1h-3zm0 1h1v2h-1zm3 0h1v1h-1zm-1 1h1v1h-1zm-1 1h1v1h-1zM263 305h3v1h-3zm0 1h1v2h-1zm3 0h1v1h-1zm-1 1h1v1h-1zm-1 1h1v1h-1zM259 320h3v1h-3zm0 1h1v2h-1zm3 0h1v1h-1zm-1 1h1v1h-1zm-1 1h1v1h-1zM263 326h3v1h-3zm0 1h1v2h-1zm3 0h1v1h-1zm-1 1h1v1h-1zm-1 1h1v1h-1zM254 321h3v1h-3zm0 1h1v2h-1zm3 0h1v1h-1zm-1 1h1v1h-1zm-1 1h1v1h-1zM302 297h3v1h-3zm0 1h1v2h-1zm3 0h1v1h-1zm-1 1h1v1h-1zm-1 1h1v1h-1zM307 290h3v1h-3zm0 1h1v2h-1zm3 0h1v1h-1zm-1 1h1v1h-1zm-1 1h1v1h-1zM311 296h3v1h-3zm0 1h1v2h-1zm3 0h1v1h-1zm-1 1h1v1h-1zm-1 1h1v1h-1zM301 291h3v1h-3zm0 1h1v2h-1zm3 0h1v1h-1zm-1 1h1v1h-1zm-1 1h1v1h-1zM315 289h3v1h-3zm0 1h1v2h-1zm3 0h1v1h-1zm-1 1h1v1h-1zm-1 1h1v1h-1zM328 313h3v1h-3zm0 1h1v2h-1zm3 0h1v1h-1zm-1 1h1v1h-1zm-1 1h1v1h-1zM317 304h3v1h-3zm0 1h1v2h-1zm3 0h1v1h-1zm-1 1h1v1h-1zm-1 1h1v1h-1zM318 322h3v1h-3zm0 1h1v2h-1zm3 0h1v1h-1zm-1 1h1v1h-1zm-1 1h1v1h-1zM300 214h3v1h-3zm0 1h1v2h-1zm3 0h1v1h-1zm-1 1h1v1h-1zm-1 1h1v1h-1zM308 240h3v1h-3zm0 1h1v2h-1zm3 0h1v1h-1zm-1 1h1v1h-1zm-1 1h1v1h-1zM307 248h3v1h-3zm0 1h1v2h-1zm3 0h1v1h-1zm-1 1h1v1h-1zm-1 1h1v1h-1zM308 252h3v1h-3zm0 1h1v2h-1zm3 0h1v1h-1zm-1 1h1v1h-1zm-1 1h1v1h-1zM306 260h3v1h-3zm0 1h1v2h-1zm3 0h1v1h-1zm-1 1h1v1h-1zm-1 1h1v1h-1zM309 263h3v1h-3zm0 1h1v2h-1zm3 0h1v1h-1zm-1 1h1v1h-1zm-1 1h1v1h-1zM269 266h3v1h-3zm0 1h1v2h-1zm3 0h1v1h-1zm-1 1h1v1h-1zm-1 1h1v1h-1zM316 260h3v1h-3zm0 1h1v2h-1zm3 0h1v1h-1zm-1 1h1v1h-1zm-1 1h1v1h-1zM257 289h3v1h-3zm0 1h1v2h-1zm3 0h1v1h-1zm-1 1h1v1h-1zm-1 1h1v1h-1zM259 301h3v1h-3zm0 1h1v2h-1zm3 0h1v1h-1zm-1 1h1v1h-1zm-1 1h1v1h-1zM243 306h3v1h-3zm0 1h1v2h-1zm3 0h1v1h-1zm-1 1h1v1h-1zm-1 1h1v1h-1zM250 308h3v1h-3zm0 1h1v2h-1zm3 0h1v1h-1zm-1 1h1v1h-1zm-1 1h1v1h-1zM264 308h3v1h-3zm0 1h1v2h-1zm3 0h1v1h-1zm-1 1h1v1h-1zm-1 1h1v1h-1zM245 314h3v1h-3zm0 1h1v2h-1zm3 0h1v1h-1zm-1 1h1v1h-1zm-1 1h1v1h-1zM259 320h3v1h-3zm0 1h1v2h-1zm3 0h1v1h-1zm-1 1h1v1h-1zm-1 1h1v1h-1zM319 272h3v1h-3zm0 1h1v2h-1zm3 0h1v1h-1zm-1 1h1v1h-1zm-1 1h1v1h-1zM333 303h3v1h-3zm0 1h1v2h-1zm3 0h1v1h-1zm-1 1h1v1h-1zm-1 1h1v1h-1zM342 306h3v1h-3zm0 1h1v2h-1zm3 0h1v1h-1zm-1 1h1v1h-1zm-1 1h1v1h-1zM366 318h3v1h-3zm0 1h1v2h-1zm3 0h1v1h-1zm-1 1h1v1h-1zm-1 1h1v1h-1zM400 328h3v1h-3zm0 1h1v2h-1zm3 0h1v1h-1zm-1 1h1v1h-1zm-1 1h1v1h-1zM412 340h3v1h-3zm0 1h1v2h-1zm3 0h1v1h-1zm-1 1h1v1h-1zm-1 1h1v1h-1zM317 339h3v1h-3zm0 1h1v2h-1zm3 0h1v1h-1zm-1 1h1v1h-1zm-1 1h1v1h-1zM342 342h3v1h-3zm0 1h1v2h-1zm3 0h1v1h-1zm-1 1h1v1h-1zm-1 1h1v1h-1zM244 325h3v1h-3zm0 1h1v2h-1zm3 0h1v1h-1zm-1 1h1v1h-1zm-1 1h1v1h-1zM244 330h3v1h-3zm0 1h1v2h-1zm3 0h1v1h-1zm-1 1h1v1h-1zm-1 1h1v1h-1zM256 337h3v1h-3zm0 1h1v2h-1zm3 0h1v1h-1zm-1 1h1v1h-1zm-1 1h1v1h-1zM266 350h3v1h-3zm0 1h1v2h-1zm3 0h1v1h-1zm-1 1h1v1h-1zm-1 1h1v1h-1zM284 349h3v1h-3zm0 1h1v2h-1zm3 0h1v1h-1zm-1 1h1v1h-1zm-1 1h1v1h-1zM304 335h3v1h-3zm0 1h1v2h-1zm3 0h1v1h-1zm-1 1h1v1h-1zm-1 1h1v1h-1zM304 339h3v1h-3zm0 1h1v2h-1zm3 0h1v1h-1zm-1 1h1v1h-1zm-1 1h1v1h-1zM210 368h3v1h-3zm0 1h1v2h-1zm3 0h1v1h-1zm-1 1h1v1h-1zm-1 1h1v1h-1zM203 409h3v1h-3zm0 1h1v2h-1zm3 0h1v1h-1zm-1 1h1v1h-1zm-1 1h1v1h-1zM279 279h3v1h-3zm0 1h1v2h-1zm3 0h1v1h-1zm-1 1h1v1h-1zm-1 1h1v1h-1zM291 279h3v1h-3zm0 1h1v2h-1zm3 0h1v1h-1zm-1 1h1v1h-1zm-1 1h1v1h-1zM300 286h3v1h-3zm0 1h1v2h-1zm3 0h1v1h-1zm-1 1h1v1h-1zm-1 1h1v1h-1zM308 289h3v1h-3zm0 1h1v2h-1zm3 0h1v1h-1zm-1 1h1v1h-1zm-1 1h1v1h-1z"/>
<path d="M294.4 309.4L290.6 320L302.5 319.4" fill="none" stroke="#d8d8d8" stroke-width="1"/>
<text transform="translate(594.4,71) scale(1,0.86)" font-size="11.63" font-weight="normal" font-style="normal" fill="#000" text-anchor="start" xml:space="preserve" >Num of Sources</text>
<text transform="translate(790.5,71) scale(1,0.86)" font-size="11.63" font-weight="normal" font-style="normal" fill="#000" text-anchor="end" xml:space="preserve" >1289</text>
<text transform="translate(594.4,85) scale(1,0.86)" font-size="11.63" font-weight="normal" font-style="normal" fill="#000" text-anchor="start" xml:space="preserve" >Min Freq, kHz</text>
<text transform="translate(790.5,85) scale(1,0.86)" font-size="11.63" font-weight="normal" font-style="normal" fill="#000" text-anchor="end" xml:space="preserve" >2800</text>
<text transform="translate(594.4,99) scale(1,0.86)" font-size="11.63" font-weight="normal" font-style="normal" fill="#000" text-anchor="start" xml:space="preserve" >Max Freq, kHz</text>
<text transform="translate(790.5,99) scale(1,0.86)" font-size="11.63" font-weight="normal" font-style="normal" fill="#000" text-anchor="end" xml:space="preserve" >3150</text>
<text transform="translate(594.4,113) scale(1,0.86)" font-size="11.63" font-weight="normal" font-style="normal" fill="#000" text-anchor="start" xml:space="preserve" >Min Range, km</text>
<text transform="translate(790.5,113) scale(1,0.86)" font-size="11.63" font-weight="normal" font-style="normal" fill="#000" text-anchor="end" xml:space="preserve" >262</text>
<text transform="translate(594.4,127) scale(1,0.86)" font-size="11.63" font-weight="normal" font-style="normal" fill="#000" text-anchor="start" xml:space="preserve" >Max Range, km</text>
<text transform="translate(790.5,127) scale(1,0.86)" font-size="11.63" font-weight="normal" font-style="normal" fill="#000" text-anchor="end" xml:space="preserve" >570</text>
<text transform="translate(594.4,141) scale(1,0.86)" font-size="11.63" font-weight="normal" font-style="normal" fill="#000" text-anchor="start" xml:space="preserve" >Max Amp, dB</text>
<text transform="translate(790.5,141) scale(1,0.86)" font-size="11.63" font-weight="normal" font-style="normal" fill="#000" text-anchor="end" xml:space="preserve" >63</text>
<text transform="translate(594.4,155) scale(1,0.86)" font-size="11.63" font-weight="normal" font-style="normal" fill="#000" text-anchor="start" xml:space="preserve" >Max SNR Amp, dB</text>
<text transform="translate(790.5,155) scale(1,0.86)" font-size="11.63" font-weight="normal" font-style="normal" fill="#000" text-anchor="end" xml:space="preserve" >55</text>
<text transform="translate(594.4,169) scale(1,0.86)" font-size="11.63" font-weight="normal" font-style="normal" fill="#000" text-anchor="start" xml:space="preserve" >Min SNR Amp, dB</text>
<text transform="translate(790.5,169) scale(1,0.86)" font-size="11.63" font-weight="normal" font-style="normal" fill="#000" text-anchor="end" xml:space="preserve" >11</text>
<text transform="translate(594.4,183) scale(1,0.86)" font-size="11.63" font-weight="normal" font-style="normal" fill="#000" text-anchor="start" xml:space="preserve" >Avg SNR Amp, dB</text>
<text transform="translate(790.5,183) scale(1,0.86)" font-size="11.63" font-weight="normal" font-style="normal" fill="#000" text-anchor="end" xml:space="preserve" >27</text>
<text transform="translate(594.4,197) scale(1,0.86)" font-size="11.63" font-weight="normal" font-style="normal" fill="#000" text-anchor="start" xml:space="preserve" >Max RMS Err, deg</text>
<text transform="translate(790.5,197) scale(1,0.86)" font-size="11.63" font-weight="normal" font-style="normal" fill="#000" text-anchor="end" xml:space="preserve" >12.0</text>
<text transform="translate(594.4,211) scale(1,0.86)" font-size="11.63" font-weight="normal" font-style="normal" fill="#000" text-anchor="start" xml:space="preserve" >Min RMS Err, deg</text>
<text transform="translate(790.5,211) scale(1,0.86)" font-size="11.63" font-weight="normal" font-style="normal" fill="#000" text-anchor="end" xml:space="preserve" >0.0</text>
<text transform="translate(594.4,225) scale(1,0.86)" font-size="11.63" font-weight="normal" font-style="normal" fill="#000" text-anchor="start" xml:space="preserve" >Avg RMS Err, deg</text>
<text transform="translate(790.5,225) scale(1,0.86)" font-size="11.63" font-weight="normal" font-style="normal" fill="#000" text-anchor="end" xml:space="preserve" >3.1</text>
<text transform="translate(594.4,239) scale(1,0.86)" font-size="11.63" font-weight="normal" font-style="normal" fill="#000" text-anchor="start" xml:space="preserve" >Doppler Res, Hz</text>
<text transform="translate(790.5,239) scale(1,0.86)" font-size="11.63" font-weight="normal" font-style="normal" fill="#000" text-anchor="end" xml:space="preserve" >0.0488</text>
<text transform="translate(594.4,253) scale(1,0.86)" font-size="11.63" font-weight="normal" font-style="normal" fill="#000" text-anchor="start" xml:space="preserve" >CIT, sec</text>
<text transform="translate(790.5,253) scale(1,0.86)" font-size="11.63" font-weight="normal" font-style="normal" fill="#000" text-anchor="end" xml:space="preserve" >20.48</text>
<text transform="translate(594.4,267) scale(1,0.86)" font-size="11.63" font-weight="normal" font-style="normal" fill="#000" text-anchor="start" xml:space="preserve" >Num of CITs</text>
<text transform="translate(790.5,267) scale(1,0.86)" font-size="11.63" font-weight="normal" font-style="normal" fill="#000" text-anchor="end" xml:space="preserve" >6</text>
<text transform="translate(594.4,281) scale(1,0.86)" font-size="11.63" font-weight="normal" font-style="normal" fill="#000" text-anchor="start" xml:space="preserve" >Polarization</text>
<text transform="translate(790.5,281) scale(1,0.86)" font-size="11.63" font-weight="normal" font-style="normal" fill="#000" text-anchor="end" xml:space="preserve" >O-mode</text>
<text transform="translate(594.4,295) scale(1,0.86)" font-size="11.63" font-weight="normal" font-style="normal" fill="#000" text-anchor="start" xml:space="preserve" >Center of Sources, deg:</text>
<text transform="translate(594.4,309) scale(1,0.86)" font-size="11.63" font-weight="normal" font-style="normal" fill="#000" text-anchor="start" xml:space="preserve" >          Zenith</text>
<text transform="translate(790.5,309) scale(1,0.86)" font-size="11.63" font-weight="normal" font-style="normal" fill="#000" text-anchor="end" xml:space="preserve" >0.7</text>
<text transform="translate(594.4,323) scale(1,0.86)" font-size="11.63" font-weight="normal" font-style="normal" fill="#000" text-anchor="start" xml:space="preserve" >          Azimuth</text>
<text transform="translate(790.5,323) scale(1,0.86)" font-size="11.63" font-weight="normal" font-style="normal" fill="#000" text-anchor="end" xml:space="preserve" >341</text>
<path d="M720.8 319.6 Q723.5 315.6 725.8 319.3" fill="none" stroke="#000" stroke-width="1.1"/><path d="M720.2 318.8 L722.6 320.6 L720.6 320.9Z" fill="#000"/>
<defs><linearGradient id="jet" x1="0" y1="0" x2="0" y2="1"><stop offset="0" stop-color="#0000c0"/><stop offset="0.12" stop-color="#0000ff"/><stop offset="0.37" stop-color="#00ffff"/><stop offset="0.5" stop-color="#80ff80"/><stop offset="0.645" stop-color="#ffff00"/><stop offset="0.88" stop-color="#ff0000"/><stop offset="1" stop-color="#b00000"/></linearGradient></defs>
<rect x="593" y="341.4" width="15" height="240.89999999999998" fill="url(#jet)"/>
<path d="M608.5 341V583" stroke="#000" stroke-width="1"/>
<path d="M609 341.5h6M609 345.5h6M609 349.5h3M609 353.5h3M609 356.5h3M609 360.5h3M609 364.5h6M609 368.5h3M609 372.5h3M609 376.5h3M609 380.5h3M609 384.5h6M609 388.5h3M609 391.5h3M609 395.5h3M609 399.5h3M609 403.5h6M609 407.5h3M609 411.5h3M609 415.5h3M609 419.5h3M609 422.5h6M609 426.5h3M609 430.5h3M609 434.5h3M609 438.5h3M609 442.5h6M609 446.5h3M609 450.5h3M609 454.5h3M609 457.5h3M609 461.5h6M609 465.5h3M609 469.5h3M609 473.5h3M609 477.5h3M609 481.5h6M609 485.5h3M609 489.5h3M609 492.5h3M609 496.5h3M609 500.5h6M609 504.5h3M609 508.5h3M609 512.5h3M609 516.5h3M609 520.5h6M609 524.5h3M609 527.5h3M609 531.5h3M609 535.5h3M609 539.5h6M609 543.5h3M609 547.5h3M609 551.5h3M609 555.5h3M609 558.5h6M609 562.5h3M609 566.5h3M609 570.5h3M609 574.5h3M609 578.5h6M609 582.5h6" stroke="#000" stroke-width="1"/>
<text x="617.5" y="345.20" font-size="11" font-weight="bold" style="font-family:'DejaVu Sans',sans-serif">3.1</text>
<text x="617.5" y="368.51" font-size="11" font-weight="bold" style="font-family:'DejaVu Sans',sans-serif">2.5</text>
<text x="617.5" y="387.94" font-size="11" font-weight="bold" style="font-family:'DejaVu Sans',sans-serif">2.0</text>
<text x="617.5" y="407.37" font-size="11" font-weight="bold" style="font-family:'DejaVu Sans',sans-serif">1.5</text>
<text x="617.5" y="426.80" font-size="11" font-weight="bold" style="font-family:'DejaVu Sans',sans-serif">1.0</text>
<text x="617.5" y="446.22" font-size="11" font-weight="bold" style="font-family:'DejaVu Sans',sans-serif">0.5</text>
<text x="617.5" y="465.65" font-size="11" font-weight="bold" style="font-family:'DejaVu Sans',sans-serif">0</text>
<text x="617.5" y="485.08" font-size="11" font-weight="bold" style="font-family:'DejaVu Sans',sans-serif">-0.5</text>
<text x="617.5" y="504.50" font-size="11" font-weight="bold" style="font-family:'DejaVu Sans',sans-serif">-1.0</text>
<text x="617.5" y="523.93" font-size="11" font-weight="bold" style="font-family:'DejaVu Sans',sans-serif">-1.5</text>
<text x="617.5" y="543.36" font-size="11" font-weight="bold" style="font-family:'DejaVu Sans',sans-serif">-2.0</text>
<text x="617.5" y="562.79" font-size="11" font-weight="bold" style="font-family:'DejaVu Sans',sans-serif">-2.5</text>
<text x="617.5" y="586.10" font-size="11" font-weight="bold" style="font-family:'DejaVu Sans',sans-serif">-3.1</text>
<text transform="translate(657.8,491.5) rotate(-90)" font-size="9.5" font-weight="bold" textLength="53" lengthAdjust="spacingAndGlyphs" style="font-family:'DejaVu Sans',sans-serif">Doppler, Hz</text>
<path d="M669 402.5h8M672.5 399v7" stroke="#0000f0" stroke-width="1"/>
<text x="682.5" y="406.1" font-size="10.1" font-weight="bold" fill="#0000f0" style="font-family:'DejaVu Sans',sans-serif">Positive</text>
<circle cx="673" cy="523" r="2.4" fill="none" stroke="#ee0000" stroke-width="1"/>
<text x="682.5" y="526.1" font-size="10.3" font-weight="bold" fill="#ee0000" style="font-family:'DejaVu Sans',sans-serif">Negative</text>
<text transform="translate(12.5,571.8) scale(1,0.86)" font-size="11.63" xml:space="preserve"><tspan font-style="italic">V</tspan><tspan dy="3.3" font-size="10">h</tspan><tspan dy="-3.3" font-style="italic"> = 32 ± 48 </tspan>m/s</text>
<text transform="translate(12.5,592.6) scale(1,0.86)" font-size="11.63" font-style="italic" xml:space="preserve">Compass coordinates</text>
<text transform="translate(474,571.8) scale(1,0.86)" font-size="11.63" xml:space="preserve"><tspan font-style="italic">V</tspan><tspan dy="3.3" font-size="10">z</tspan><tspan dy="-3.3" font-style="italic"> = 21 ± 1 </tspan>m/s</text>
<text transform="translate(419.5,592.2) scale(1,0.86)" font-size="11.63" font-style="italic" xml:space="preserve">Zenith: max 40°<tspan dx="-3.5">  step 5°</tspan></text>
<text x="654.4" y="592.6" font-size="9.6" textLength="138" lengthAdjust="spacingAndGlyphs" style="font-family:'DejaVu Sans',sans-serif" xml:space="preserve">ShowSkymap v 1.0   SD v 5.0</text>
</svg></body></html>
